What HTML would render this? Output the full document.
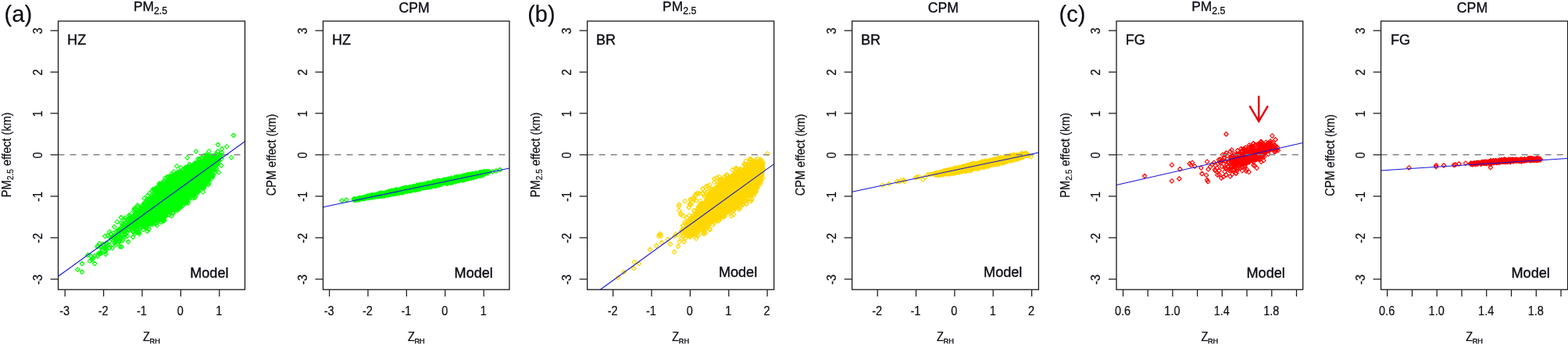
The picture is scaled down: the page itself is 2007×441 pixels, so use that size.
<!DOCTYPE html>
<html lang="en"><head><meta charset="utf-8"><title>Model effects</title>
<style>html,body{margin:0;padding:0;background:#fff}svg{display:block}text{font-family:'Liberation Sans',sans-serif;fill:#0c0c14;stroke:#0c0c14;stroke-width:.3px}.ax{font-size:15.8px;stroke-width:.18px}.tg{font-size:18.1px;stroke-width:.36px}.tt{font-size:17.4px}.lt{font-size:29px;stroke-width:.2px}.sb{font-size:9.7px;stroke-width:.4px}.bx{fill:none;stroke:#1a1a1a;stroke-width:1.3}.tk{stroke:#1a1a1a;stroke-width:1.25;fill:none}.dz{stroke:#848484;stroke-width:1.3;stroke-dasharray:8 7;fill:none}.rl{stroke:#1414d8;stroke-width:1.05;fill:none}.pt{fill:none;stroke:none}.m0{marker:url(#m0)}.m1{marker:url(#m1)}.m2{marker:url(#m2)}</style></head><body>
<svg width="2007" height="441" viewBox="0 0 2007 441">
<rect width="2007" height="441" fill="#fff"/>
<defs><marker id="m0" markerWidth="8" markerHeight="8" refX="4" refY="4" markerUnits="userSpaceOnUse"><path d="M4 1.25L6.75 4 4 6.75 1.25 4z" fill="none" stroke="#00ff00" stroke-width="1.1" stroke-linejoin="round"/></marker><marker id="m1" markerWidth="8" markerHeight="8" refX="4" refY="4" markerUnits="userSpaceOnUse"><path d="M4 1.25L6.75 4 4 6.75 1.25 4z" fill="none" stroke="#ffd700" stroke-width="1.1" stroke-linejoin="round"/></marker><marker id="m2" markerWidth="8" markerHeight="8" refX="4" refY="4" markerUnits="userSpaceOnUse"><path d="M4 1.25L6.75 4 4 6.75 1.25 4z" fill="none" stroke="#ff0000" stroke-width="1.1" stroke-linejoin="round"/></marker></defs>
<g>
<text class="lt" x="5.6" y="27.9">(a)</text>
<text class="tt" x="192.5" y="14.2" text-anchor="middle">PM<tspan font-size="12.3" dy="3.5">2.5</tspan></text>
<polyline class="pt m0" points="208.5,245 218.5,251.3 263.6,217.2 200.1,262.7 201.9,241.3 246.3,235.6 209.3,255 240.2,244 197.4,278.7 232.4,251.5 222.4,238.3 185.1,260.7 221.3,229.6 192.1,273.9 155.6,315.5 206.8,275.9 201.6,268 249,227.1 247.6,224.7 227,254.1 200.6,263.9 228.3,238.1 257.3,211.5 260.2,215.2 218.1,259.5 272.6,206.9 185.7,263.7 274.3,216.6 262.3,223.3 205.8,258.1 185.9,277.8 258.6,221.6 242.2,245 254.8,230.7 205.7,248.2 200.6,266.2 245.4,239.5 233.2,244.9 172.1,288 200.6,252.6 265.7,218.4 246.9,227.5 232.4,222.9 233.3,245 217.5,227.6 230.9,236.5 203.8,272.8 231.9,232.1 207.3,250.8 221.3,246.1 251,214.9 279,185 239.2,250.5 214.5,255 225.3,235.5 260.8,219.1 256.4,221.8 208.7,249.9 182.5,265.8 210.9,255 241.1,238.8 228,220.8 245.9,234.7 240.2,215.7 216.9,253.9 259.7,212.6 212.4,248.8 194.7,276.7 196.8,271.4 193.1,260.5 226.7,223.5 136,310.7 198.4,257.7 191,272.7 236.1,229.7 237.7,230.6 237.4,214.7 242.7,223.6 240.4,233.5 184.1,280.8 196.8,258.5 193.7,255.6 257.2,222.8 140,313.4 217.6,261.6 259.7,228.5 190.9,270.8 179.1,292.4 281.3,199 265.5,218.4 214,254.1 261.3,215.2 196,265.2 230.1,242.8 267.5,220.2 240.5,233.4 151,294.2 222.9,256.1 219.7,240.4 221.1,247.3 214.9,253.9 196.7,273.8 217.3,235.2 230.9,238.7 216.7,245.1 228.3,242.6 199.2,273.1 193.1,273.9 261.1,208.7 188.9,259.7 193.7,258.9 215.8,256.8 263.8,212.8 147,306.1 204.6,240 195.4,271.7 222.4,255.1 241.1,220.5 254.4,210.3 217.5,244.7 213.9,254.8 178.1,276.2 227,245.3 207,262.3 217.1,246.2 207.5,263.9 209.5,266 226.8,247.7 210.8,270.8 219.6,261.1 268.6,216.4 245.6,237.4 270.3,228.9 202.6,239.9 202.5,260.7 248.4,230.2 189,272.9 266.5,215.8 248.3,234.2 188.2,254.7 259.7,219.7 208.6,271 200.4,249.4 244.6,230.7 227.6,242.7 270.3,208.7 205,269.1 181.6,289.8 245.6,243.1 205.6,249.3 255.5,210.2 173.4,298.4 265.2,222.9 228.7,247.5 262.7,220.3 159.5,303.2 234.9,234.9 217.6,265.8 247.8,246.3 256.3,216.7 268.3,202.3 224.7,228.4 252.9,217.9 249.5,238 230.2,248.8 226.6,241 225.3,237.3 209.4,266.9 180.8,274.7 245.8,215.8 240.5,231.9 259.9,217.6 219.2,255.9 127.1,324.3 228.3,244.3 279,205.8 208.5,253.5 266.2,198.8 230.3,256.8 225.5,244.5 201.4,263.9 222.3,241.9 270.6,218.3 257.1,228.7 226.7,252.9 245.7,242 251.8,214 236.2,236 223.1,255.5 248.8,235.3 211.5,257.8 220.4,257.9 256.5,218.9 213.7,246.4 199.9,240 258.4,218.1 221.3,252.8 236.4,234.5 206.6,253.7 228,224.1 224.9,228.2 254.3,223.3 256.8,226.8 162.9,287.1 254,225 248.4,236.9 227.8,258.2 261.7,230.4 223.2,261.9 253,234.3 270.7,204.6 253.1,229.8 270.8,211.7 232.4,236.1 266.7,217.4 221.2,237.1 213.5,267.7 238.4,250.1 246.6,237.8 264.3,215.6 268.7,224 249.6,224.1 254,229.2 191.9,286 219.5,224.8 257.9,212.3 181.8,277.2 254,219 257.9,230.1 207.6,272.4 238.7,237.8 181.6,272.9 198.1,258.6 238,239.6 215.8,260.7 203.8,268 170.4,282.7 164.9,289.6 233.8,247.3 247,224.1 248.8,244.3 244.1,225.4 250.1,224.6 258.1,233.1 269.4,212.1 228.2,244 201.4,276.7 247.1,242.9 202.9,241.7 239.1,231.3 256.9,212.2 252.8,226.2 213.6,248.5 201.6,274.3 275.4,203.9 265.4,206.3 249,225.3 257.9,240 255,219.4 250.1,241 183.2,272.2 203.3,263 229.3,239.9 236.1,225.9 250.9,245 258.3,226.7 218.4,259.2 210.8,242 239.1,236.1 212,254.7 207.3,251.6 210.6,266 241.2,220.5 232,243 205,249.2 260.6,208.7 221.4,258.4 265.7,219.2 124.4,315.2 263.2,221 154.4,295.5 185.1,259.5 216.1,252.8 245.7,235.5 154.7,284.9 225.1,244.5 238.8,233.5 184.8,253.6 255.5,214.4 204.3,271.5 221,248.1 209.8,260.4 211.2,270.3 211.8,241.8 198.6,258.2 208.1,277.2 218.1,246.5 200.1,259.3 249.2,225.8 217.5,231.7 243.5,235.2 238.9,230.6 217.9,240.4 251.5,215.1 257,231.7 217.6,236.6 246,222.6 202.8,268.8 238.9,231.4 227.5,245.8 236.6,227.3 239.5,239.7 233.7,239.9 240,227.7 219.6,242.6 238,251.4 221,239.5 188.3,283.6 209.5,262.3 244,246.1 207.8,243.9 155.9,295.5 264.3,222.8 251.1,230.5 264.9,209.1 229.2,257.2 206.3,247.4 248.9,233.7 254,228.9 218.6,246.9 258.7,225.2 219.1,230.5 196.6,264.2 201.2,270 207.5,259 274,216.2 207.3,262.8 263.1,211.1 239.3,247.2 182.3,284.7 221.3,237.8 185.6,268.4 245.7,248.4 193.9,273.7 167.9,285.2 257,221.7 207.5,265.8 243.9,239.9 166.4,289.4 193.4,274.1 201.7,252.6 209.4,250.4 221.8,242.2 216.4,233.8 193.7,265.3 250.9,216.5 239.1,250.1 204.9,262.1 268.1,226.2 216.7,262.7 236.8,243.5 254.9,208.7 225.2,252.3 208.6,253.5 212.5,261.7 210,268.8 255.2,229.9 213,270.7 242.4,247.3 269.5,223.1 233.6,253.2 219.6,255 262.5,220.7 260.1,208.4 211.8,276 245.1,230.1 178.8,279.1 205.9,258 264,212.4 255.3,241.7 227.8,257.5 251.9,208 217.7,232.9 178.6,271.6 258,222.3 245.1,217.1 184,282.1 252.2,217.9 243.7,224 203.2,246.3 181.8,272.4 208.7,251 134.3,316.9 201.2,282.9 250.9,226.6 238.9,255.6 217.2,244.5 273.6,208.1 186.4,268.4 268.9,220.7 248.3,232.8 217.6,248.8 217.3,242.6 196.6,271.7 211.7,248.5 274.3,211.2 193.7,279.4 206,260 234.1,237.7 236.7,236.5 241.6,225.2 249.2,235.1 252.4,220.7 207.5,249.9 246.9,249 223.4,237.2 176.1,279.2 175.4,278.3 245.3,226.1 239.6,235 243.1,240.8 189.7,273.5 238.3,227.7 227,232.9 243.9,245.1 249.5,231.5 276.2,205.8 215.1,248.7 247.8,214.6 224.4,238.1 248.9,243.3 225,258.8 224.5,237.9 223.6,237.4 223.3,233.3 216,234.9 244,234.7 216.8,258.2 208,239.5 245.5,230.2 195,265.2 233.8,243.7 241.2,226.9 218.4,238.1 219.5,257.6 227.2,254.6 236.6,229.6 256,238.9 234.2,231.1 244.1,242.9 223,246.9 212.1,254.7 259.8,227.3 188,281.9 200.9,279.3 213.4,266.5 250.3,237.4 278.2,205.9 224.5,241.6 230.9,243.5 263.1,232.1 204.6,279.7 260,233 275.9,208 268.2,207.8 262.7,220 242.4,242.5 202.8,266.8 249.1,228.6 227.3,241.2 208.8,234 188.7,266.2 213.3,266.4 257,232.7 212.9,245.5 222.5,243.1 200,263.4 253.5,244.3 257.6,224 168,289.9 220.9,229.4 232.3,260.6 266.5,230.1 238.1,228.8 194.2,280.3 242.1,234 222.5,263.1 181.2,274.7 207.8,251.8 195.8,269.3 255.3,212.7 237.4,228.5 249.2,239.4 266.6,222.4 186.6,274 240.3,231.9 247,237.3 227.3,250 214.4,252.3 257.2,230.7 247.7,219.5 233.5,234.6 187.8,263.7 248.8,241.3 176,262.5 206.9,268.1 237,229.9 234.3,240.9 211.3,227.6 158.4,287.6 112.5,326 244,232.3 183.9,277.1 211.2,254.4 252.3,228.1 245.6,233.4 280,220.3 232.8,244.6 171.9,289.2 244.4,230.5 192.7,271.9 135,321.8 187.4,287.2 243.9,224.1 240.4,233.7 179.7,284.1 166.4,279.8 208.2,263.8 228.5,231.7 263.3,230.8 219.6,249.7 240.9,243.3 191.9,273 173.2,277.6 273.6,201.8 263,211.1 252.3,222.8 240.9,242.7 224.6,240.8 256,214.4 238.8,228.8 200.6,263.2 221.3,253.1 230.5,223.3 239,233.5 256,229.6 190.2,268.7 196.8,256.1 236.6,236.9 245.8,223.9 214,226.2 176.1,290.8 213,263.8 217.3,240.3 263.2,213.8 251,228.7 268.5,216.3 267.3,201.6 185.9,273.7 264.5,233.2 271.7,201.8 105,337 251.4,248.4 245.1,250.3 243.8,223.5 261.3,205.6 206.6,259.3 224.3,224.3 232.6,250.2 275.6,206.6 209.4,252.4 260.1,223.6 212.1,249.7 237.5,244.2 250,210.9 249.6,229.1 250.6,242.5 236.6,229 264.1,213.3 227.4,258.1 232.2,255.5 206.7,245.3 171.7,276.2 227.8,229.6 193.9,260.5 214,249.4 201,255.9 270,224.3 209.2,264.7 242.3,241.1 135.3,316.9 147.8,300.3 235.9,238.2 209.1,248.7 233.1,226.3 204.4,268.6 227.9,245.1 213,264.6 224.1,245.6 212.3,265.1 192.5,267.7 235.7,237.7 251.3,228.8 250.7,229.9 198.6,260.2 255.6,231 241.4,225.5 206.6,273.5 223.4,255.2 272.2,212.1 259.1,215.7 270.3,201.5 213.1,266.2 211.7,253.3 198.9,242.1 212,257.1 230.8,243.6 121.2,337 244.5,241.1 237.8,235.3 242,229.8 213.2,244.1 206.6,265.5 222.6,243.6 244.7,228.8 242.3,231.4 186.7,274.1 259.8,209 231.6,241.7 224.4,242.6 264,216.6 213,260.5 257.3,210.1 255.7,213.3 221.6,239.1 246.3,242.7 270.8,213.9 209.2,262.7 247,224.4 262.5,214.6 262.2,214.5 240.5,231.2 244.4,233.3 234.5,237.9 255.2,233.8 222.3,254.9 178.9,269.6 240.5,228.8 150,307.1 256.9,229.5 269.7,209.7 247.9,247.7 206.5,249.7 213.6,247.4 168.4,289.5 221,255.7 224.9,252.4 224.6,246.5 269.4,217.2 248.4,239.7 210,240.8 216.2,265.3 210.7,260.2 203.1,263.6 226.7,245.3 284.1,190.2 245.1,242.4 220,243.5 267.4,217 241.7,244.1 268.8,210.6 229.4,240.3 186.5,268.2 255,224.7 185.6,281.1 227.5,243.4 164.7,278.6 216.3,240.9 200.9,272.8 213.6,269.5 244,245.4 205.7,262.5 177.6,277 234,249.4 212.7,266.9 232,232.9 209.5,259.5 260.8,198.8 258.7,220.4 199.1,265.1 241.8,214.6 244.7,228.2 194.7,252.3 250.6,242.3 213.3,243.6 202.8,267.3 224.9,230.2 260.7,206.9 221.1,255.7 258.9,216.5 246.8,236.5 212.4,259.2 215.4,261.7 240.2,244.3 207.9,256.2 227.2,242.1 239.6,240.1 228.9,242.7 200.1,249.8 248.3,225.5 268.9,213.7 198.3,257.4 267.6,207.9 217.1,257.8 223.5,252.5 184.4,270.5 237.6,249.3 183.3,283.9 206,257.1 217.8,232.4 152.6,293.2 148.7,296.3 250.8,225.3 192,285.2 200,264.1 207.6,259.8 266.4,204.2 206.5,250.8 248.2,219.3 249.6,239.6 198.4,249.9 180.3,268.4 224.9,264.2 244.5,231.2 203.2,257.1 249,237 210.2,265.5 185.1,270.1 211,249.7 216.8,258 258,230.4 255.3,213.2 211.9,256.1 219.4,250.7 222.4,251.8 178.3,299.1 197.3,279.6 236,233.9 204,248 271.8,214.2 254.7,218.8 218.9,248 213.3,270.1 262.7,225.8 253.2,220.5 237.5,221.3 198.1,275.1 198,266.7 223,250.4 193.5,264.1 219.8,238.6 233.5,225.9 204.8,256.6 178.5,284.4 259.6,228.1 244.4,235.3 200.9,242.8 229.1,243.3 170.8,296.9 206.3,261.3 250.8,235.5 185.2,269.8 276,198.6 216.8,265.8 251.3,221.2 264.1,197.6 260.6,227.9 206.4,246.5 230.2,231.1 259.7,225.1 280.5,201.7 116.2,327.5 243.5,232.8 222.9,237.8 189.6,266.1 240.4,228 259.5,219.1 260.4,229.2 152.5,309.6 236.4,237.1 269.1,207.6 220,259.5 205.2,266.6 203.5,274.7 214.7,252.8 249.6,236.8 216.3,261.4 238,251.6 191.9,257.4 265.5,226.7 162.2,284.6 245.1,238.4 232,244.8 187.7,257.6 188.3,275.4 196.6,274.1 230,254.9 245.8,236.4 253,217.1 254.8,240.8 228.1,253.4 221.9,256.3 242.7,218.2 236.3,230 231.8,246.5 272.4,211.2 232,249.8 159.4,281 245.3,217.1 193.6,266.2 212.5,241.5 216.8,237.7 259.9,223.1 218.6,247.5 209.6,266.8 192.6,261 247.6,251 193.6,273.1 248,227.8 216.7,258.5 166.1,284.1 236.7,230.5 229.8,229.1 196,254.8 274.8,204.9 180.3,277.3 247.6,225.3 256.1,233.4 219.6,240.7 204,234.6 225.3,265.5 266.2,218.3 279.1,208.9 205.1,257.6 221.4,271.3 230.3,230.4 193.3,268.5 254.6,229.3 201,245.3 218.6,264 142,298.8 278.1,203.9 192.2,276.8 296.2,201.3 228.4,231.7 240.7,221.8 230.3,221.1 194.2,284.6 230.9,264.8 248.1,232.2 207.8,254.4 268.8,206.6 224,241.6 259.4,229.7 248.3,226.7 225.8,236.4 176.9,282.8 225.8,242.4 259.6,218.4 181.4,274.1 270,215.7 231.6,239.3 192.8,270.4 246.4,226 241,241 197,265.1 209.8,250.2 226.4,249.3 193.9,269.9 187.9,286.1 240.9,233.3 245.2,238 187.3,267.4 223,245 209.9,248.1 222.7,242.5 249.4,225.6 242.7,225.7 267.5,223.7 257.5,236.4 189.8,269.5 190.8,269 176.2,296.5 231.3,245.3 250.8,222.8 189.8,262.7 203.4,265.7 222.1,236 217.6,259.8 215.4,250.7 266.5,223.8 209.1,264.3 217,248.2 263.3,211.4 129.2,316 213.6,266.1 214.9,250.9 200.2,248.8 238.4,252.7 226.2,248.9 261.4,212.8 210.4,246.2 244.6,238 186.9,283.2 195.8,270.1 204.2,270.9 196.6,274.9 190,286 164.2,309 201.3,262.9 251.4,231.4 235.2,236.4 198.7,276.7 249.8,231.9 247.3,220.2 276.3,202 226,233.7 188.7,274.5 191.4,262.6 239.6,225.8 238.2,254.4 245.4,227.6 214.3,249.9 204.9,254.4 229.4,251.1 263.1,215.7 198.3,266.4 260.3,211.6 228.3,244.8 201.2,253.5 145.6,301.3 250.4,234.1 229.1,239.3 256.1,221.4 233.5,255.1 261.6,231.5 275.7,206.3 219.7,269.2 218.8,236 202.1,266.4 212.6,264.7 232.4,234.6 227.9,251.7 217.7,252.2 245.8,234.2 201.2,267.5 214.5,236.1 255.9,230.8 226.2,236 237.6,218.8 230.5,236.7 142.3,305.4 231.4,252.4 224.4,255.7 202.9,262.7 265.5,223.1 240.2,245.6 213.9,241.6 210.4,256.6 199.2,275.4 223.9,240.3 179.2,280.5 211.5,261.3 211.4,268.9 204.8,261.4 261.7,216.6 262.9,214.3 236.8,220.1 268.7,206.7 163.9,293.2 180.1,272.8 210.7,267.2 212.4,260.2 210.2,240 259.4,213 203.7,259.3 244.1,229.2 200,279.2 195.9,275.4 234.1,245.1 231.3,248.2 210.1,280.7 218.8,266.8 197.1,264.4 190,271.2 228.1,259.1 219.8,233.9 202,252.3 229.1,253.4 244.3,226.1 193.6,281.4 275.5,199.3 206.1,262.3 199.1,254.6 234.3,244.6 153.9,295.6 244.8,216.8 262.8,211.6 184.7,273.5 252.4,232.4 224.1,239 240.9,224.8 246.3,220.9 239.3,236.2 186.8,276 243.7,222.2 229.1,238.6 253.2,220 206.3,251.4 275.4,208.5 261.2,232.7 240.8,249.7 202.7,245.6 189.4,265.3 255.2,207.8 218.8,248.1 225.4,224.7 191.9,260.3 182.2,262.7 277.7,202.2 255.6,213.5 265.3,213.9 224.9,256.9 175.2,273.8 244.7,218.3 247.8,227.7 238.8,225.8 232.1,238.2 220.1,251.9 212.5,236.7 269.8,215.6 217.1,265.5 270.2,223.4 222.8,240.6 217.2,248 234.9,230.8 235.6,230.6 219.3,250.1 246.2,230.4 214.8,268.2 217.7,262.6 257,233.4 235.3,234.1 251.7,233.2 208.5,259.2 259.8,210.7 214,268.7 269.3,216.8 256.1,206.8 247.1,236 205.7,269.8 256.7,210.6 237.3,238.7 237.4,239.8 234.8,237.1 265.3,233.9 239.1,220.6 227.3,230.3 256,212.8 176,275 220.7,249.8 230.5,260.3 257.8,223.2 267.4,223.5 211.5,250.3 266.9,201.2 248.9,235.3 199.2,286 173.4,268.2 221.4,241.8 258.7,224.7 227.5,226.5 253.3,238.9 270.2,217 178.4,271.3 247.6,244.1 243.9,225.3 275,209.5 251.7,210.9 243.1,231.8 196.5,243.1 240.6,229.9 229.9,245.5 263.1,227.5 202.7,253.2 283.9,195.2 262,215.9 210.2,239.6 222.8,258.7 201,250.4 233.7,248.3 193.5,257.1 247.9,217.3 228.3,239.9 181.2,277.2 216.8,241.7 241.2,235.7 217,266.5 266.1,224.4 188,272.3 227.9,257.5 270.2,219.4 205.9,260.2 254.9,208.1 260.7,232.4 231.5,230.1 227.5,241.9 186.2,280.8 217.9,232.9 218.8,236.6 273.5,211.6 219.2,247.6 253.1,227.6 204.2,251.5 234.5,228.9 234.3,229.3 243.1,237.9 219.3,242.6 193,268.3 248.9,241.9 199.9,273.9 168.2,278.6 218,257 217.3,259.7 232,232.6 202.4,273.1 252.6,229.3 243.7,233.5 211.5,259.3 175.6,288.5 239.9,237.2 249.2,239.9 230.4,264.2 199.8,270.5 260.6,238.9 222.8,242.3 209.5,247.8 173.7,290.9 210.2,261.1 261.9,215.8 156.4,307.8 191.2,267.2 241.3,245 278.5,201.1 266.4,215.9 258.7,231.2 251.8,235.9 197.8,282.2 216.1,246.4 245.8,234.6 178.1,285.4 207.6,237 258.7,222.7 224.6,251.5 195.3,273.7 245.4,232.7 228.8,238.3 201.6,267.2 190.2,293 211.7,251.1 179.9,285.4 199.1,277 258,234.4 233.3,238.1 253.6,234.1 216.6,236.2 223.8,239.3 261.1,225.8 258.1,225.8 263,221.1 211.7,251.7 202.8,270.1 224.6,238 235.5,230.9 199.8,264.8 266.9,229.9 202.7,263 247.1,227.6 208.9,250.2 208,271 207.6,256 219.5,250.2 235.2,239.1 264.7,217.6 246.8,236.5 232.5,239.2 168.4,272.9 193,266.1 255,227 241.4,234.4 164.3,281.5 266.5,230 200.7,248.7 252.4,239.5 202.8,274.7 256.5,214.2 207.4,269.6 266,212.6 232.3,246.2 206.9,259.7 201.6,266.7 224.8,245.7 244.8,244 236.8,243.1 207.1,258.3 243.6,249.4 170,278.9 237.4,259.5 254.1,215.4 172.4,289.4 205.2,261 217.4,271.6 240.9,213 210.2,240.6 202.6,252.3 209.1,260.7 232.7,237.6 241.7,242.6 214.3,256 227.7,234.6 175,282.9 173.9,274.1 213.1,256.9 206.2,256.9 264.4,215.1 262.4,210.9 259.9,245.4 201.7,273.1 252.8,220.4 154,296.8 263.6,204 127.3,311.5 170,295.6 125,327.5 194.8,272.1 188.6,280.7 237.6,225.7 267.1,227.5 187.8,268.7 135.4,318 225.1,247.8 261.3,205.9 223,246.6 198.1,265.2 218.2,270.8 200.2,263.2 263.5,218.5 225.6,238.3 204.1,276.2 215.9,265.5 204,235.9 198,243.6 184.1,270.7 215.1,266.2 191.4,257.3 234.8,227.7 251.4,228.2 212.9,272.8 251.9,224.2 191.7,280.6 238.5,224.8 246.2,212.2 236.3,231.8 258.2,221.1 196.2,262.1 260.2,226.2 229.9,255.9 222.6,234.9 263.3,208.6 234.8,234.3 275.9,211.2 182.6,282 247.6,233.7 169.9,281.2 216.2,236.5 257.1,235.9 223.5,256 238.8,237.8 270.9,215.1 254.5,235.5 253.8,233.4 226.3,238.7 233.6,227.5 217,259.4 269.9,219.1 226.6,239.2 268.5,214 235.3,254.6 255.3,239.8 230.9,223.2 227.7,240.9 241.4,219.8 210.3,257.9 244.1,230.4 245.7,225.9 256.4,233.8 243.4,217 216.7,260.1 204.2,271.6 261.4,232.6 239.7,244.8 167.9,286 192.8,265.5 143.7,303.1 213.8,248.5 180,273.1 161.2,285.9 202.5,266.6 207.8,259.7 229.4,232.1 207.5,259.3 262.1,216.6 274.9,211.9 163,301.9 189.2,274.5 222.6,257.9 254.4,237 235.2,229.6 245.6,239.2 250.3,251.6 265.6,206.6 247.7,240.4 242.6,240.6 260.5,218.8 247.9,232 213.9,243.6 219.5,245.3 212.1,259.2 166.9,287 248.6,235.8 266.2,213.4 188,281.6 244.5,244.4 206.7,253.3 141.5,303.3 208.4,270.6 210.1,250.5 220.2,246.3 226.9,255.8 255.6,225.8 228.4,252.1 221.2,253.8 205.5,257.3 237,258.2 239.4,221.8 203.1,272.9 259,211.6 274.2,214.6 194.1,264 207.7,255.3 242.9,237.8 283.5,202.9 272.7,210.5 185.8,273.7 230.4,237.2 221.6,227.9 226.6,244.7 250.1,224.6 246.4,219.3 260,213.4 260.7,238.9 246.6,227.2 237.8,259.4 201.5,261.4 230.8,239.1 251.5,233.6 243.9,226.4 150.1,294.4 260.2,222.9 256.5,224.9 278.7,193.7 223.9,254.7 241.4,242.5 192.4,272.5 176.8,283.4 161.1,299 197.8,269.4 211.5,256.4 218.1,247.9 249.9,234 165.6,283.6 204.2,271.9 244.6,240 270,214.7 248.5,231 210.2,282.2 240.2,228.4 207.2,266.8 223.7,253.7 220.3,265.5 201.1,257.7 232.7,224.9 191.9,264.3 226.8,250.5 254.6,224.2 230.8,249.1 233.6,260.2 196,256.5 191.6,263.3 226.6,241.7 275.9,212.5 207.3,259.5 246.4,226.1 224.9,241.9 200.4,269.5 214.4,256.6 229.1,267.2 217.6,261.1 238.3,228.4 243.9,221.8 232.8,247.5 238.2,220.4 237.1,230.2 212.9,243.3 272.4,225.8 257.8,220.7 233.4,251.6 252.1,228.3 208.8,262.7 201,255.3 241.9,221.3 265.1,211.5 237.1,227.9 180.1,290.1 264.4,224.4 254.7,214.7 251.7,238.9 243,236.4 126.2,323.9 232.2,247.8 235.5,225.1 240.7,239.1 224.2,257.6 263.8,210.2 269.5,218.6 228.7,253.1 238.2,233.6 199.5,271.1 191.5,280.9 205.1,235.2 237.3,241.7 203.6,279.9 237.8,218.5 276.5,216.1 207.8,246.1 240.2,224.9 210.2,260.7 187.7,284.2 248.8,231.6 203.1,263.9 243.4,228.2 178.1,282.3 234.5,243.9 247,225.2 197.3,276 155.3,300.7 216.5,267.1 205.1,254.8 230.6,263 234.5,241.4 222.2,247.8 247.1,215.1 235.1,236.5 269.3,221.8 200.8,249.7 237.1,242.8 218.1,258.6 229,238.3 260.3,214.4 208.9,264.2 264.5,221.6 196.8,264.1 177.5,297 251,193.7 190.5,273.4 232.6,260.5 244.6,243.1 195.1,256.3 213,254.5 210,259.8 241.7,242 218.1,244 230.7,242.4 243.1,242.7 202.9,276.2 184.3,260 227.1,239.6 253,230.1 244.6,241 213.6,267.6 199.6,246.1 198.5,282.3 232.4,232.9 252.1,226.8 190.2,292.7 186,284.2 195.1,251.9 234.3,234.2 216.9,247.8 176.4,270.2 212.3,259.7 219.5,222.4 184.7,278.2 280.6,201.4 264.9,224.2 232.8,248.8 231.2,232.3 224.4,230 188.4,273.4 200.3,260.2 265.9,221 257.1,211.3 246.6,231.2 234.1,232.7 236.1,230.4 258.5,216.8 222.4,247.8 262.8,229.1 214.8,264.5 271.2,203.8 260.5,230.4 220.8,244.9 224.3,249.1 269.5,218.4 211.2,270.1 207.7,250.6 215.9,258.1 193.6,267.8 186.1,267.1 186.6,265.1 224.5,250.9 145.3,297.9 222.9,240.6 206.1,248.6 210.2,261.5 186.9,290.7 166,285.7 221,261.6 231.6,234.1 228.6,246.3 197.8,266.6 228.1,241.5 270.6,217.1 224.6,241.6 256.4,224.4 262.3,225.9 186,264.2 221.8,247.2 258.8,210.4 225.8,244.8 262.5,213.7 146.7,311 223.8,244.7 199.2,267.8 270,220 221.7,272.5 213.5,239.9 205.6,263.8 269.6,211.6 241,225.3 201.2,258.3 205.3,260.8 261.2,220.5 253.3,216.2 211.3,251 170.2,303 228.9,245 207.1,253.8 222.5,248.2 234.2,243.3 202.4,264 229.9,238.8 246.7,236.7 227.3,242.9 258.6,220.7 261.9,220.2 205.8,255.4 206.8,269.7 257.1,232.8 211.2,257.9 230.9,254.8 222.6,248.4 226.2,237.2 197.2,259.7 254.2,220.7 222.9,237.4 187.8,279.1 239.9,234.5 135.8,319.2 226.6,243.5 222.5,252.8 244,233.3 241.7,228.9 199.4,269.9 230.1,243.7 180.2,278.3 205.3,274.6 255.3,219.3 209.3,261.3 204.5,266.9 209.6,250.3 243.8,241.6 212.7,261.1 257,233 253.5,229.4 224,240.1 239.6,253.7 265.5,207.3 236,259 243.8,217.9 244.7,246.2 231.6,236.7 187.3,275.4 239.2,235.7 222.5,258.1 259.1,237.9 199.1,251.6 259.1,223.1 248.6,219.3 277.2,206.3 193.8,278.8 250.4,240.4 249.6,238.2 256,232.8 263.8,224.1 207.3,233.9 283.4,198 205.4,237.4 197.2,260.9 230.6,242.8 230.5,246.2 189.3,268.1 177.6,286.1 202.5,282.4 222.9,237.5 261.9,219.9 269.8,210.1 267.1,215.1 216.1,258.4 267.5,201.6 255.5,216.9 159.3,292.1 254.5,222.6 188.8,250 245.2,218 252.8,232.8 164.8,294 199.4,259.4 250.5,217.6 135.3,325 216.6,242.1 264.4,199.2 214.9,262.1 220.5,254.9 208.9,253.5 259,212.3 162.7,297.2 259,219.8 247.4,239.4 171,282.9 179.9,283.4 235.3,225.5 200.5,284.8 217.6,253.4 204.7,255.6 259.5,218.7 235.9,247.7 257.8,201.7 200.9,248.4 239.8,201.6 224.9,235.6 242.5,229.1 240.5,235.9 198.4,265.2 209.8,259.1 254.9,221.3 210,232.6 181.8,281.3 206.2,251.8 159.9,295.8 250.4,232.8 201.6,276.4 221.7,224.7 238.2,232.5 244.4,213.5 253,225.5 149.9,283.7 214.5,250.2 235.5,242 199.7,277.8 254,220.8 242.3,233.8 273.3,215.1 212.6,249.9 223.5,230 209.7,269.3 218,260.9 252.8,233.6 165.3,286.4 208.5,253.8 200.2,256.9 222.8,250.5 230,238 255.8,222.7 238.6,227.7 208,247.4 234.9,259.1 220.1,251 235.6,246.9 263.2,214.8 245,226.4 193.6,274.7 252,229.4 143.7,317.1 250.7,217.8 243.2,230.7 203.1,267.5 257.7,232.8 235.2,236.4 227.2,239.9 211.8,251.1 219.1,243.6 166,289 208,254.9 258.2,236.8 220.1,246.7 218.5,250.6 244.5,241.2 255.7,217.1 198.1,267.1 219.5,245.7 213.4,252.1 239.6,233.2 198.5,266.5 203.6,254.7 201,258.3 206.5,254.6 240.7,242.6 258.9,217.2 198.2,252.9 131.9,312.2 261.9,232.4 261.7,228.2 232.2,234 261.3,209.4 258.8,202.8 221.9,257.1 208.3,271.4 245.7,240.9 224.8,243.8 244.9,237.6 217.2,235.8 215.1,252.4 182,270.5 200.2,268.2 245.1,239 230.4,248.3 259,211.1 231.1,250.1 236.4,236.6 234.6,226.3 224.5,233.3 250.1,234.1 226.6,241 188,272.7 263.9,221.7 200.1,273.7 268.9,214.3 200.4,251.8 217.2,257.1 191.3,277.1 202.1,251.2 250.8,238.5 195.3,258.9 193.6,263.7 262.1,218.2 264,219.4 224.6,245.6 263.3,224.2 204.5,259.3 215.4,240.3 235.4,223.3 196.7,260.6 238.7,225.5 210.9,248.1 211.9,237 242.5,210 210.5,239.7 248.2,240.5 235.6,235.5 202.3,262.5 211.4,252 204.3,251.4 199.9,270 212.5,239.6 202.5,245.5 263.5,219.3 200.7,266.3 179.6,283.8 125.6,314.4 252.2,227.2 232,244.9 222.1,223.1 246.5,238.5 239.9,255 266.4,211 206.4,247.4 236.7,242.6 246.9,229.8 249.4,224.4 182.8,287.9 223.1,228.5 206.4,241 238.1,230.6 186,289.1 207.5,267.3 250.9,226.8 273.8,211.9 214.7,237.2 249.9,225.1 238.4,242.4 181.7,263.8 231.7,258.2 261.1,215.7 265.4,216.4 212.1,245.3 218.1,263.2 260.1,225.2 234.9,230.2 187.5,277.2 218.1,253.7 242.4,240.8 215.9,248.5 265.6,231 203.5,249.1 259.7,228.1 226.9,239.8 224.9,239 260,232.9 237.9,238 246.1,230.7 214.6,239 191.7,266.5 197.4,251.2 228.8,239 211.7,257.4 199,266.7 261.2,228.5 201.1,288.1 237.9,259.7 211.9,248.3 209.8,267.5 209.9,255.6 210.1,266.5 225.6,260.1 238.2,221.4 217.9,238.4 236.1,231.4 266.2,218.1 194.1,283.9 200.8,258.8 249.7,208.3 146.2,289.9 235.5,241.1 254.2,226.7 129.1,323.9 266,206.8 251.7,234.9 254.1,223.9 263.1,217.6 260.8,225.3 259.5,234.5 204.2,264.7 177.9,287.9 245.9,244.7 265.4,208.9 259.5,210.8 254.7,241.8 251.1,237.5 262.8,234.3 218.1,245.3 219.9,258.4 179.3,281.3 189.1,285.8 232.8,227.8 233.9,249.2 280.3,202.2 211,252.2 259.1,229.2 252.5,228.9 257.1,221.3 232,224.4 223,239 262.1,233.7 249.7,227.4 193.9,285.4 255,234.8 168.7,283.5 210.5,259.3 191.9,272.4 264.5,219 197.6,272.5 247.1,218.8 252.4,220 219.8,245.4 264,231.9 234.5,246.3 261,214.8 212.6,245.1 233,248.7 199.5,260.7 231.5,248.1 209.6,254.8 186.9,291.6 237.7,213.8 200.8,266.1 180.6,291.1 220.9,234.9 197.2,248.5 219.4,257.3 247.5,227.3 222.4,251.9 227.2,242 267.3,226.7 241.6,231.9 218.2,257.5 248.5,247.1 242.5,235.8 201.8,258.7 183.3,275.4 253.9,233.4 181.4,283.5 280.1,198.5 227.8,253.5 203.2,263.8 251.7,232.5 199.2,254.6 228.5,264 264.3,215.5 248.5,247.8 261.8,230.6 214.4,265.2 208.5,252.9 153.7,302.1 208.7,247.8 230.3,245.6 203.2,268 254.8,231.3 227.4,240.5 268.8,213.3 256.7,222.5 195.8,242 212.6,249.2 255.1,224.9 268.4,212.6 145.9,307.7 219.6,253.5 271,225.3 228.6,250.7 208.1,238.1 224,268 229.4,236 188.1,267.4 223.6,257 197.5,258.9 231,259.8 269.1,207.1 239.8,220.1 105,347.5 210.9,254.8 272.4,213.8 183.4,272.9 184.4,264.2 227,220.5 173.6,279 207.4,252.2 217,257.5 208.5,249.4 198.8,266.9 240.6,245 185.9,279.3 265.2,227.5 195,257.8 251.5,233.9 152.1,308.3 237,215.7 158.1,296.4 266.2,224.5 190.3,256.6 240.1,237.1 173.3,289.4 258.5,210.4 232.8,241.9 134.2,301.8 242.4,227.4 181,285 241.3,244.3 184.7,284.5 173.6,273.6 221,242 279.7,204.3 235.5,238.7 226.6,267.1 201.2,261.7 258.2,218 228.8,237.2 179.1,274.3 261.6,232.5 241.9,231.5 242.2,229.3 277,210.2 220.2,249.8 251.8,213.6 239.6,237.9 239.3,216.7 260.8,225.9 248.1,238.1 220.2,262.5 243.5,222.1 199.2,268.1 268.4,200.2 227.4,225.1 249.5,242.5 188.5,271.1 236.9,246.6 214.3,249.1 232.2,255.8 169.6,280 255.2,211.8 240.1,230.4 225.3,248.6 256.7,231 270.3,215 180.1,268.4 178,297.1 264,213 234,243.9 248.8,252.9 249.7,226.2 206.4,238.8 246.6,236.5 242.2,252.1 237.4,236.9 213.2,244.2 201.8,272.4 204.5,265 245.2,227.7 227.4,240.9 256.4,217.8 261.6,222.6 229.6,243.4 226.7,244.3 217.4,267.8 246.4,233.4 196.8,264.1 205.1,244.1 153,307.4 248,248.9 200.5,249.4 238.4,240 204.7,258.6 208.3,258.3 221.2,247.4 144.2,304 241.8,232.2 227.9,247.8 238.3,232.1 219.4,258.5 283.2,211.6 216.7,274.5 260.8,231.3 266.5,219.5 253.4,231.9 271.3,207.8 216,263.8 232.3,240.2 190.1,277.3 254,234.2 271.3,204.2 259.5,218.8 247.6,234.5 202,242.9 148.2,305.7 238.7,237.1 240.9,254 275.8,205 251.3,226.2 219.3,255.8 220,243.1 268.9,225 187.3,276.7 222.9,253.2 266.8,220.1 203.8,247.3 215.9,250.6 220.3,244.3 247,222.1 243.1,212.7 218.9,255.7 166.4,275.9 252.6,239.3 254.4,234 207.6,276.3 199.8,256.8 232.4,224.2 191.5,260.3 268.6,205 192.7,281.9 115,333.7 210.1,259.1 241.3,232 220.1,251.6 215.2,251.8 201.3,255.8 214.8,267.2 130.5,316.1 212,253 214.8,245.9 257.9,213.6 258.3,218 209.2,277.7 217.1,250 254.2,225.1 257.6,227.8 176.2,288.9 215.5,243.8 228.9,241.6 153.5,293.9 261,218.7 218.9,253.5 239.3,214.2 225.8,256.6 275.9,209.1 190.1,285.9 198.8,271.9 249.3,235.2 210.5,270 207.7,245.1 204.4,234.8 242.1,228.9 243.7,230.8 244.3,239.2 220,237.2 217.3,250.3 191,265.6 210.4,230.8 261.8,213.8 249.3,208.3 217.1,242.8 189.7,256.1 250.2,225.9 225.3,236.1 218.7,242.4 226.6,256.3 242.5,225.4 243.6,223.5 222.3,247.3 229.7,248.7 233.8,233.6 213.3,251 260.2,205.8 243.1,238.6 221.7,253.1 243.7,217.7 248.9,227.1 266.6,218.7 257.8,225.1 247.2,226.2 253,232 245,223.6 184.8,284.2 251.6,224.5 226.7,246.6 236.4,222.7 265.2,222 235.8,247.9 241.3,231 245.3,235.1 197.8,262 196.3,265.3 209.6,249.6 226.9,248.9 228.5,240.2 229.4,244 226.4,248.3 223.8,249 259,223 241.6,239.9 197.2,272.4 181.8,284.7 205.2,268.8 270.8,214 222,250.3 261.9,224.2 227.8,263.2 202.8,265.7 259.4,227 225.1,249.1 189.5,266.2 205.5,256.8 257.3,215.9 267.5,211.8 216.1,241.8 271.7,209.1 213.5,261.3 176.8,287 274.2,207 196.8,266.1 238.4,238.8 236.3,215.2 207.9,275.2 170.2,286.4 230.7,227 206.4,281.2 257.3,215.9 99.5,344.5 179,281.9 220.7,247.6 199.5,258.4 189,264.6 253.2,210.9 234.2,229.5 240.4,228.6 204.9,269.8 242.3,235.2 176.3,282 228.4,246.2 202.8,259.7 225.5,256.9 186.8,285.6 229.6,241.3 235.6,233.8 258.3,226 166.9,291.2 240.3,251.7 194.8,259.7 238.8,242.4 234.7,216.3 234.9,240 192.1,274.1 203.3,246.3 273.1,211.2 209,260.1 242.6,235.1 254.4,223.5 259.4,207.8 260.2,228.4 260.3,205.5 219.5,245.8 213.1,263.9 228.1,242.5 228.7,262.9 238.2,237.6 229.5,265.9 231.4,244.2 263.2,222.3 186,271.3 255.4,225.4 259.3,217.9 168.6,289.2 237.9,230.8 223.1,242.6 233.7,232.2 233.2,242.7 206.9,265 231.3,235.1 193.6,267.9 183.2,269.8 244.9,220.3 224.4,250.7 207.6,259.2 213.4,257.6 197.7,276.1 191.9,263.9 249.3,239.8 201.3,269.9 192.4,280.2 217.4,235 229.2,232.3 240.6,243.3 264,223.2 120.9,327.1 247.9,230.4 169.1,289.1 236.6,248.6 186.9,286.3 232.7,232 252.6,230.5 173.7,280.7 223.3,248.3 254.3,222.1 240.3,241.7 211.4,236.4 208.3,262.1 190.7,273.3 234.2,230.8 198.1,274 218.6,260.4 246.7,243.4 227.9,243.6 216.4,233.7 267.4,211.3 151.3,304.1 209.8,242.5 263.4,213.7 249.7,225 239.3,235.4 256.9,221.1 243.7,230.5 179.5,279.6 129.1,322.9 177.1,274.5 217.7,235.2 263.9,222.7 258.8,223 183.9,272.7 251.4,217.1 253.5,238.8 218.3,245.5 224.5,241.6 235,238 276.6,196.7 258.7,225.8 237.5,230.3 247.4,232.6 252.4,235 187.2,273.1 168.4,286.9 249.2,224.2 233.3,244.2 242.6,234.9 204.4,279.8 216.8,263.5 194.2,274.6 261.9,208.1 192.7,274.8 264.3,211.2 237.8,230.5 228.3,250.7 210.7,259.7 243.9,235.7 199.5,259.5 230.8,235.4 225.7,245.3 217.4,251.2 268.7,208.2 222,254.9 238.3,253.2 237.3,219 258.2,218.5 225.2,242.7 220.7,258.8 158.8,291 191.6,267.2 236.2,219.1 242.3,238.1 256.7,225 265.1,217.3 273.1,223.8 254.5,232.5 199.9,270.5 265.5,215.6 200.4,256.8 140.3,317.1 230.2,232.6 245.8,226 223.5,240 246.7,212.7 153.5,315 248.2,210.7 195.2,286.4 217.9,250.9 179.9,274.8 245.3,235.1 267.6,227.1 255.7,239.2 257.9,234 273.1,213.2 261.2,223.4 238.4,250.2 225.8,234.9 224.4,232 225.6,244.8 255,238 165.9,278.4 213.8,239.8 179.1,272.9 228,244.3 254,244.8 298.9,173 216.7,265 238.2,228.9 212.4,251.7 259,220.4 178.8,286.2 196.9,276.1 198.8,274.2 222.2,235.8 167.5,280.3 165.8,289.1 204.6,249 251.1,236.6 255.4,218.4 239.5,228 186.8,286.7 257.3,228.9 155.4,295.5 199,266.2 233.8,250.8 248.1,214.9 153.1,294.3 250.4,235.6 267.6,209.3 213.6,262.3 202.8,259.8 263.3,206.8 203.2,252.5 202.1,262.9 223.2,250.1 194.9,244.5 266.7,221.8 246.1,223.3 222.8,246.3 205.7,243.4 205.6,248.6 140.2,296.3 205,262.3 224.5,233.3 200.9,262.6 241.5,241.5 228.5,248.9 232.9,258.7 250.1,219.3 198.3,276.8 253.9,224.4 257.9,226 266.1,220 269.6,208.9 242,229.8 215.9,231.4 233.9,249.7 210.7,236.1 214.3,265.6 219,240.7 219.8,246.5 193.5,262 271.8,225.7 228.8,254.6 206.8,244.7 225.2,246.4 226,252.4 253.4,236.3 200.5,264.9 219,263.6 195.7,264.7 271.9,211.5 256.9,222.3 253.5,240.5 210.6,260.8 205.9,263 185.4,269.3 218.5,229.7 235.1,245.6 256.3,209.2 242.6,235.4 253.1,224 256.2,213.3 217.8,248.4 247,234.2 253,213.8 229.6,256.4 221.7,249.3 215.7,264.3 272.7,210.9 277.3,214.9 223.9,239.1 263.3,217.8 228.6,248.6 198.5,263.3 229.2,232 205.6,280.6 268.1,226.6 253.3,232.3 191.5,272.2 225.9,229.4 177.2,271.8 206.6,257.4 276,203.1 185.4,283.7 266.8,217.3 256.6,236.7 210.6,268.8 225.8,244.4 208.4,245.9 256.5,219.3 257.9,222.5 230.3,229.6 249.5,226.1 206.2,265.5 216.8,227.6 218.1,263.9 210.9,263.4 223.2,247.7 255.7,221.1 198.9,279.9 260.8,213.9 253.4,235.3 267.1,218.5 189.6,269.2 216.1,257.9 211.1,248 242.1,243.2 247.1,232.1 179,286.3 241.6,234.7 220.2,243.1 254.6,236.8 221.6,240.5 218.6,251.7 195.4,251.7 203.8,237.4 239.4,227.6 275.8,208.9 224,246.2 215.2,245.7 188,282.5 239.3,243.9 255.5,221 268.7,212.5 231.5,241.5 214.7,259.2 257.6,215.7 195.7,284.7 245.6,227.5 238.5,241.9 275.1,204.2 263.9,219.9 210.3,252.1 184,279.8 168.5,287.1 213.6,262.1 252.5,231.6 134,316.5 235.3,243.5 269.9,198.8 245.4,240.6 240.8,259.5 234.7,255.9 245.9,218.4 200.7,268.4 209.1,262.5 265.1,215.5 241.8,232.7 244.3,241.1 217.8,234.8 261.5,212.3 263.7,223.7 247,234.9 194.3,249.5 203.5,256.3 228.1,235.9 201.2,256.9 205.7,266.2 137.7,314 230.5,229.4 239.8,233 260,223.1 266.5,221.3 250.6,221.3 199.4,270.3 236.7,240.1 268.7,226.7 267.2,214 255.5,232.4 255,241.1 223.6,260.2 253.8,210.4 249.2,235 184.6,274.7 249.4,230.6 190.9,280.7 228.5,249.3 231.1,225.9 233.1,263.6 249.9,232.7 207.3,249.8 238.8,257.7 171.1,276.9 214.5,264.3 240.6,235.7 239.3,235 252.3,230.2 178.1,270.2 256,208.8 172.1,266.5 250.6,219.4 290.3,187.3 179.4,267.3 234,239.2 257.2,211.3 210,276.8 195.5,251.6 256.4,226.8 252.7,222.4 173.2,275.1 248.6,234.9 221.5,263.3 239,247 230.1,253 207.1,265.7 214.5,265.3 262.9,215.2 245,239.1 208.1,246.4 210,261.4 187.2,275.2 252.6,224.8 222.2,219.6 238.3,243.4 209.8,244.8 192.2,271.2 211.3,253.9 240.8,245.2 184.7,263.6 253,238.7 258.4,225.2 192.1,278.9 186.7,260.4 263.5,221.4 222.6,243 224.5,244.1 262.8,223 198.1,280.5 190.5,259.9 186.8,274.3 234.7,237 229.6,245.3 219.7,243.5 256.6,224.3 224.2,260.7 224.6,235.4 149,302.9 147.8,313.2 232.8,244.6 208.1,267.4 266,220.7 238.2,229 152.2,298 257.1,226.8 249.2,235.1 242.5,229.6 229.2,228.8 265.1,230.1 238.3,232.5 214.2,264.7 191.8,255.4 263,229.8 218.9,255.1 253.7,227.3 244.3,246.6 229.7,256.9 205.4,241.5 173.8,274.1 260.6,220.3 229.4,252.5 243.1,233.1 216.1,253.9 260.9,226.1 214,243.4 182.1,263.7 230.7,229.7 194.4,281.1 235.8,236.4 248.7,222.2 249.1,230.2 269.9,215 118.7,330 174,272.1 216.6,245.4 234.2,232.2 217.9,257.5 214.7,240.4 275.4,206.4 242,247.7 225.7,232.6 251,240.1 189.9,261.8 227.3,249.2 249.7,221.5 157.4,305.9 241.3,228.6 252.8,225.6 231.7,224.5 213.3,257 260.3,220.5 148.3,304.7 275.1,203.6 244.8,230.5 191,264.6 214.7,246.6 202.7,260.4 218.8,247.2 240.1,220.7 227.1,263.2 234.2,262.7 170.8,281.9 232.2,221.8 219.3,255.8 203.3,277.8 203.6,254.6 170.4,289 199.4,262.1 220.6,228.5 259.1,223.6 211.7,262 241.5,234.6 208.7,280.5 228.5,245 192.5,270.2 154.2,302.8 241.8,224.8 254.8,222.8 193.4,257.7 261.6,226.3 246.4,231.8 224,250.7 269.7,214.5 259.7,208.2 215.6,246.7 235.1,236.9 189.9,264.7 201.7,264.8 259.8,217.6 218.6,262.9 199.9,263.4 253,229.8 239.6,246.7 226.7,246.6 251.4,221.3 233.3,241 204.9,255.2 248.8,221.6 236.3,236.2 230.8,219.4 214.2,263.6 217.4,252.6 247.4,233.4 263.7,203.1 135.4,312.1 255.4,224.2 228.8,252.5 200.7,273.3 263.3,227.4 204.4,266.6 243.6,236.3 265.7,222.4 202.1,277.3 248.5,218.9 231.9,239.1 206.3,284 222.9,251.2 249.1,221.2 230.8,229.7 254.7,237.9 246.4,240.2 193.1,265.4 173.3,286.1 267.2,226.9 252.7,224.4 221,253.1 185.7,276.5 215.4,252.8 236.5,258 222.1,242 261.4,230.9 231.6,236.4 226.9,252.7 217.4,258.4 224,247.3 212.5,257.7 275.7,209.5 199.6,248.2 195.4,252.5 183.5,276.2 193.6,272.1 253.5,233.4 236.4,224 235.8,232.3 223.7,250.9 248.2,235.1 253.3,225.4 240.5,238.7 225.7,250.4 225.3,246.6 262,223.4 251,215.9 202.6,250.4 257.9,218 235.1,221.6 222.1,247.1 226.1,238.4 264.2,230.4 186.6,274.8 216,247.1 238.7,258.8 233.1,243.8 263.8,216.4 236.3,243.9 155,278 207.2,262 229.1,238.2 179.3,276.3 244.3,223.3 271.3,212.9 239.3,233 237.6,235 229.7,226.1 198.5,254.3 211.7,244 243.4,241.7 160.5,300.1 236.5,234 220.9,233.7 249.9,231.2 233.3,225.6 248.7,238.4 258,212.3 169.1,293.4 220.1,247.3 200.4,276.6 232.5,236.9 207,245.9 215.5,233.9 188.4,274.5 162.9,290.2 246.3,231.6 260.1,222.6 195.7,286.2 249.3,235.3 235.5,237.6 266.9,212.5 230.5,242 130.5,318.6 209.4,246.5 255.8,232.7 247.8,226.8 194.2,264.8 238.3,240.5 214.3,247.7 220.9,251.8 258.1,232.8 262.3,218.2 253.5,203.1 184.7,273.7 184.8,286.3 240.7,238 263.4,217.9 223.2,260.4 222,245.7 247.3,229.8 225.9,245.1 254.1,236.3 261.6,223.4 232.1,233.7 171.8,284.9 157,289.5 261.5,208.5 224.7,252.2 221,233.8 225.9,256 217.9,258.1 277.3,210.2 234.5,227.3 222.9,244.5 202.3,279 253.3,237 219.4,245.4 262.6,237.3 226.1,238.2 240.8,229.3 241.8,235.5 205.3,260.3 243,233 238.7,248.4 221.1,246.4 171.9,291.2 238.9,243.7 213.9,238.4 196.7,271.5 205.3,277.8 258.1,235.1 208.6,252.9 155.3,303.8 263.1,221.2 179.2,287.2 212.7,239 188.5,263.4 257.6,220.1 261,221.3 218.9,249.2 236.4,243.8 187,280.3 223.1,251.2 140.2,308.8 179.7,279.1 212.4,268.7 231.8,234.9 260.7,232.8 175.3,273.1 245.9,248.5 165.2,275.2 171.6,268.3 183.8,277.6 266.5,201.9 265.8,213.3 226.6,263.8 239.2,247.1 241.9,234.1 253.4,218.1 229.2,260.1 234.3,225.5 218.4,257.6 199.2,264.3 225,248.6 265.6,210 193.8,253.6 224.9,253.2 251.4,243 210.5,268.3 261.3,230.3 236.4,241.7 217.5,247.9 254.3,227.8 244.9,219.8 215.4,247.1 190.5,262.7 252.4,217.3 164.7,289 231.6,233.4 207.5,251 232.9,239.1 266,230.6 254,235 228.4,246.9 217.9,261.3 200.8,273 236.6,220.9 202,253.1 250.5,223.8 196.1,254.4 204.6,277.4 258.4,233.4 220.7,245.6 220.1,260.3 190.7,285 261.2,228.8 202.4,279.9 237,230.8 251.4,225.7 202.5,270.8 230.2,244.2 250.7,225.2 198.9,259.7 205.5,258.4 262.4,225.9 203.9,265.6 208.9,256.9 252.9,214.5 238.3,224.7 239.9,232.9 167.8,284.6 250.1,230.6 261.1,237.5 265.7,218 261,224.6 240.1,237.1 226.4,255 197.5,252.6 268.6,208.4 207.8,259.9 211.7,276.8 204.9,264.6 262.4,231.9 259,228.5 207.7,267.8 227.2,243.1 254.1,222 160.4,298.9 205.5,261.2 243.3,248.3 246.7,233.9 242,231.7 267.4,221.5 243.1,245.1 175.2,277.8 242.1,214.5 232.8,248.9 163.6,293.1 206.1,245.2 265.5,223.9 250.1,239.4 198.8,267.8 206.7,256.6 248.3,247.3 237.5,234.5 206.2,249.1 229,243.4 235.8,224.7 216.4,257.2 238.4,226.5 184,289.7 248.3,210.2 261.1,226.9 216.4,231.5 214.1,249.7 245.4,249.1 199.6,269.4 262.8,200.3 215.8,258.6 228,246.4 201.6,271.6 194.7,277.9 220.5,241.6 243.6,239.7 197.6,275.9 236.9,225.8 219.2,230.1 220.7,250.6 224.5,248.4 229.1,244.3 246.9,227.7 176.1,284.9 164.3,286.4 249.4,224.9 174.8,278.1 263.2,226.6 213.8,270 203.6,250.2 201.1,265.1 223,241.2 211.3,267.8 254.6,230 274.5,205.3 177.7,282.2 231.1,220.4 216.7,243.2 256.6,219.5 192.4,270.1 196.6,274.9 206.2,257.7 242.2,221 204,258.8 221.2,253.2 175.9,270.7 224.7,247.1 184.4,280.4 239.4,234 192.5,271.8 207.9,266.7 163.4,290.4 224.2,258 221.1,254.3 246.9,223.1 255.8,221.9 275.8,212.3 230.9,219 243.9,248.6 212,242 228.8,255.3 231.9,239.6 198.2,244.6 194.8,276.6 210.2,249.5 205.4,273.1 226.8,269 223,264.5 241.8,216.7 213.7,258.4 259.4,209.4 201.2,258.9 193.6,267.4 215.1,246.3 216.7,229.8 213.7,236 258.1,225.8 265.5,227.1 262.4,218 220.8,259.1 249.7,233.3 241.7,245.2 171.2,279.5 247.8,223.8 254,232.1 225.7,251.6 197,260.5 273.4,213.3 249.4,220.1 182.9,267.9 278.1,208.5 207.1,256.9 253.9,235.2 197.3,270.4 231.4,214.3 263.7,217.2 245.9,230.3 260.3,239.4 245.2,232.2 214.1,250.4 117.8,332 238.4,233.9 197.9,278.6 211.7,239.4 223.1,254.4 199.5,256.8 222.9,236.3 202.4,271.4 255.3,204.3 265,214.1 237.6,238.7 249.2,217.2 232.3,238.5 227,260 192.4,252.9 241,233.4 243.6,247.4 263.3,229.4 244.7,219.7 238.5,234.7 227.9,254.1 274.9,220.9 206.8,271.1 249.7,225.8 254,234.6 212.6,263.1 235.8,231.9 213.1,263.4 242.9,246.3 137.5,301.1 159.4,294.1 279.3,206.4 210.4,248.2 207.4,242 248.3,223.5 228.1,252.1 246.1,230.2 244.8,212.8 247.3,224.3 235.3,235.1 217.4,238 243.2,220.8 225.6,242.8 263.9,218.7 191.1,264.7 213.2,254.8 256.2,219.7 248.5,246.9 221.3,232.9 174.5,281.1 212.9,253.2 218.5,251.4 226.9,246.8 209.6,274.7 266.1,210.8 251.5,233.2 247.9,237 245.6,242.8 258.4,207.3 242,255.4 248.4,229.4 148.5,303.6 252.9,228.3 263.1,218.2 223.1,241.7 235.7,247.7 222.4,234 249.8,220.8 202.3,270.3 230.7,228.8 197.2,265.4 223.9,239.8 249.8,231.1 226.6,251.4 261.2,240.3 191.8,270.6 212.5,275.3 253.2,224 159.6,300.4 244.6,233.7 245.3,218.4 276.1,205.5 267.2,211.1 227.7,238.6 234.9,240.3 210.5,274.5 254.9,241.8 210.9,247 213.5,235.8 245.4,245.7 250,236.6 207.7,236.7 252.2,227.4 259.1,226.1 151.6,297.5 213.5,232.9 188.9,284.3 194,265.8 219.6,276.2 248.3,249.2 200.8,253.3 215.9,240.5 239.2,226.8 258,221.8 207.5,274.2 193.2,274.3 224.1,246.6 218.1,244.5 240.1,217.9 254.1,228.7 254.4,223.2 213.2,240.3 226.3,212.4 245,225.5 205.5,241.8 259.9,207.1 192.6,272.6 268.9,218.7 260.1,233.4 220.1,241.4 212.6,244.6 209.4,271.6 215.5,249.3 256.5,233.8 229.6,235.8 261.3,218.1 213.5,234.6 209.8,256.9 237.8,233.7 258.6,213 241.8,241.1 246.4,233.6 241.1,234 200.4,247.4 224.8,258.8 181.2,274.8 233,226.6 183.8,274.3 226.8,249.4 237.8,215.1 200.5,265 265.7,219.1 242.6,242.5 203.3,253.5 235.3,242.6 212.6,252.8 207.3,254 254.1,238 250.8,224.4 254.5,223.6 181.2,283.1 235.6,232.1 171.6,280.6 207.3,245.5 208.2,249.7 248.2,232 210.2,240.3 253.5,235.5 250.9,231.6 222.1,243.3 183.6,282.7 249.5,231.2 211,267.4 239.8,225.2 183.2,293.3 233,221.9 206.8,259.4 196.3,270.3 218.4,249.7 249.7,217 263.4,213.3 238.6,249.4 218.9,258.2 220,265.5 190,275.8 233.7,243.2 217.7,249.4 203.8,264 231.7,231.1 266.9,224.7 252.8,217.1 245.3,233.4 200.5,250.7 198.7,265.1 185.8,284.5 280.5,205.4 213.4,234.6 248,232.2 219.8,248.4 244.2,244.2 259.5,240.2 220,242.3 254.1,225.9 176.3,264.4 243.7,236.1 173.9,296.2 248.9,228.3 241.1,229.2 228.5,245.8 247.6,222.8 247.7,218.4 215.1,269.2 230.4,243 252.4,217.9 228.7,238.8 254.2,229.2 198.6,251.4 247.1,232.6 255.5,227.3 222,241.3 220,264.2 199.2,266.7 217.5,252.3 257.9,216.5 193.9,283.6 218.7,255.5 219.1,227.3 241,214.6 174.8,276.7 220.9,261.8 192.9,287.3 269.6,210.2 209.9,255.9 246.1,212.1 224.7,233 179,281.1 221.4,248.3 253.7,213.8 204,270.2 228.5,242.5 187.8,264.3 238.5,239.7 241.4,244.5 246.4,228.8 223.7,241.4 261.2,209.9 225.1,264.7 254.4,216.4 267.6,193.3 234.2,252.6 240.2,235.5 213,268.2 242.2,215.7 265.4,220.5 264.6,216.5 219.7,239.8 211,248.2 191.7,275.9 242.5,239.2 159.3,295.9 266.3,200.7 191.6,246.8 207,274.6 202.2,257.4 207,266.9 256.6,224.4 196.7,256.5 250.2,230.8 205.7,264 185.5,276.1 255.1,226.7 248.4,214.3 216.3,253.9 252.3,227.2 203.6,256.3 252.1,223.5 208.5,282.3 249.6,236.7 236.6,244.8 179,286.3 256.6,223.2 225.9,253.6 267.8,234.1 270.9,200.6 257.1,226 272.5,199.4 195.6,276 267.5,230 211.9,269.2 219,226.4 230.1,245.4 252.6,231.4 236.8,226.2 150.4,305.3 266.5,213.2 251,227.3 218.3,251.5 233.2,237.7 179,287 224.6,253.3 208,260.1 211.2,260.2 250.1,224.7 216.2,243.2 245.8,235 186.6,273.3 169.7,295.9 267.6,215.4 212.6,241.2 223.4,249.6 259.2,222.2 230.1,228.8 127.6,323.5 260.9,220.4 247.9,227.8 198.4,266.3 233.3,231.4 237.8,237.9 225,234.6 252,217.9 217.1,271.5 194.3,274.5 178.1,277 225.9,239.7 211.4,264.1 249.8,232.7 259.4,225.6 206.8,265.6 185.1,266.2 238.1,226.5 266.7,236 217,247 242.7,240.1 233.7,217 266.4,219.9 216.3,250.9 247.1,238.3 267.9,220.1 259.7,220.4 199.2,269.6 246.9,233.6 263.7,232.4 200.7,269.3 217.4,265.2 205.7,251.4 191.9,263.2 269.8,201.9 261.1,221.1 236.6,251.7 196.9,263.5 203.3,249.5 259.5,216.7 256,226.6 229,249.6 272.3,220.5 224.7,237.5 228.2,219.8 207.6,260.2 218.5,249.6 193,262.2 213.8,244.7 246.5,253.1 260.1,223.2 228.6,256.8 242.3,238.6 237.6,234.5 191.6,272.5 174,288.9 249.9,232.8 255.1,228.8 211.3,257.4 207.7,250.4 265.2,220.4 204.7,261.8 200.1,260.4 262.3,211.8 207.9,261.2 196,271.5 231.7,249.6 235.3,221.2 261.6,235.6 212.8,249.4 220.4,240.5 242.7,217.3 201.4,266.8 216.7,263.4 250.4,225.6 206.6,268.2 232.1,252.8 154.8,290.8 184.5,283.2 233.4,238 205.7,256.1 199.4,261.9 206.2,260.1 224.9,245.1 241.1,233.1 207.7,275.7 211.7,237.3 265.5,219.7 217.9,245 223.2,232.2 220.7,249.7 180.4,281.8 259.7,220 210,268 248.7,244.5 241,225 271.5,209.7 224.3,226.8 240.7,231.7 205.9,269.8 228.9,226.3 147.1,309.7 228.1,259.1 156.1,294 248.7,224.6 229.3,248.2 160.1,278.6 238.3,249.5 228,251.2 197.4,264.5 252.7,226.5 244.7,230.1 262.7,225.8 253,238.2 227.4,254.7 260.3,234.8 210.7,241.1 246.4,221.9 217.4,235.4 253.2,230.5 208.6,270.1 252.3,237.1 237.2,250.4 245.5,221.5 262.5,220.3 234.6,238 269.1,209.2 253.8,238.3 157,285.9 257.2,215.8 255.2,228.2 216.1,252.8 221.8,245.4 213.6,258.2 258.4,216.5 280.6,205.9 232.1,239.7 202.6,271.9 237.5,230.3 164.8,286.8 276.8,196.8 229.8,249.8 238.8,237.5 251.6,219.3 180.3,269.4 228.3,247.4 215.8,226.2 252.2,232.3 266.9,225.7 214.9,245.9 245.7,228.1 262.5,218 267.3,223.5 210.8,258.2 224.8,243.4 255.2,234.4 119.4,329.7 205.7,240.7 231.3,233.2 227.7,246.1 220.8,247.9 261.5,212.9 229.5,248.2 252.6,224.7 271.9,215.3 279,193.9 263.3,221.3 237.7,238.6 222.4,252.3 240.6,219.5 264.8,219.5 157.9,292.6 235.6,236.6 245.1,242.1 229.4,243.7 224.6,247.9 212.6,268.9 188.7,295.5 197.1,266.2 243.3,231.2 226.2,263.3 192.7,269.1 255.4,203.3 215.3,236 210.7,251.9 207,247 252.8,246 239.6,250.8 236.2,254.8 218.1,260.2 242.1,231.1 215.4,263.6 222.5,267 220.4,247.2 201.3,256.4 193.7,272.5 264.8,224.1 224,246.2 224.4,249.2 214,236.7 236.4,234.8"/>
<path class="dz" d="M74.5 197.75H313.5"/>
<path class="rl" d="M74.5 353.20L313.5 180.75"/>
<rect class="bx" x="74.5" y="27.0" width="239.0" height="343.2"/>
<path class="tk" d="M83.2 370.2v8.8M132.6 370.2v8.8M182.0 370.2v8.8M231.4 370.2v8.8M280.8 370.2v8.8M74.5 356.86h-10M74.5 303.89h-10M74.5 250.92h-10M74.5 197.95h-10M74.5 144.98h-10M74.5 92.01h-10M74.5 39.04h-10"/>
<text class="ax" transform="translate(82.7 403) scale(0.92 1)" text-anchor="middle">-3</text>
<text class="ax" transform="translate(132.1 403) scale(0.92 1)" text-anchor="middle">-2</text>
<text class="ax" transform="translate(181.5 403) scale(0.92 1)" text-anchor="middle">-1</text>
<text class="ax" transform="translate(230.9 403) scale(0.92 1)" text-anchor="middle">0</text>
<text class="ax" transform="translate(280.3 403) scale(0.92 1)" text-anchor="middle">1</text>
<text class="ax" transform="translate(53.7 357.26) rotate(-90) scale(0.92 1)" text-anchor="middle">-3</text>
<text class="ax" transform="translate(53.7 304.29) rotate(-90) scale(0.92 1)" text-anchor="middle">-2</text>
<text class="ax" transform="translate(53.7 251.32) rotate(-90) scale(0.92 1)" text-anchor="middle">-1</text>
<text class="ax" transform="translate(53.7 198.35) rotate(-90) scale(0.92 1)" text-anchor="middle">0</text>
<text class="ax" transform="translate(53.7 145.38) rotate(-90) scale(0.92 1)" text-anchor="middle">1</text>
<text class="ax" transform="translate(53.7 92.41) rotate(-90) scale(0.92 1)" text-anchor="middle">2</text>
<text class="ax" transform="translate(53.7 39.44) rotate(-90) scale(0.92 1)" text-anchor="middle">3</text>
<text class="ax" transform="translate(183.1 435.8) scale(0.92 1)">Z</text><text class="sb" transform="translate(191.6 439) scale(.95 1)">RH</text>
<text class="ax" transform="translate(13.8 197.9) rotate(-90) scale(0.92 1)" text-anchor="middle">PM<tspan font-size="11.2" dy="3">2.5</tspan><tspan dy="-3"> effect (km)</tspan></text>
<text class="tg" x="86.1" y="57.0">HZ</text>
<text class="tg" x="292.5" y="354.8" text-anchor="end">Model</text>
</g>
<g>
<text class="tt" style="font-size:17.7px" x="530.1" y="16.2" text-anchor="middle">CPM</text>
<polyline class="pt m0" points="575.1,232.7 524.5,241.5 558.6,236.7 569.9,230.8 478.6,250.8 507.7,242.3 607.3,225.2 558.9,234.9 489.1,250.7 577.6,230 521.2,241.7 489.1,249.8 582.3,228.3 537.7,236.4 606.2,224.1 516.7,244.4 527.8,239.9 592.7,226.9 538.2,239.1 529.1,240.5 559.8,236.1 526.9,240.3 455.3,254.7 503.3,245.7 598,225.3 593.4,228.7 549.6,235.1 522.2,243.4 523.4,242.1 590.3,226.7 474.3,250.1 509.7,243.3 484,248.3 460.1,253.2 524.2,240.6 472.8,251.8 536.5,236.4 573.5,232 587,230.2 507.5,245.2 573.4,231.9 542.3,239.6 599.8,225.3 500.1,247.6 609.6,223.7 566,231.2 473.2,251.3 567.8,232.7 536.1,238.1 484.3,249.2 492.2,247.4 594,227.2 492.4,249.9 564.7,234.2 480.7,249.4 491.1,248.3 571.4,230.6 503.1,244.1 540.9,238.1 519.9,242.3 538.9,240.4 614.7,224.8 624.9,220.6 571.9,233 569,231.4 582.9,228 489.6,250 600.6,223.5 513,241.9 513.4,245.7 607,222.4 496.2,247.8 568.3,233.6 586.5,227.4 474.1,251.1 552.9,236.9 492,248.6 596.6,228 573.5,231.3 502.9,248.2 595.9,225.5 498.9,248.3 567,233.2 481.9,250.1 536.9,238.1 587.1,226.3 521.8,239.8 533.6,241.8 521.4,242.8 554.1,234.2 508.4,245.7 572.4,233.6 512.8,245.3 573.9,229.8 499,246.1 524.2,240.9 611.5,223.2 530.1,241.2 537.9,238.8 591.4,229.7 550,235.7 532.3,239.3 527.6,241.3 577.6,231 499.2,246 602.8,226.2 573.4,230.9 616.1,222.4 540.9,237.5 475.2,251.4 550.3,238.2 555.8,235.4 509.8,245.4 500.2,248 453.3,255.3 482.2,250.1 612,222.3 624.7,219.8 611.2,223.3 607.4,225.7 541.9,237.6 539.9,238.4 473.2,252 594.7,227.4 541.2,238 495.6,247.4 530,240.9 610.5,222.8 608.4,224.7 590.6,226.2 544.2,235.1 489.4,247.8 537.8,239.4 592,229.8 512.6,242.9 585.6,229.5 491.3,248.4 577.2,230.3 522.6,242.9 618.4,222.2 601.1,225.2 535.7,240.5 494,246.5 499,247.2 619.8,222.3 516.7,243 513.2,243.8 563.7,233.2 463.5,253.1 611.7,224.9 587.8,227.4 614.8,222 591.5,226.8 522.7,243.2 481.2,249.8 493.4,248.1 529.7,242.8 529.6,242.1 569,232.5 561.7,232.6 555.3,235.1 523.6,242.5 581.8,230.3 503.4,244.3 586.4,226.6 564.8,232.1 588,228.7 517,244.6 485.2,247.2 608.8,222.2 544.4,236.8 465.9,253 612.6,221.6 552.8,234.2 545.6,237.7 607.8,224.2 478.7,250.3 531.2,240.9 598.4,224.8 482.8,250 595.1,227.2 588.6,226.3 555.5,235.5 474.3,251.5 531.3,242.3 478.3,250.5 623.1,220 601.9,223.5 601.1,225.5 576.9,230.5 502.4,245.4 460.2,254.7 517.3,242 527.1,242.1 585.9,229.2 526.7,242 573.7,233.2 511.7,244.7 559,237.3 554.7,234.3 586.1,229.1 608.6,223.8 558.2,234.1 506.3,245.1 484.7,250.7 546.6,234.5 551,235.6 537.3,238.6 618,220.8 540.7,237.1 545.5,236.7 524.7,241.3 455.5,255.1 572.7,234.5 598.5,227.3 535.8,238.4 520.6,241.8 559,234.2 600.6,225.3 579.9,229.6 569.1,233 555.2,234.8 610.8,224.2 502.3,244.1 534.1,241.3 548.9,236.6 538.7,239.1 603.6,227.4 553,236.9 519.7,242.7 562,232.7 542.6,235.8 599.4,225 571.2,231.6 589.8,227.3 505.8,246.7 563.1,232.6 598.9,227.3 539.3,237.1 508.5,243.6 616.5,222.4 518.9,242.3 613,221.5 598.9,226.8 597.5,225.7 512.5,243 459.8,253.9 562.4,231.5 526.1,244 494.6,248.2 497.3,247.9 593.7,228.2 497.5,245.5 533.5,240.6 575.9,232.6 525.2,242.1 530.6,238.3 522.5,244.1 583.8,226.6 565.1,233.7 485.6,250.6 583,228 527,242 547.7,239.4 617.1,220.1 594.3,228.5 569.2,229.6 613.4,221 612,223.6 586.6,227.9 543.3,237.3 510.7,244.6 558.5,235.6 603.6,224.8 480.3,249.3 559.5,233 547.3,238.1 536.5,238.5 493.2,248.3 485.7,249 513.9,242.5 498.1,246.2 587.2,228 635,218.5 546.1,238.3 469.4,252.7 471.3,252.1 594.2,230 503.4,247.6 564,234.2 619.9,219.1 579.9,230.6 555.1,234.7 562.5,233.3 501.7,243.8 607.7,223.5 490.9,247.4 466.8,253.7 598.2,227.2 560.8,236.8 558.8,234.6 516.4,243.4 617.8,221 595.5,225.5 486.7,250.6 577.2,233.4 617.4,221.2 453.8,254.9 585.4,227.4 589.7,227.8 498,244.9 530.2,241.2 522.9,243.1 530.4,241.8 477.4,251.4 598.2,228.1 560.9,235.3 593.4,227.4 598.2,227.1 542.9,238.4 479.3,250.1 482.7,250.5 491.9,250.2 553.1,235 545.9,236.7 523.5,243.4 565.3,232.5 552.1,238 523.9,241.4 609.1,221.1 521.5,243.6 510.5,246 597.9,226.3 556.5,235.6 558.3,233.6 512.8,244.9 463,253.1 547.3,234.4 512.9,242.5 595,228.4 506.1,245.2 505.7,243.9 491.2,248.3 619.1,221 604.2,225.4 470.3,252.5 464.9,254.1 576,230.5 466,254.1 507.7,243.1 472.4,252 553.1,232.9 495.4,247.1 515.9,246 556.6,233.2 600.2,225 534.3,237.3 567,233.7 503.9,246.2 576.1,231 620.5,222.4 484.6,251 574,231.2 599.8,226.9 583.3,232 562.3,233.3 588.5,228 590.2,227.7 555,232.1 561.1,231 505.6,242.6 595.1,225.7 603.8,224.7 585.1,225.9 617.5,224.3 598.4,226.4 615.8,222 640,217 530.2,241.2 515.9,242.7 558.4,234.8 544.5,237.4 577.1,233 487.9,246.8 559.1,232.4 543.3,236.5 525.3,238.8 460.1,253.2 479,251 474.2,250.5 471.2,252.3 520.5,242.5 594.3,228.3 588.6,227.8 519.5,239.4 624.5,220.6 530.8,240.4 493.3,248.6 583.4,229.8 532.7,237.9 565.1,234.4 613.5,223.6 537.7,239.3 459.5,254.6 462.7,253.9 465.6,253.4 579,231.5 535.3,238.4 550.2,236.2 523.1,239.8 553.8,237.8 568.7,233.3 580.5,230.5 476.1,251.3 541.7,239 597.2,225.7 551.3,236.5 551.3,234.5 496.8,248.6 499.2,246.6 486.8,250.2 535.8,236.7 485.8,248.5 561.3,234.7 484.9,247.8 586.8,227.5 507.3,243.6 454.2,255.7 588.6,227.3 484.4,249.2 600.8,223.5 531.2,240.1 542.4,239 572,233 495.3,247.7 574,230.4 571.9,232.2 562.3,236.5 530.9,239.4 590.3,228.1 525.3,244 495.2,248.9 558.1,234 606.5,224.9 459.2,254.7 616.5,221.6 574.5,230.3 481,249.6 576,230.3 526.7,240.3 511.9,245.6 619.5,220.9 560.4,231.4 610.4,225.8 496.7,247 588.3,225.9 532,239 512.6,243.7 567.6,229.7 466.3,253.7 484.5,249.4 532.5,238.7 534.3,238.6 509.2,244 577.5,227.5 528.9,241.7 565,233.6 557.2,233.4 484.7,250 474.4,251.5 591.1,227.8 555.2,232 502.9,246.9 491.9,250.1 564,233.5 550.2,239 487.9,249.6 558.4,236.2 576.6,232.2 493.8,246.1 559.7,232.4 553.9,235 595.4,229.5 508.5,244.1 623,219.7 468.3,252.1 531.1,242.2 547.9,236.4 547.7,236.9 501.8,245.4 547.6,238.6 537,238.8 545.4,235.6 562.3,234.3 569.6,232.5 538.3,239.1 516.5,241.1 466.8,253.9 552,237.9 542.7,236.7 597.9,227.1 479.8,249.8 605.3,226.5 565.9,233.9 590.5,229.9 490.8,248.3 606.8,225.2 591.6,229.6 548.3,236.3 599,227.3 534.5,239.9 484.8,248.5 607.2,225.7 574.1,231.4 478.2,251.1 622.3,219.6 617.9,220.2 605.6,223 554.9,235.1 542.8,239.9 630.5,219.5 569.1,232.1 583.5,232.4 500.7,244.1 509.1,246.1 480.5,248.8 544,239 557.7,234.4 477.9,250.9 516.5,245.5 495.2,246.8 502.3,244.9 579.5,230.4 583,228.2 482.7,248.9 562,232.6 562.7,233.6 586.2,229.5 518.2,242.7 514.5,244.4 476.7,251.1 525.5,240 537.9,237.7 566.4,235 596.7,225.8 484,248.9 552.7,234.7 513.5,245.1 551.6,236.1 563.7,233.3 501.6,244.9 547.5,235.7 546.4,237.3 590.6,227.6 528.7,240.5 593.4,227.7 513.5,242.1 456.4,255 547.4,236.2 595.1,226.8 551.7,237.3 498.1,246.5 519.2,240.7 479.2,250.2 565.8,232.6 589,226.8 617.3,223 538.9,235.7 553.5,234.8 557.2,235 556.9,232.6 520.5,244.1 458.2,254.2 615.5,221.3 601.1,227 603.1,224.2 620.7,221.8 517.9,243.2 498.7,247 598.1,227.2 528,242 484.5,250.4 537.2,239.3 596.4,228.6 511.8,243.7 531.9,242.1 556.7,234.1 487.1,249 597.2,225.5 566.8,230.9 590.4,226 600.4,226.7 528.2,241.2 577.5,230.7 601.2,226.8 607,223.2 494,247.8 503.1,246.9 621.2,220.2 507.5,242.6 578.7,231.6 486.5,250 598.6,224 620.2,221 612.9,220.9 481.8,249.3 469.9,252.3 599.1,227.8 510.3,244.4 517.2,245.7 584.1,229 618.4,222.3 561.3,231.7 498.1,249.1 548.7,236.7 506.2,247.1 547.3,235.2 619.1,219.7 505.9,244.4 546.3,236.6 578.1,229.9 583,231.8 535.1,242.3 531.5,240.8 570.8,232.4 525.7,240.9 538.9,237.4 479.8,251.9 623.3,221.2 592.4,230.8 524.1,240.5 487.6,246.7 545.4,237.5 542.5,238.8 586.1,228 526.6,242.5 601.1,226.6 515.7,242.4 600.3,227.3 600.1,225.3 598.8,226.5 548.3,238.7 588.3,226.2 503.3,247.1 491,248.8 590.8,227.9 455.7,255.4 538.8,240.5 526.4,240.1 616.8,222.1 596.8,226.3 500.5,244.8 476.4,252.4 510.4,243.9 519.9,243.8 558.1,234.6 543.9,238.1 520.6,241.4 577,229.5 504.5,246 534.2,240.8 565,235.6 570,230.7 572.8,231.3 532.7,240.1 556.9,234.5 463.6,253.1 543,236.7 575.3,232.4 484,250.2 542.8,237.6 495,246.5 529,238.1 549.5,238.2 594.1,227.5 523.9,242.4 509.4,247.2 518.3,244.5 538.1,237.3 554,236.2 546.9,239.2 539.1,237.9 516.3,243 518.4,242.9 520.9,244.9 493.2,246.6 599.7,227 595.5,226.2 602.5,224.8 507,247.5 474.7,252.1 539,238.9 538.3,240.7 499.8,244.9 570.4,232.2 617.7,222 573.1,233.3 607.8,223.4 594.1,227.9 575.3,231.2 561.3,233.9 467.3,251.8 596,227.5 463,253.5 476.8,251.4 570.7,231.8 504.1,247.9 499.3,246.9 594.6,227.1 581.4,231.3 617,221.3 481.3,248.8 579.1,229.4 460.4,253.8 560.2,233.4 548,236.6 604.1,222.2 584.9,230.6 608.2,222.3 536.7,239.2 614.3,222 454.6,255 557.1,237.8 556.1,235.9 605.7,225.3 575.9,231.8 551,236.6 557.4,232.1 593.6,224.6 608.4,224.6 559.4,231.4 518.6,240.3 486.7,249.9 561.4,233 502.4,244.1 594.4,226.7 615.9,222.2 598.2,226 604.1,225.3 547.4,235.7 563.7,231.2 608.1,224.1 514.9,242.6 502.6,244.6 459,253.6 513.7,241.8 488.2,249.1 516.3,243.3 540.8,238.7 599.6,223.3 503.7,244.8 562.4,234.9 530.8,238.6 615.2,221.8 486.4,248.9 591.2,228.2 514.5,243.5 487.6,247.6 486.2,250.6 599.1,225.2 493.3,247.7 601,227.3 528.1,242.5 510.6,247 461.6,253.9 589.8,228.3 512.3,243.6 538.4,241.2 586.7,228.8 604.8,225.5 588.5,228.7 586.5,229.1 500.2,246.5 585,229.4 567.8,233.1 604.1,224.1 557.6,233.9 613.2,224.1 582.8,228.7 609.5,224.3 601.1,226.8 581.6,228.3 550.5,238.8 546.1,239.1 536.7,239.2 473.7,249.9 549.3,234.3 462.6,254.1 504.1,246.6 591.6,226.3 577.5,230.7 540.3,239.7 601.7,225.6 580.7,232.3 613.6,221.5 572.3,232.6 477.9,251.1 592.5,225.5 516.5,243.1 469.3,251.6 571.6,231.6 574.3,233.6 595.8,224.4 501.3,246.1 612.2,223.4 571.3,230.5 527.2,242.6 524.3,240.1 619.2,220.5 485.2,248.5 506.3,244.2 575.5,230.6 534.5,238.7 573.2,233.2 545.7,239.5 599.5,225.2 515.1,243.6 498.8,248.9 511.2,243.9 615.5,223.3 614.8,224.3 574.7,232.2 525.7,240 619.7,221 576.7,233.6 552.4,237.6 579.2,229.7 472.8,252.6 579,233.5 486.5,247.2 522.6,242.8 500.1,247.3 515.3,245.9 494.5,247.1 572.6,232.6 464.5,253.7 601.4,226.8 567.2,232.2 471.3,251.8 552.3,236.8 501,245.1 591.9,227 585.3,226.1 487.1,247.9 560.6,234.4 589.4,227.7 516.2,243.4 601.9,225.5 531.1,239.6 554.4,237 555.4,232.9 511.5,244.7 560.8,234 561.5,235.1 587,226.1 528.2,241.7 551.9,236.2 527.4,240.2 587.7,227 534.7,239.2 609.2,223.3 476.8,252 547.1,237.5 533.2,238.6 530.1,241.1 541.3,237.7 495,246.8 512.7,243.2 594.7,224.5 532.2,240.5 523.3,241.5 437.5,256.5 566.6,234.1 568.4,232.4 601.8,226.3 565.4,233.7 598.4,228.3 600.3,224.3 618.7,222.5 562.8,231.2 571.9,232.4 525.6,239.5 556.7,234.2 559.6,234.9 515.2,240.9 500.2,246.8 494.1,247 463.9,252.8 508.1,244.4 574.5,232.8 558.8,234.7 527.2,241.4 520.2,242.7 552.4,238.9 602.1,225.9 477.3,250.8 514.4,242.7 485.4,248.3 502.7,247.3 617.9,221.4 478.2,250.6 571.8,233.6 621.8,221.4 608,223.4 597.5,226.7 517.2,244.1 623.8,219.8 537,237.7 564.1,233.4 585.8,230.2 579.9,230.3 575,229.7 548.4,233.7 475.6,250.7 488.4,248.5 553.7,236.1 599.5,228 491.5,248.3 477.2,249.9 510.4,244.4 558.3,231.6 462.2,253.4 547.6,238.3 560.7,233.1 561.9,233.6 532.2,238.6 516.6,240.3 584.1,229.5 580.7,229.8 526.5,240.7 599.5,224.5 590.8,229.2 607.1,224.5 518.3,242.8 620,222.3 509.9,243 497.2,246.2 443.5,255.5 509.7,244.8 483.7,248.9 585.6,228.6 598.7,223.6 549.2,236 599,227.9 599.9,225.1 502.7,244.7 481.5,250.6 599,228.7 520.7,243.6 490.6,248.8 521.9,241 612.6,222.6 460,255.2 533.7,238.9 609.3,225.2 583.5,228.5 537.2,241.7 515.2,243.8 523.3,241.9 522,243.3 525.3,240.4 593,228.2 494.1,246.2 582.1,226.7 598.4,226.6 471.6,253.1 537.6,238.3 507,244 594.4,224.6 588.8,226.9 468.1,252.1 516.9,243.6 511.1,242.9 576.6,228.7 488.6,249.4 581.3,231.7 559.4,235 504.4,244.7 547.1,235.3 526.4,242.3 573.9,228.5 528.9,241.6 622.5,219.5 542.3,239.9 548.3,238.2 573.1,231.2 457,255 526.7,241.8 552.3,236.5 494.5,249 492.1,248.7 564.2,233.9 538,237 596.5,225.8 574.1,231.1 479.8,249.9 561.9,234 551.7,236.8 566.7,234.6 476,251.4 586.5,229.5 596.2,228.7 615.1,222.1 580.6,231.7 530.2,241.3 504.4,244.8 534.1,241.2 489.8,250.1 543.9,237.4 486,248.6 538.7,239.3 542.4,237.8 596.6,227.4 560.1,234.1 595.5,228.9 562.7,234 532.4,242.9 563.2,233.6 591.2,229 614.4,222.2 596.1,227.9 595.5,225.8 582.9,230.8 544.5,237.7 594.1,227.6 519.1,242.2 549.5,239.5 586.6,230.4 535.9,237.9 586.4,228.3 476.5,251.6 520.6,241.9 528.4,238.8 532.4,239.2 597.5,225.4 597.7,225 518.3,244.1 553.1,235.1 606.1,224.9 602.6,226.9 546.3,238.9 551,235.5 564.4,235.3 511.6,242.4 505,247.8 611.6,222.2 479.7,250 598.3,223.8 472,252 513.1,243 540.7,237.6 575.1,232.1 585.7,229.3 542,235.7 619.7,221.3 515.1,245.4 599.7,225.1 488.6,248.5 609.4,225.2 503.2,246 536.4,238.7 603.4,223.5 582.5,230.6 497.8,248.7 465,253.5 572.1,233 586.3,229.7 616.4,220 515.3,245.4 487.6,248.1 478.7,250.3 533.2,240.7 475.2,250.7 588.2,228.3 515.5,244.7 486.5,248.2 515.1,245.1 553.4,234.4 523.2,243 562.9,233.5 472.8,250 547.4,235.6 614.6,224.5 494,247.7 592.2,226 587.9,227.7 458.9,255.2 525.7,242.8 572.4,230.4 564.2,234.4 593.9,227.9 530.3,241.4 527.5,243.1 476.6,249.2 519.4,241.6 572.9,231.7 524.7,239.1 511.7,242.7 497,247.6 602.6,226 531.4,242 581.1,231 534.5,238.6 484.4,250.3 624.8,219.4 563.2,233.5 512.1,244.8 513.5,242.5 466.3,252.1 478.6,249.8 531.1,239.6 484,251.2 542.9,237.7 565.7,234.9 599.5,226.6 550.8,236.2 497.2,248.6 576.9,232.4 526.2,241.8 494.1,248.7 594.4,227.3 554.3,236.7 523.7,240.1 513.8,244.7 528.1,239 482.9,248.4 573,229.8 475.5,249.2 594.8,225.6 504.3,246.9 624.7,221.4 511.4,243 529.6,239.4 568,230.7 585.3,228.5 488.1,246.6 507.2,245.8 575.3,231.5 561.1,232.7 524.5,240.1 485.1,250.5 470.8,251.6 585,230 563.7,233.5 462.6,253.5 511.4,243.2 562.6,234.8 553.5,235.5 587.3,231.2 568.6,230.9 610.7,222.3 543.4,235.5 593.5,227.2 546.5,239 581.6,231.4 578.8,231.5 474.2,251.9 590.1,225.8 541.7,236.6 533.3,236.6 583.2,229.7 487.8,247.2 584.3,226.6 520.6,242.3 487,248.5 500.4,247.1 520,243 550.7,235.5 588.7,228.2 505,246.1 500.2,247.8 572.8,231.9 566.3,232.3 601.8,228 597.1,223.3 484.1,249.9 596.6,226.7 492.4,248.9 564.9,233 455.6,255.6 537.7,236.3 537,239.3 601.1,226.2 583.6,228.6 560.8,233.6 522.3,243.9 464.2,254 571.2,232 514.8,244.8 509.1,245.4 478.4,251.6 587.5,227.5 626.4,219.5 534.8,242.2 495.1,245.7 570.7,233.2 555.7,233.9 582.2,230.1 563.3,232.8 495.9,249.8 614,223.1 479.5,251 615.5,221 453.8,256.2 501.7,247.2 495.1,249.2 582.6,231 562.9,233 491.8,250.2 558.1,235.2 598.6,226.3 591.4,226.2 592.8,226.7 604.8,226.2 579.3,229.7 497.3,247.8 500.3,244.7 545,235.9 512.4,244.9 614.6,220 533,239.2 573.3,229.7 453,254 524.5,243.9 498.2,245.4 497,247.5 462,254.2 534.1,239.4 579.2,231.1 581,228.9 581.2,229.1 507.1,245 555.8,235.2 568.3,232.6 571.4,234.8 591.2,226.5 567.4,231.1 522,242.2 493.5,246.8 617.7,222.6 498.9,244.9 519.3,242 543.8,239.5 506.1,246.6 603.8,225.5 515.3,244.1 492.6,247.9 524,241.4 514.1,246.1 579.5,230.5 518.7,243.6 502.8,245.5 515.8,244.7 508.1,243.4 608.4,225.4 537,240.9 525.7,242.2 564.4,232.3 614.3,222 516.2,243.3 566.2,232.1 608.5,224 593.5,228.1 561.3,233.3 581.4,230.8 481.6,250.6 574.4,229.3 511.3,245.2 533.3,237.8 548.3,234 574.9,231.7 568.6,231.5 585.9,229.8 504,245.6 594,227 504.6,243.1 592.4,228.6 515.3,243.4 494.8,249.1 531.8,240.6 529.2,241.2 586.9,226.5 496.6,247.5 532.2,237.8 487.2,248.8 582,231.2 526.3,243 561.7,231.3 533.3,238.3 519.4,243.9 572.1,233 616.2,220.7 600.5,223.7 583.9,228.2 482.1,249.6 612.1,222.6 504.8,246.7 573.3,229.4 488.6,248.6 603,226.7 549.8,235.8 578.8,230.1 552,236.9 584.4,227.8 601,225.7 617.7,221.1 548.3,236.6 605.8,222.7 573.3,229.4 554.6,235 608.1,223.5 600.7,225.3 521.2,240.6 596.3,226.3 538.9,239.4 497.5,247.3 487.9,250.4 568,230.8 523.6,241.2 499.1,245.6 592.7,227.9 571.4,232.1 528.3,242.3 543.1,240 611.1,222.2 614.2,222.8 581.8,228.9 523.7,241 612.7,223.2 498.3,246.2 491,247.6 488.3,248.6 459.9,252.9 570.6,230.4 610.1,224.8 601,224.7 602.3,225.2 551.8,235.1 610.8,224.1 592.3,227.9 569.3,232.5 516.2,245.4 560.4,233.2 514.9,244.1 613.9,223.5 556.1,237.3 549.8,237.4 484,249.8 503.7,247.1 487.9,249.8 586,229.9 474.3,251.2 600.9,222.9 570.6,230 487.9,247.7 587.8,229.4 509.3,245.9 546.2,235.4 592.8,224.7 548.8,236.2 501.4,243.6 472,251.6 559.9,235.8 537.3,238.2 581.6,231.5 525.4,240.7 464.3,253.2 515.1,241 515.8,242.4 580.3,230.4 496,248.2 511.8,245.1 549.5,236.6 531.5,240.2 538.4,237.6 577.5,231 570.9,229.6 468.9,251.5 602.5,226.6 475.2,251.1 606.3,226 615.7,223.8 550.5,237 609.5,225.4 479.9,251.1 516,243 574.4,233 522.4,241.3 468.4,252.5 601,223.2 588.2,230.5 478.8,249.6 465.5,253.1 546.4,237.4 566.8,232.7 534.9,240 612.5,224.2 527.6,241.8 569,232 602.1,223.6 461.3,253.2 610.6,224 551.3,235.8 599.5,227.3 543.6,237.6 606.2,224.3 547.5,238.9 543.3,236.9 601,227.4 563.9,233.8 606.5,227.2 613.4,223.5 565.3,233 582.1,228.9 465.3,252.2 520.8,242.8 624.7,219.4 605.7,222.2 530.5,242.1 546.3,239.2 552.4,236.7 562.5,235.3 493.2,249.2 585.1,227.8 506.6,244.6 609.6,223.5 572.3,230.1 610.6,223.9 475.8,251.4 538.7,236.5 547.2,236.6 577.1,228.5 544.7,236.1 600.6,225.3 469.1,253.3 542.6,237.6 492,247.1 584.4,231.1 505.8,246.3 556.3,235.1 557.4,233.3 473.2,251.2 556.4,234.5 516.1,245.4 588.2,228.1 594.8,228.6 534.6,238.9 485.9,248.4 552.9,236.4 618,220.5 491.9,248.7 602.7,224.4 597.4,226 459.1,254.3 556.6,235.5 596,226.4 603.6,225 523.3,242.9 609.6,225 524.7,239.6 609,222.6 597,225.2 508,242.3 531.6,240.5 543.5,236 595.9,227.8 577.8,230 556.4,235.1 594.9,228.2 505.6,244.3 542.8,237.5 491.4,247.4 517.6,243.2 531,239.4 618.3,221.7 532.7,240.1 474.4,251.9 532,241.8 577.6,228.5 519.5,243.3 514.6,244.5 604.7,224.7 457.1,254.8 511.2,245.7 514.3,246.4 543,236.8 479,250.8 533.3,241.1 527.5,239.2 457.5,253.9 513.3,243.1 587,227.2 604.6,223.4 608.2,224.6 489.5,248.1 497.9,244.4 578.1,229.6 609.8,222.2 503.8,246.9 546.2,237.7 571.9,231.1 492.6,248.1 556.3,234.4 550.9,233.9 495.1,247.3 470.1,250.4"/>
<path class="dz" d="M413.5 197.75H652.0"/>
<path class="rl" d="M413.5 264.70L652.0 215.00"/>
<rect class="bx" x="413.5" y="27.0" width="238.5" height="343.2"/>
<path class="tk" d="M421.6 370.2v8.8M471.0 370.2v8.8M520.4 370.2v8.8M569.8 370.2v8.8M619.2 370.2v8.8M413.5 356.86h-10M413.5 303.89h-10M413.5 250.92h-10M413.5 197.95h-10M413.5 144.98h-10M413.5 92.01h-10M413.5 39.04h-10"/>
<text class="ax" transform="translate(421.1 403) scale(0.92 1)" text-anchor="middle">-3</text>
<text class="ax" transform="translate(470.5 403) scale(0.92 1)" text-anchor="middle">-2</text>
<text class="ax" transform="translate(519.9 403) scale(0.92 1)" text-anchor="middle">-1</text>
<text class="ax" transform="translate(569.3 403) scale(0.92 1)" text-anchor="middle">0</text>
<text class="ax" transform="translate(618.7 403) scale(0.92 1)" text-anchor="middle">1</text>
<text class="ax" transform="translate(392.7 357.26) rotate(-90) scale(0.92 1)" text-anchor="middle">-3</text>
<text class="ax" transform="translate(392.7 304.29) rotate(-90) scale(0.92 1)" text-anchor="middle">-2</text>
<text class="ax" transform="translate(392.7 251.32) rotate(-90) scale(0.92 1)" text-anchor="middle">-1</text>
<text class="ax" transform="translate(392.7 198.35) rotate(-90) scale(0.92 1)" text-anchor="middle">0</text>
<text class="ax" transform="translate(392.7 145.38) rotate(-90) scale(0.92 1)" text-anchor="middle">1</text>
<text class="ax" transform="translate(392.7 92.41) rotate(-90) scale(0.92 1)" text-anchor="middle">2</text>
<text class="ax" transform="translate(392.7 39.44) rotate(-90) scale(0.92 1)" text-anchor="middle">3</text>
<text class="ax" transform="translate(521.9 435.8) scale(0.92 1)">Z</text><text class="sb" transform="translate(530.4 439) scale(.95 1)">RH</text>
<text class="ax" transform="translate(352.8 197.9) rotate(-90) scale(0.92 1)" text-anchor="middle">CPM effect (km)</text>
<text class="tg" x="424.9" y="57.0">HZ</text>
<text class="tg" x="630.9" y="354.8" text-anchor="end">Model</text>
</g>
<g>
<text class="lt" x="675.2" y="27.9">(b)</text>
<text class="tt" x="869.7" y="14.2" text-anchor="middle">PM<tspan font-size="12.3" dy="3.5">2.5</tspan></text>
<polyline class="pt m1" points="938.5,248.7 919,258.9 910.6,242.2 934.1,251.6 937.4,251.6 923.2,245.9 949.2,250.4 967.3,221 964.7,235.8 961.3,218.9 963.3,233.2 907.1,272.1 968,234.3 952.6,229.9 934.2,246.7 924.6,250 962.3,242.7 953.4,234.8 927,237.2 968,230.3 918.5,252 901.2,275.1 945.4,254 925.4,257.2 955,238.7 884.2,297.7 909,269.4 948.1,234.4 912.5,287.1 909.2,268.1 903.8,273.4 939.3,231.6 899.5,285.3 907.7,279.1 948.1,225 917.5,262.8 912.5,264.5 956.3,238.4 963.9,227.7 938.2,249 911.2,259.1 969.7,213.5 916.2,247 934,254 909.8,265.2 925.6,266.5 907.7,252.1 885.8,297.2 912.7,257.2 943.2,236.2 889,296.6 893.2,267.4 920.8,262.7 934.1,263.7 973,221.4 957.9,248.2 939.6,223.9 906.4,283.4 976.1,214.3 969.7,212.2 903.4,248.9 904.4,267.1 950.4,244.8 945.6,252.9 893.1,274.8 967.5,209.9 914.3,281.4 938.5,263 930.6,251.9 961.1,222.1 946.2,225.6 950.6,246.4 964.6,221 965.3,229.5 972.3,206.8 925.6,244.7 883.1,260.4 961.6,229.5 921.5,251.7 951.9,233.6 968.8,228.4 903,274.9 947.7,247.8 895.7,275.1 927.9,252.8 964.7,222.1 954.6,242.8 935.4,252.5 947.8,239.4 905.9,264.4 922.3,254.2 942.1,240 928.5,250.4 941.1,230.1 902.2,267.6 972.6,217.8 953.6,241.1 923,242.2 943.6,256.3 930.7,232.7 959.8,243.7 937.6,245.2 937.4,233.7 905,262.5 961.1,257.1 939.5,249.8 910.1,253 928.6,259 967,232.6 914.2,259 904.8,272.8 929.3,242.2 918.5,244.3 943.5,248.6 929.3,254.2 957,231.1 920.4,252.6 916.2,251.7 911.6,279.1 917.7,251.1 964.8,218 899.5,247 884.3,292.5 946.8,219.9 954.8,238.3 962.3,233.3 900.7,272.3 970.2,224.5 939.1,262.8 958.4,234.6 957.6,236 912.8,266.9 910.8,253.3 936.8,259.3 915.8,256.7 890.9,287 928.4,258.7 966.2,223.6 888.3,294.7 975.9,212.3 905.5,275.9 956,218 947.9,247.7 955.7,241.4 933.9,254.4 966.5,236.1 909.9,274.1 963.9,237.2 900.8,262.6 894.8,282.6 952.9,226.3 953.4,226.6 911.3,262.8 938.1,234.7 943.2,239.2 913.3,256.1 906.8,281.6 905.8,268.8 933.9,253.6 927.3,263.2 969,217.7 947.6,231.9 922.2,266.3 964.7,231 927.3,252.4 950.4,239.1 929,238.1 928.8,273.9 947.4,236.8 895.1,279.4 922,270.1 909.4,269.4 968.4,220.1 941.3,227.4 912.4,281.2 911.9,272.1 956.7,229.9 843.2,302.2 902.5,266.1 938.7,237.6 955.7,230 921.1,255.9 922.6,245 933,257.3 959.5,220.5 963.4,218.3 946.2,229.9 943.5,236.8 968.3,209.7 889.9,292.8 956,219.4 921.6,257.1 937.5,253.2 938.5,248.9 936.8,244.5 953.1,230.1 915.4,247 950.5,237.2 935,256.7 959,248.3 969.3,219 962.5,241 919.4,234.5 972.4,215.9 902.5,265.2 942.3,243.8 944.8,240.9 948.3,242.3 949.9,245.6 938.7,240.4 921.8,266.8 908.3,258.9 939.6,229.3 935.7,229.9 931.1,245.7 974.6,215.2 932.9,237 974.2,216.3 944.4,253.2 922.5,247.2 908.6,282.3 899,271.7 962.6,213.2 897.3,278 919.1,261.2 916.3,251.4 948.3,252.3 924.5,258.2 913.4,253.7 912.4,265.5 898.6,289.6 953,242.7 906.9,287.7 918.3,263.4 972.3,212.4 917.4,252 880,293.8 944.4,240.6 964.2,209.4 907.7,270.2 952.9,240.1 934.3,250.2 968.3,229.1 955.7,246 906.8,259.9 921.5,243.5 932.8,248.4 897.9,265.8 896.3,279.1 903.1,275.6 936.8,242.1 960.5,204.5 956.5,236.7 904.5,276 958.3,214.6 926,257.5 923,259.8 936.6,252 919.4,271.9 889.4,273 926.4,255.5 933.9,255.8 937,243.5 947.7,245.4 909.2,271 899.5,247.9 864.8,299.3 919.8,258 898.7,268 930.8,248.8 975.4,223.4 938.8,237.9 953.8,210 855,306 949.8,235.4 917.9,264.4 926.9,253 950.3,225 880.8,300.1 959.9,220.4 947.9,250.5 964.8,226.2 935.2,245.3 901.2,267.5 954.7,219.4 959.4,224.8 930.1,251.3 968.2,218.1 968.1,218.5 957.8,233.8 954.2,241 945.6,242.2 967.3,233.5 912.5,265.1 962.6,230.4 938.9,236 926.9,238.8 910.4,271.6 964.7,242.6 911.8,261.5 968.6,218.7 968,228.8 944.7,252.3 901,280.8 967.2,234.7 938.1,265.3 969.7,224.7 950.9,241.2 918.2,270 951.8,237.9 922.8,250.4 956.3,224.6 918,249.8 932,235.4 946.1,242 940.2,229.6 909.1,262 946.3,220.1 900.8,263.9 959.8,232.6 891.6,279.5 893,267 951.2,228.4 943.4,246.3 957,246 953.7,233.2 966.7,217.4 974.4,215.7 901.2,299 957.8,216 940.1,241.3 966.6,208 945,264.6 925.4,235.2 925.7,244.5 858,312 939.8,239.9 918.5,256.5 954.1,223.7 951.4,252.5 929.5,243.4 923.8,260.8 947,239.9 888.1,293.6 959.5,219.6 967,227.9 944.8,230.8 923,255.3 911,265.2 902.4,276.9 921.5,264.8 955.8,227.2 971.6,232.3 948.4,244.3 955.5,260.9 912.5,261.2 964.9,221.4 942,227.1 925.3,256.8 921.8,250.5 951.3,245.4 919.5,261.9 940.5,258.5 939.9,246.3 898.2,268.8 948,238.6 920.5,252 883.4,286.6 893.6,275.6 894.7,287.6 895.8,272.7 906.9,259.1 925.7,244.7 954.7,257.2 879.7,284.7 965.4,239 968.6,228 967.6,221.5 972.7,222.8 931.4,233.7 972.3,208.9 966.9,225.8 910.2,264.4 913.3,279.2 952.9,257.2 883.1,282.1 952.9,225.2 927.5,269.5 949.4,221.9 940.9,252.2 970.9,218.2 963.6,224.5 880.6,289.8 904.3,269.4 947.9,227.7 954.4,232.9 935.2,240 959.6,235.3 974.1,218.2 953.8,226.5 929.2,244.8 938.2,242.3 960.6,245.1 958.5,210.8 966.9,240.2 937.6,239.6 964.6,239.2 908.7,283.2 879.9,284.6 894.9,263.4 928.2,251.4 941.9,234.6 934.3,252.7 920.1,241.7 911.9,272.7 962.3,224.5 911.8,276 923.2,274.1 893.7,271.8 933.1,243.7 928.5,239.1 916,274.1 951.8,241.7 950,251.4 945.7,231.9 916.3,256.3 918.6,237.3 927.5,254.3 917.3,252.3 936.4,244.9 903,268.6 944.4,227.8 918.6,255 945.5,244 933.2,248.7 894.1,279 962.1,249 922,253.5 914.3,273.4 938.6,222.6 903,297.7 908.6,267.3 933.6,239.7 874.9,276 933.2,244.7 959.1,235.7 907.7,271.1 960.7,219.2 969.9,225.9 950.1,234.9 899.7,290.3 909.7,268.8 943,240.5 945,238.5 903.1,286.4 963.1,220.5 904.9,284.9 891.7,277.7 884.3,256 950,231.4 975.4,216.9 933.5,253.4 972,214 974.8,212.8 922.7,264.3 933.7,254.6 937.6,238.6 900.3,270.5 917.2,265.6 904.2,278.2 888.1,255.3 905.7,278.5 896,265.7 937.8,238.1 818,337 907.3,275.6 924.6,256 893.5,288.9 918.5,256.7 927.6,247.5 925.5,246.7 923.6,260.9 891.1,277.1 933.7,243.9 954.5,229.5 907.5,272 925.1,276.2 917.4,248.5 943.4,230.1 923.3,254.5 914.1,233.2 917.9,251.6 920.8,259.7 917.3,281.2 940.3,237.8 958.8,228.6 942.2,263.6 939.4,227.8 905.4,255.7 964.6,228.6 973.7,218.4 897.8,283.1 966.9,222.2 950.5,245 939.6,246.7 925.6,264.7 972,223.6 927.7,258.3 899.3,282.5 950,223.4 965.6,219 954.1,239.6 927.5,270.8 916.7,251.7 925.1,248.5 970.3,222 934.8,262.6 963.3,227.2 956.7,218.9 975.1,213.3 932.5,258.7 925.9,256.7 964.5,242.9 974.4,222.7 911.2,261.2 944.5,256.9 893.3,276.6 954.8,251.6 973.7,232.1 956.2,237.3 914.2,259.5 950.8,235 961.6,226 930.8,247.1 909,250.2 840,314 937.2,259.5 921.5,236.8 950.6,237.7 923.9,255.3 916.1,271.4 900.3,287.7 891.5,276.3 934,251.4 959.7,234.1 966.6,233.5 883.9,254.7 953.2,230.9 958.9,225.2 926.6,255.3 949.6,227 927,258.7 935.2,254.9 930.3,248.1 900.6,273.4 939.1,233.7 956.4,230.9 966.5,232.8 966.5,229.8 898.8,278.6 934.2,247 952.2,240.3 969.9,227.4 918.4,262.2 910.4,251.9 929.7,245.2 911.6,279.4 950.8,260.7 957.7,225 938.4,247.1 931.3,260.1 922.2,266.4 914.7,254.3 888.5,269.2 965.5,206.1 939,237.7 949.5,237.8 941.6,259.4 909.7,276.4 962.8,223.5 913.3,263.7 969.7,230.9 959.4,215.3 907.1,266.3 966.7,225 945.3,233 901.7,272.5 911.7,247.6 948.9,244.4 933.6,232.4 956.1,238.3 933.8,234.9 939.3,226.4 962.9,216 961.2,216 930.2,270.8 927.7,272.8 939.1,254.1 950.2,247.9 906.6,255.3 926.7,258.4 975.7,209.1 924.5,258.1 909,264.6 905.2,285.9 970.3,236 974.2,210.8 916.8,273.1 906.8,265.8 924.3,259.2 917.7,241 966.1,221.6 955.6,227.5 942.4,253.2 941.5,242.9 904.9,285.3 924.3,252.3 956.6,220.3 906.7,272.1 950,246.7 901.5,272.1 876.3,294.8 954.8,221.6 922.1,255.4 914.7,262.5 929.3,254.4 941.1,254.6 965.2,240.3 921.9,255.4 971.7,219.7 965.8,246.5 974.3,222 973.5,226.2 940.9,261.3 899.2,279.6 886.7,253.4 951.3,221.5 881.5,301.3 907.2,279.7 915.6,263 916.2,275.6 897.9,274.6 953.1,231.1 936.2,236.5 903.4,289.5 924.3,255 927.5,241 968.5,222.7 952.5,240.7 911.2,266.3 954.5,236 934.6,257.5 909.1,255.1 957.6,227.9 909.4,253.6 898,293.4 924.7,259.1 904.8,277.6 955.7,232.9 951.2,239.7 975.6,220.3 957.1,246.8 932.5,244.1 943.1,238.2 934.3,237.1 933.8,243.5 943,247.1 884.6,279.6 928.7,243 921,246.3 936.9,256.2 911.9,244.1 914.1,255.3 932,237 939.4,236.8 960.9,203.1 896.7,273.3 886.9,283.6 973.1,214.8 948,215.9 903.7,246.3 798.5,348 911.8,257.1 932.2,236 925.3,245.2 971.6,217.7 934,265.9 952.7,254 964.1,234.9 907.1,261.5 931.7,258.5 917.8,267.4 962.4,226 944.5,244.1 918,261.5 948,237.2 938.1,231 951.3,244.4 911,272.5 903.5,269.8 969.3,212.7 953.9,229.1 880.3,292.5 954,237.4 967.8,227.5 968.7,218.8 896.7,284.4 892.7,271.2 906.7,271.9 908.9,271.6 916.7,251.2 891.7,284.9 929.2,254 968.3,225 960.4,230.7 905.4,272.2 966.4,226.3 940.7,247.6 964.5,208.8 899.7,288 913.9,246.8 957.5,220.8 952.2,245.7 946.7,217.7 897.6,279.9 944.1,247.6 967.4,244.6 940.8,249 941.4,255 944.7,233 952.4,239.4 965.9,214.4 942.7,238.8 973.4,235 955.2,224.6 936.1,239.1 929.3,262.3 902.3,268.3 914.1,257.5 937.4,245.1 954.9,226.6 921.8,250.2 898.8,260.6 928.7,243.4 961.3,234.5 899.2,278.8 953.2,215.7 952.3,233.1 832,319 932.3,249.2 901,272.1 930.6,233.7 931.2,264.8 879.2,278.1 922.1,257 912.2,257.2 907.8,274.4 916.5,258.2 919.6,248.4 965.2,223.5 951.4,242.8 895.3,281.1 947.8,239.9 959.7,217.4 927,250.5 921.6,229.8 949,234.1 962.6,217.2 964,223.9 963.9,222 927.7,239.7 923.8,247.6 925.4,247.1 927.9,245.6 915.3,253.1 962.6,237.7 962.6,238.8 937,239.9 954.2,230.4 940.1,238.7 954.3,246.3 933.7,255.7 879.4,300.1 927.2,268.7 921.8,266.2 927.6,252 938.9,231.7 958.8,226.7 912,274.5 919.5,267.2 971.9,215.1 967.3,225.2 964.5,223 973.4,230.4 957.4,246 966.8,240.8 960.5,226 962.6,216.3 906.4,274.3 954.8,213 890.2,289.6 915.1,253.7 927.2,256.4 911.1,278.1 959.5,217 933.4,248.1 915.5,259.5 928.3,267 920.4,259.3 974.9,219.7 917,260 953.8,238.7 971.6,220 947.7,242.4 888.4,283.8 901.9,265.9 954.6,205.8 914.6,260.4 919.4,259.7 868,315 967.5,221.8 922.5,272.3 893.7,276.8 922,275 911.9,264.5 955.9,223.8 923.7,254.3 914.7,258.5 882.6,261.6 947.6,215.8 950.1,239.1 910.8,252.6 961.1,222.5 968.2,218.9 945.3,229.1 927.8,245 951.3,232.4 905.2,263 969.7,232.3 906.5,262.1 897,278.9 953.5,234.9 914.5,279.5 939.7,249.7 970.5,227.3 916.3,255.8 883,302.8 961.2,241.8 932.4,257.7 928.7,242 958.6,248.5 917.7,227 955.5,218.8 915.8,250.3 899.4,241.5 947,243.8 935,251.9 897,275.3 921.8,251 912.5,277.4 925.5,241.6 935,248 928.7,248.8 952.5,238.9 928.2,255 952.1,240.1 875,295.9 909.7,256.3 963.4,222.8 965.3,225.9 929.3,256.6 908,260.5 911.9,258.3 949.1,245.3 951.6,239.7 918.2,272.6 956.9,230.9 964.2,217.6 953,231.4 926.6,249.6 911,273.6 949.9,239.6 944,229.5 949.2,232.1 953.6,234.5 965.2,221.6 938.9,258.8 917,260.9 949.5,225.8 953.3,233.9 915.7,253.2 930.5,233.4 923,259.3 928.2,263.3 939.9,256.8 943.6,237.9 912.1,269 954.7,234.8 932.5,234.4 971.8,209.7 913.9,274.1 928.4,237.5 969.6,240 967.6,209 939,245.9 933.2,239.3 912,268.5 956.7,221.2 912,252.9 948.1,240 919.8,261.1 926.7,273.5 948.6,233.2 924.1,236.6 912.9,263.8 925.1,237 967.3,227.4 902.8,276.9 925.5,245.2 902.2,271.8 882.5,296.2 954.7,218.8 917.2,272.6 944.5,253.2 905.7,274.9 938,227 908.8,277.2 923.2,254.2 977.1,216.3 944.4,240.8 928.2,268.8 900,266.9 902.3,266.1 953.3,245.3 941.6,242.4 886.4,278.4 935.7,249.1 948.6,220.2 969.1,225.6 935.3,255.1 943,236.3 929,240.6 930.8,239.3 937.7,235.5 952.4,247.4 905,260.6 921.7,259.3 968.5,223.3 972,219.4 948.1,226.7 903.9,270.3 909.6,272.7 932.4,261.9 961,224.6 900.6,282.4 927.3,269.4 898.9,274.6 916.6,255.6 910.3,277.8 876.7,257.2 917.9,258.7 874.5,288.6 902.2,272 921.9,253.9 964.6,232.1 959.3,234.5 949.7,221.9 962.3,235.9 942.4,242.2 910.9,271.4 973.2,224.7 921.2,251.5 937.4,240.1 905.4,268.4 962.3,223.9 963.4,221.6 939.4,234.6 910.9,264.4 942.5,242.4 897.2,279.1 906.5,267.6 904.1,286.2 897.4,289.6 931.1,252.9 946.1,221 966.9,233.7 930.4,258.6 953.9,210.1 936.7,248.6 892.7,280.3 917,267.8 955.7,243 917.2,259.6 963.3,229.3 947.5,244.1 915.6,263.1 958.3,240.1 931.2,245.3 946.6,245.4 943.4,244 947.1,234.1 930.6,251.1 906.4,260.4 961.9,238.4 921.1,237.9 932.1,266.1 930.7,258.6 973.6,218.2 968.5,216.2 923.3,264.1 905.4,271.2 956.5,224.9 919.5,273.8 916.5,249.8 919.3,258.3 928.5,241.9 869,263.8 938.3,245.8 903.4,266.2 909.1,275.3 946.7,241.6 954.4,230.2 895.4,272.3 926.5,252.3 973.7,218.9 958.9,210.3 915.7,264.1 936.1,266.2 921.5,242.1 922.5,255.1 960.6,219 924.1,262.1 933.2,245.4 945.5,234.4 946.3,226.7 966,225.5 925.7,251.2 942.4,232.9 963.1,227.6 958.5,235.4 922,256.7 967.1,223.5 920.4,265.2 972.8,211.1 943.8,247.3 948.1,236 959.6,229.5 973.5,228.6 965.3,225.8 902.2,252.2 963.1,225.5 952.2,238.8 952.9,239.2 920.8,258.9 932.9,255.8 896.4,256.9 925.8,235.4 969.8,227 951.4,227.3 937,239.9 945.2,245.7 923,253.4 962.4,227.9 903.9,279.7 917.5,249.1 908.2,273.3 958.3,229.6 933.9,262.5 937.2,241.9 961.2,223.6 881.4,297.4 938.9,260.2 924.3,273.9 891.6,278.3 928.6,251.5 900.9,296 931.8,242.6 961,227 917.5,252.5 943.2,262.2 886.8,298.8 933.8,252.4 881.9,265.2 956,226.3 894.4,290.5 949.4,256.6 890,285.4 941.8,240.4 940.9,241.6 944.8,226.5 933.5,259.6 961.9,219.6 932.9,245.9 946.1,222.5 918,257.7 927.7,246.7 954.9,236.5 925.2,265.9 904.1,286.1 898.6,288.1 971.7,221.4 906,278.6 900.1,272.8 922.5,259.7 931.9,247 941,246.4 871.5,272.6 939.9,255.5 960.4,213.3 969.4,220.7 923.7,258.2 883.8,300.7 915.9,253 953.6,219.8 918,263.6 930.9,230.6 928.3,248.8 956.2,226.2 904.9,272.1 921.1,255.6 913.7,282.2 914,267.5 948.1,254.6 896.9,264.9 899.6,265 966.9,234.1 918.2,240.1 968.9,233.4 937.6,217.1 954.4,245.8 934.4,229.9 912.6,276.7 966.7,219 970.8,218.3 975.7,208.1 907.6,285.3 913.4,270.9 905.5,278.7 917.8,264.2 966.9,222.9 915.8,280.2 969.3,237.5 966.4,225.2 963.3,223.1 896,283.3 963.8,235.2 965.5,223.6 914.9,263 924.6,251.5 904.1,284 960,229.3 930.2,249.2 897.9,271.3 964.1,219.4 924.2,247.9 963.8,220.5 965.7,227.3 967.3,224.8 922.7,260.9 954.6,219.7 915.9,256 973.4,222.3 965.8,218.6 946.1,226.7 954.4,250.9 954.1,231.1 956.7,225.9 967.5,245.5 966.5,231.6 919.6,243.2 941.1,241.5 963.4,232 954.8,256.9 942.3,249.2 947.7,222.6 959.6,232.7 905.6,281.8 923.6,259.8 913.9,272.7 969.5,228 940.5,260.2 964,221.8 942.1,242.1 971.1,214.6 950.1,217.8 910.6,266.7 904.6,276 965.4,240.8 965.9,225.5 961,250.9 935.3,251.7 917.1,264 969.1,219.1 876.8,283.4 970.2,212.7 945,240.3 905.1,275 906.7,273.9 927,246.9 938.9,262.9 920.8,225.9 949.8,236.6 962.1,229.6 901.9,266.9 914.1,254.8 958.8,224.6 948.3,230 923.1,257.9 937.4,255.2 907.9,267.7 943.1,259.7 943.9,242 964.1,221.6 912.2,259.7 887.7,299.2 960.9,228.4 909.2,281.5 940.8,257 930.8,249.3 955.5,260.4 956.2,241.8 901.1,263.8 914.2,274.4 973.5,203.8 920.5,249.8 928.3,236 915.9,254.8 811.3,343 968.1,224.5 967.5,214.3 964.7,227.3 896.9,274 936.1,261.7 939.6,243.3 916.5,270.4 905.4,269.2 896.4,277.3 917.2,260.7 937.9,238.9 962.7,240.8 972.7,231.6 910.2,245.6 961.2,230 923,241.1 955,239.2 968.8,231.2 948.2,243.4 896.7,277.8 952.1,241.6 918.3,262.1 951.2,239.2 900,275.1 908.1,251.3 974,207.1 974.6,217 967.2,225.9 933.4,230 939.3,232.1 919.1,262.2 938,257.2 961.6,216.9 901.3,268.9 972.2,209.6 914.9,257 910.1,265.4 942.3,232.8 935.5,263.2 949.4,229.3 904.9,270.2 974,210.8 915.9,271.3 963.8,227.7 955.1,232.9 951.8,234 949.2,235.9 949.1,247.2 936.1,276 949.6,240.7 938.2,237.3 925.1,258.7 930.9,229 942.8,257.4 869.1,269.2 964.1,214.6 911.9,262.4 938.4,253.3 933.2,242.3 958,241.3 954.3,242.4 888.9,281.9 911.8,263.5 937.2,244.5 938.8,251.2 931.5,255.7 903.7,282.9 920.6,269.7 910.2,259.9 971.2,211.9 907.1,266.8 961.8,217.2 903.1,293.3 972.5,217.9 954.8,240.8 959.5,239.5 941.9,257.6 904.6,268.2 930.2,253.4 909,257.3 972.9,213.5 934.7,251.5 938.2,233.6 897.2,278.1 951.1,234.5 930.7,239.7 954.2,237.2 969,227.3 951.8,234.7 872.2,295.3 925.3,262.5 905.2,259.9 946.1,225.5 904.4,258.1 934.3,250.3 925.5,264.3 960.3,221.5 917.3,251.4 910.1,263.4 908.6,270.9 946.6,239.1 918.4,240.1 926.3,267.5 941.5,237.3 944.8,231.6 902.7,269.3 918.2,272.8 908.8,266.6 911.7,273 973.3,217.7 893.8,264.3 933.7,234.4 900.4,281.1 929.6,259 937.3,259.8 951.6,246.9 953,219.6 957.2,229.8 953.4,240.6 925.5,251.8 938.4,245.2 970.8,228.8 912.2,247.3 935.5,251.9 945.7,247.9 919.1,244.3 893.5,287.3 933.3,262.3 945.4,219.9 944.9,222.4 942.6,229.6 916.1,257.6 954.6,222.8 913.5,266.1 901.4,277.5 916.8,271.5 941.9,236.3 923.4,247.9 944.1,259.4 948.1,236.3 945.3,225 921,264.1 951,242.2 971.5,230.4 905.5,237.6 967.6,211.5 915.9,266.8 922.3,233.9 932.8,238.9 965.6,223.7 907.9,254.2 949.6,230.8 920.6,260.7 960.5,239.7 891.5,289.4 873.1,295.4 941.2,256.8 970.4,215.5 916.7,254.2 944.2,244 914,264.7 964.4,209.9 954.1,234.9 925.7,255.3 902.3,258.8 956.2,221.8 921.3,273.2 919.6,270.1 904.4,272.9 922.1,273.7 929.3,245.9 914,275.5 961.4,239.9 933.4,271.1 933.7,245.4 932.6,259.4 916.9,260.1 957.9,213 952.5,245.8 936.1,256.2 910.6,273.3 886.4,280 957.1,232.4 927.2,252.4 963.6,230 950.5,238.9 902.2,265.1 910.5,266.6 883.6,289.9 926.6,226.7 942.9,235.4 912.8,259.6 900.2,282 932.6,250.5 957.1,233.2 929,258.9 900.9,267.9 890.3,248.2 935.6,263.5 952.7,236.1 845.3,298.8 936.8,241.8 936.6,240.9 964.9,223.2 967.8,219.1 897.6,283.7 950.9,233.7 963.1,229.4 874,288.4 898.5,260 962.1,234.6 911.7,272.7 924.2,255.3 933.4,254 976.1,211.4 945.9,249.4 903.3,279.7 955.1,245.4 954.4,222.3 908.6,265.4 945.2,256 881.8,265.2 944.7,232 937,258.4 957.5,226.3 902.1,269.6 921.3,254 961.1,220.9 958.7,226.4 942.4,246.7 931.3,246 946.8,250 926.5,243.8 903.2,272.4 960.4,225.7 917.7,239.9 959.1,222.9 900.1,274.1 963.3,239.6 933.6,239.4 945,229.3 966.9,219.8 919.7,276.1 929,263 914.1,259.9 950.3,242.5 964.5,214.3 927.5,236.3 924.2,245.1 946.5,236.6 910.5,276.6 908.2,254.7 932.6,261.3 924.9,251.2 907.1,272.2 940,222.7 923.5,266.1 947,248.1 951.3,246.9 972.9,213.5 918.4,260.7 875.8,294.3 963,246.9 949.6,240 928.9,249.1 954,241.4 922.8,275.9 948.8,259.6 939.7,267.2 956.6,218.5 918.8,256.3 906.8,251.1 944.7,234.6 950.1,232.6 939.6,256 957.5,239.9 969.4,218.9 877.6,301.3 927.9,259.4 944.1,249.9 897.3,277.3 910.7,269.4 887.6,279.7 916.2,279.5 961.3,211.5 932,241.5 970.6,223.1 939.3,238 879.4,285.2 922.2,251.3 909.5,265.9 968.9,237.5 927.4,260.4 943.1,241.5 918.2,274.3 955.1,233.9 947.1,251.2 927.1,242.9 915,261.1 929.8,241 938.8,229.3 958.5,237.7 929,264.3 901.2,286.6 956.7,256.3 964.3,226.9 948.4,256.5 919.8,266.8 949.8,235.6 881.2,289.9 967.1,211.2 965.6,217.6 938.1,237.9 969,229 915.5,278.2 968.7,231.5 935.8,250.6 873.1,297.8 915.5,255.7 933.6,243.7 926,235.3 967.9,218.2 914.2,285 923.4,266.5 940.9,243.3 957,225.9 933.8,238.4 909.2,271.7 910,274.4 912.2,280.4 968.5,220.1 936.5,248.4 952.3,243.2 919.8,255.9 957,227.8 969.9,218.4 903.8,269.6 908.4,271.4 928.5,239 906.7,273.1 963.8,231.6 924.3,266.2 933.9,247.6 903.9,257.6 956.8,231.3 924.8,255.5 952.2,234 931.1,224 909.7,269.7 946.4,267.5 958.5,242 925.4,255.9 923.9,259.1 911,268.4 917.9,280.1 955.8,229.5 946.6,242 930.8,242 917.3,260.6 914.2,246.7 903.4,260.7 969.5,231 967.8,229.6 953.7,251.2 965.7,219.8 906.1,278.6 941,231.4 923.4,260.6 893.4,291.8 917.8,244.4 960.7,236.7 966.5,224 942.3,259.6 901.4,281.4 944.8,238.9 932.1,250.3 900.6,273.3 936.5,227.3 934.4,245.2 903.4,238.6 962,226.4 964.9,228.5 952.8,247.4 950.4,242.6 927.3,261.4 975.9,215.1 960.1,218.2 971.3,222.7 948.3,237.3 915.1,255.2 904.6,262.3 948.6,245.5 941,242.6 904.9,265.5 940.5,219.7 948.8,227 909.2,276.5 926.2,258.3 914.8,255.2 953.6,229.8 964.5,234.2 952.8,233.7 969.8,213.9 964.4,243.4 960.6,222 946.9,227.7 963.5,235.9 941.7,221.1 938.6,236.3 946.9,239.9 892.1,279.8 908,268.5 942.5,252 969.9,219.6 951.6,229.7 967.9,209.9 937.9,246.5 942.3,242.6 969.6,214 921.7,254.2 944.2,256.4 921,265.7 954,237.7 930.5,248 935.1,240.3 873.8,297.7 928,236.8 899.5,275.5 941,256.2 960,239.3 970,221.2 955.6,231.3 900.8,274.7 954.7,225.9 946.3,231.6 907.2,259.8 971.2,223.1 916,267.7 960.2,233.5 886.6,258.2 927.5,276.9 934.4,236 922.1,271.2 945.9,253.1 893.6,289.2 919.7,259 918.7,253.3 927.1,251.4 946.4,230.3 913.7,274 937,253.8 908.8,273.6 950.7,231.2 973.9,226.1 972,219 960.7,213 968.7,216 957.7,221.2 956.2,240.7 956.5,230.8 967.6,226.8 941.3,228.5 902.6,280.7 898.9,286.6 964.9,223.4 915.6,261.6 946.2,249.7 951.1,245.9 934.9,233.5 917.3,271.4 931.8,256.3 904.8,252.6 953.6,244.5 900.7,264.5 950.3,253.8 926.2,242.5 955.4,227.7 933.1,246.5 935.7,233.6 940.4,232.9 907.8,266 940.8,248.3 963.7,225.1 967,210.7 963.1,223.4 923.6,242.8 956.7,224.2 896.6,278.1 954.3,239.7 904.1,273.5 899.3,265.5 947.3,234.3 909.3,264.6 903.8,257.7 905.6,265.9 946.9,247.1 929.3,248.6 946.4,236.8 913.9,246.5 924.9,265.2 953,237.4 921.3,252.4 919.8,249.5 955.2,224.3 812,335 933.1,261.2 948.9,240.9 953.2,238.8 916.8,249.5 881.8,295.9 945.7,244.5 925.2,246.8 962.3,237.8 902.3,273 961.9,240.8 956.9,225.1 948.9,230.6 920.2,260.4 933,254.2 928.8,252 954.3,233.5 937.6,248.2 904,272.9 948.8,219.8 904.3,283.2 918.8,245.4 939.6,240.2 955,230.8 915.6,272.6 973.9,217.3 918.9,261 907.9,280.8 888.5,269.9 909.6,255.9 904.4,276.6 931.2,247.2 960.6,234.7 970.8,212.1 941.9,251.1 916.2,267.8 911.1,269.2 962.8,242.5 968.5,239.6 947.7,220.7 897.2,284.8 967.2,229.9 896.8,286.8 932.8,241.8 946.5,230.1 941.9,251.3 954.1,227.5 936.4,247.9 917.9,263.8 918.2,254.9 887.9,291.9 905.6,265.4 937.4,265 844,300 907.4,270.9 927.6,262 923.1,273.1 943.6,229.7 946.8,230.3 967.4,235.2 970.1,213.8 922.3,250.1 930.6,262 912.1,272.2 970.4,202.8 899.2,270 931.8,244.9 900.1,272.6 952.4,229.7 917.9,247.8 948.8,251.2 901.1,271.7 875.2,292.6 908.4,274.5 961.6,228.4 928.7,255.5 970.8,214.9 919.8,264.5 937.7,240.8 969,220.8 966.7,230.3 937.7,232.8 952.9,216 917.8,265.1 969.2,230.3 949.2,227.8 948.1,239.5 958,232.2 923.9,265.2 975.2,222.6 926.4,253.1 892.6,297 957.1,228.8 968.3,210.7 955.6,255.9 944.1,226.6 930.2,247.8 943.4,251.4 918.2,268.4 927.3,244.3 940.2,249 967,218.7 927.3,259.8 925.2,256.3 962,234 933.4,249.7 972.6,223.4 925.6,234.5 930.7,240.4 944.3,239.7 974.2,215.9 893,287.6 957.5,229 929.7,248.2 958,250.2 919.9,254.7 912.9,267.5 959.3,239.5 922.5,241.1 934.1,254.2 944,226.4 935.5,241.6 913.4,243.3 944,230.5 911.1,263.8 926.6,252.7 917.1,258.3 940,236.1 962.9,225.7 939.2,257.8 933.5,242.5 972.5,215 935,240 927,253.4 902.8,267.8 938,254.5 969.4,215.4 917.4,264.3 937.9,227.5 914.1,228.6 934.9,241 929,253 863.5,301.8 963.7,218.1 941.2,263.1 964.1,235.1 970.3,209.6 886.3,292 957.2,249 924.5,230 932.1,241.1 899.9,241.6 954.5,212.2 915,250.2 965.5,230.6 904.6,275.3 906.9,282.4 973.6,221.7 943.4,247.9 927.2,260.2 908.3,255.2 951.9,242 941.7,256.2 940.1,241.9 943.1,232.3 905.5,263.8 955.1,243.5 916.7,264 973.7,224.6 976.1,215.2 907.7,262.6 916.3,248.3 905.7,260.9 970.8,220.4 906.7,278.4 965.5,233.3 953.3,232.2 920,270.9 960.6,230.9 939.2,262.6 909,266.9 947.5,253.2 909.6,272 953.7,237.3 970.1,234.8 944.5,230.7 952.4,228.1 915.9,260.9 958.8,235.5 915.1,257.1 947.9,255.8 937.1,260.5 903.9,272.7 930.5,262.2 951.1,239.4 959.5,223.6 949.1,219.7 974.1,219.9 887.6,283.8 902.2,277.3 945.4,242.1 916,247.4 974.1,227.1 951.7,245.4 926,263 947.2,233.3 960.7,213.2 934.8,252.6 939.6,249.1 929.5,258.9 893.5,276.4 927.9,261.4 946.9,239.5 943.1,233.8 927.9,252.6 930.5,224.4 882.3,297.5 924.5,248.6 940.4,245.1 908.6,268.8 942.7,248.2 976.8,208.3 938.6,245.4 945.1,249.3 939.3,224.6 941.4,242.3 959,222.5 938.9,236.1 941.7,247.2 920.8,246.8 937.9,234.8 950.7,225.8 933.9,237.9 935.1,263.4 938.3,261.2 898.8,281.2 949.9,240.2 948.7,244.9 889.8,286.8 931.4,244.7 968,220.6 884,290.6 960.1,235.6 934.7,226.3 878.9,288.1 940.5,236.1 914.6,263.7 961.4,228.9 944.6,225.4 954.2,247.2 915.7,272.7 919.8,265.5 889.1,302.6 951.9,244.5 927.3,260.7 936.5,227.2 967.5,218.3 905.8,260.5 929.1,226.8 921.2,270.8 896.1,278.7 913.2,254.8 918.7,261.4 930.2,223.5 892.5,247.3 945.6,249.1 895.6,265.2 955.7,233.3 949,238.2 937.7,250 950.9,247.5 966.6,221.7 939.9,234.1 934.8,257.4 933.6,254.8 936.3,261.4 951.7,250.8 941,238.6 917.4,258.8 974.1,219 929.9,242.4 954,228 929.3,253.9 967.2,212.6 948.2,248.1 958.6,226.9 894.4,280.3 936,233.2 918.9,257.6 952.9,235.1 967.4,224.6 950.6,244.6 901.8,281.7 946.1,241.3 948.5,250.1 939.8,235.8 947.5,224.9 962.3,255.6 970.1,216.5 982.5,196.3 927.8,238.6 950.5,243.9 938.7,237.4 917.5,275.5 938.4,241.4 919.6,275.7 969.9,226.8 944.1,222.9 917.1,257.8 948.5,256 955.4,217 922.8,259.3 901.6,291 937.3,261.4 904.8,274.9 909,241.4 942.5,240.1 912,261.3 952.1,230.9 967.7,230.4 899.1,268.7 895.3,268.8 885.1,282.3 962.7,226.4 960.8,226.9 931,253.4 963,227.6 943.3,247.2 960.7,216.9 917.1,245.3 914.2,267.2 970.5,222.9 920.3,259.3 917.2,265.1 898.6,267.3 919.7,242.6 942.9,234.9 959.2,246.5 943.2,241.6 968,229 918.4,262.3 949.1,240.7 946.1,237.1 925.1,259.8 914.4,262.9 924.9,252 974.1,213.9 911,265.2 918.2,269.3 949,241.7 961.6,241.1 967.1,234.6 937.5,250.7 932.9,244.8 969,218.1 936.4,248 943.1,250 939.2,244.4 937.5,257.1 919.3,279.2 961.2,232 957.8,220.1 944.4,237.1 916,273.6 944,229.9 896.9,287.4 937.8,233.8 914.1,255.2 965.9,225.6 943.8,218.9 967.4,223.2 921.3,254.8 936.5,244.1 893,284.8 974.4,213.5 917.7,247.6 922.8,251.5 964.7,222.2 920.9,253.6 884.2,294.2 934.6,245.9 957,229.7 942.2,236.9 871.5,274.6 967.1,223.8 963.4,232.9 940.1,249.3 917.7,256.6 917.9,266.9 893.4,294.6 948.2,231.9 961.4,227.7 969,229.1 963.6,232.8 957.9,240.8 901.8,277.9 922.5,264 927.2,233.2 948,244.6 955.1,254.8 888.6,285 936.1,255.4 878.8,284.7 967.8,236.1 959.4,242.8 963.3,219.3 930.8,255.1 942.9,237.5 963.8,234.6 961.7,224.8 933.9,241.5 930.5,259.8 924.1,256.8 927.5,262.5 938.1,241.7 952.5,230.6 907.7,264.5 970.1,220 963.1,216.4 938.1,233.9 928,257.2 958.4,234.6 893.1,296.9 921.7,237 963,234.4 902.2,273.8 889.9,290.4 976.6,227.6 924.5,266.8 947.3,230.1 936.8,233.7 947.7,250.4 947,232.7 905.6,273.8 929,247.5 948.9,244.4 968.6,217.8 951.1,238.2 950.9,261.6 939.2,233 964.8,209.7 900.8,284.1 917.3,252.4 949.9,240.2 973,227.3 942.3,231.5 941.9,249.7 904.7,274.7 928.4,257.3 918.3,246.2 923.6,263.3 882.3,275.3 950.4,227 906.7,274.3 962.8,232.3 902.4,273.2 971,220 924.3,258.3 935.3,247.4 952.6,226.2 943.7,237.8 884.5,262 944,255.8 968,219.5 927.1,260 944.3,237.7 892,288.2 897.8,267.6 898.8,288.2 927.6,260.7 967.4,227.5 904.9,276.5 912,260 877.5,304.3 907.3,255.7 909,271.1 889,279.9 915.8,259.8 963.7,244.7 914.3,255.3 935.9,232.8 936.6,246.4 924.4,252.9 846,301.5 928.6,251.5 956.2,235.3 932.4,260.7 952.2,210.1 949.4,235 960.9,233 970.9,225.2 958.6,250 963.1,229.7 918,263.8 938.5,250.3 931.9,231.2 906.8,257.3 943.7,230.2 958.9,250.2 898.6,267.1 933.7,244.1 931.2,244.2 958.7,232.3 968.7,215.1 969.7,219 872.2,304.3 952.5,229.6 932.1,262.1 961.9,232.8 966.7,204.3 932.9,251.2 964,218.5 873.7,292.6 950.6,243.3 931,266.6 966.2,231.9 891.1,304.9 922.3,270.2 947.8,250.9 902.2,263 941.3,215.8 906.8,272.9 925.2,259.4 964,211 888,299.4 920.6,281.9 968.1,213.7 910.6,273.9 935.9,235.2 908.1,262.7 922.9,229.6 967.8,224.6 942.3,243.1 905.3,270.9 921.9,265.5 956.2,238.7 917.6,272.6 955.5,245 963.2,224 967.3,220.7 915.3,246 940.9,249 940.5,236.6 926.7,258 927.1,239.9 908.5,281.1 914.2,244.8 943,252.4 937.8,240.5 941.6,265.8 912.8,273.4 961.7,213.9 937.3,249.4 914.8,273.2 893.3,289.4 968.2,231 949.1,249.3 905.9,275.4 969.1,208.5 941.4,233.6 911.9,279.8 911.4,266.3 968.9,224.9 892.5,284.3 968.6,222.1 949.7,242.6 945,259.2 963.5,227 947.6,242.5 974.2,216.3 928.6,238.8 957.3,239.2 953.5,242.8 890.1,281.3 928.6,249.2 964.6,228.3 945.2,255 938.2,246.1 915.1,263.4 938.1,241 950.3,221.9 963.4,222.9 913.9,252.4 967.7,218.6 973.6,219.1 915.9,257.1 950.1,235.6 974.8,223.6 917.2,264.7 972,220 946,239.5 941.3,259.4 955.5,237 949.2,227.9 922.2,251.9 907.2,255.2 920,253.1 950.6,248.5 924,251.8 919.7,237.2 928.5,259.8 930.8,256.8 964,228 941.3,245.9 905.5,277 932.5,259.9 914.5,271 933.6,253.6 901.2,274.4 894.2,300.8 912.4,258.6 927.9,252 938.9,274.4 956.1,225.2 896.2,277.5 928.9,262.2 941.3,243.5 923.4,251.7 930.4,263.2 951,251.1 946.8,246 929.6,237.2 939.9,256.6 934.1,252.9 952.8,242.2 969.1,215.8 923.1,249 915.2,266.2 944,237.3 918.8,258.2 929.8,270.1 891.4,256.5 945.2,246.1 935,254.1 907,279.7 951,245.5 922.4,260.6 910.4,274.4 941.2,262.6 932.8,230.7 912,260.3 971.6,221.8 953.2,241.5 968.3,233.5 893.5,275 939.9,263 905.2,281.4 902.6,278.3 888,286.2 959.4,239.4 951,242.3 967.4,227.5 968.1,216.3 915.7,272.8 946.3,243.2 934.2,248.3 964.3,220.6 969.3,214.6 923.7,260.4 914.6,269.9 967.2,222.2 916.9,270.6 889.6,287.1 962.1,254.6 896.2,286.1 903,279 963.4,240.6 895.8,292.2 945.8,254.3 906.7,273.8 924.4,247.4 890.1,275.3 966.8,219.8 900.7,268.1 924.4,245.5 918.5,260.9 970,221.6 951.5,235.5 902.4,266.3 947.9,218.1 971.6,234.1 952.9,247.4 912.3,274.9 901.3,293.8 931,235.2 949.5,225.8 915.1,240.7 945.9,237.9 939.3,244.2 947.9,242.7 929,258.9 942,237.2 946.3,244.8 958.9,245.1 925.9,243.4 941.9,248.5 947.4,246.6 957.9,248.5 927.2,260 947.7,240.9 925.3,261.1 939,235.8 899,274.9 957.9,229.4 953.4,222.5 935.7,242.7 908,284.8 925.8,245.9 934.9,262.7 922.9,264.6 954.1,243.8 920.3,255.8 931.4,248.5 941.2,234.5 942.1,243.4 918.8,278.2 918.2,250.5 960.2,217.1 916.3,269.8 891.1,285.1 961.4,214.2 964,207.5 911.2,263.2 929,242.8 913,278.3 948.6,244.3 941.2,242 920.7,268.8 911.8,274 934.5,239.6 891.4,283 940.7,233.9 906.7,270.2 961,219.8 933.6,246.7 909.8,266.5 957.8,239.6 922.4,248.6 956.7,230.7 919.8,253 919.5,249.6 910.9,247.2 906.3,275.8 944.8,248.7 952.1,247.1 963.8,230.9 904.7,258.5 900.1,289.6 958.2,227.1 949.8,256 911.3,241.9 943.7,240.9 958.9,232.4 894.8,284.4 934.5,243.9 917,250.7 905.8,268.9 907.2,261.9 967,216.7 911.7,255.5 899.2,261.2 907.4,275.1 954,220.5 955.9,236.8 943.5,230.8 947.4,245.4 914.9,277.2 950.8,223 970.9,222.7 957,227.9 883.7,288.2 946.5,233.1 914.1,256.9 904.4,279.1 925.5,249.2 923,253.7 933.1,237.9 954.3,243.7 918.7,276.2 935.4,247.4 922,241.7 931.3,259.8 921.9,265.8 909.3,254.9 968.5,225.7 888.1,282.3 969,210.5 939.2,234.5 969.2,211.8 935.5,243.5 911.1,268.6 959.8,241.2 912.6,270.2 945.5,229.2 962.8,237.9 963.4,226.3 899.4,280 943,249.3 903.3,275.8 923,250.5 908.4,268.3 901.3,280.9 921.6,266.7 953,236.1 946.4,256.6 896.4,293.1 970.1,223.6 911.1,269.9 947,231.9 933.7,264.4 914.2,266.8 937.5,254.9 905.6,270.6 915.4,273.8 908.9,273.3 911.6,263.4 893.1,246.8 912.2,278.9 940.8,245.5 948.6,232.4 944.9,252.2 902.5,272.3 891,276.1 898.8,268.5 959.4,230 937.6,253.9 915.5,281.1 928.4,239.9 928.8,229.6 964.4,215.6 950.4,235.8 960.2,241.6 924.1,254.4 933.2,238.1 972.1,225.4 915.8,263.9 884.8,286.3 908.7,274.6 959.5,230.4 901.1,281.3 973.9,215.1 961.6,216.9 932.9,270.8 906.1,280.7 952.1,241.6 937.5,244.1 953.2,244.9 950.9,243.1 918.8,265.1 946.4,238.6 943.1,215.5 971.4,208.6 917.6,260.5 887.4,280.8 917.2,269.6 913.8,256.6 937.7,242.4 941.6,254.9 948.6,235.3 913.2,269.5 908.8,252.1 869.6,309.2 941.7,239.4 878.3,293.1 951,241.6 943.1,246.8 930.1,248.4 947.9,228.8 940.1,225.5 949.5,257.7 923.8,254.7 949,245.4 902.1,287.3 921.3,231.9 920,250.7 904.3,257.3 902.4,271 932.9,247.4 944.7,231 893.1,269.4 902.2,283.7 951.3,252.6 972.3,227.9 959.9,215.2 898,280.8 895.2,267 958.1,220.8 926.9,261.1 951.2,228.4 910.7,248.6 931.9,257.1 919.3,262.5 887.6,292.9 893.5,273.5 970.4,233.9 880.5,292.4 881.4,283.3 922.9,256.5 963.5,228.2 943.8,244.1 942.1,214.9 912.2,278.2 904.4,261.1 950.1,236.7 965.5,234.5 959.4,219.8 972.2,226.4 938.4,254.3 964.3,238.3 940.4,250.5 966.3,224.4 924.2,261.6 916.1,249.4 958.1,210.9 918.3,254.1 915.6,278.8 915.7,279.1 945.2,259.4 944.8,252.6 939.6,237.5 969.9,224.8 913.1,270.8 929.5,262.4 940.6,250.6 898.1,280.2 950.1,261.4 971.3,230.9 916.7,261.5 948.3,236.7 918.6,272.2 909.6,271.1 954.2,240.1 939.2,269.2 949.4,234.9 917.4,240.7 890.7,291 910.7,261.7 921.2,263.5 907.5,279.3 906.9,260.2 910.5,266.6 970.7,224.8 886,276.3 959.1,225 926.7,268.1 930.7,266.4 940,248.6 907.6,255.8 907.5,283.6 896.7,278.8 952.2,230.3 962.1,223.9 930.4,241.6 930,242.8 883.3,285.1 910.5,265.2 946.2,231.2 959.4,203.3 925.9,253.5 922.7,245.3 932.7,244.9 962.9,238.4 913,260.9 933.4,262.8 935,256.1 969.8,218.2 942.2,229.3 924.2,266 935.5,253.3 944.1,243.6 940.9,244.3 936.1,234.8 922.7,251.3 894,282.8 941.1,243.3 906.7,254.7 974.4,204.8 914.7,254.5 879.4,290.8 962,219.1 942.4,234.4 946.5,254.3 925.1,251.4 927,245.8 921.9,246.4 951.5,243.6 942.1,265.4 910,274.2 896.5,260.6 960.2,237.1 920.9,245.6 910.9,261.4 952.2,228.9 926.9,240.4 942.8,243.9 898.2,261.8 937.9,232.1 967.7,226.9 970.9,218.4 941.9,261.4 944.3,248 910.5,264.7 938,246.1 947.1,263.7 915.3,268.6 936.1,259.2 971.1,230 937.3,268.4 913.3,252.4 934.6,250 932.7,237.8 929.5,242.1 891.5,282.2 877.5,294.8 937.1,248.7 901.8,278.2 956.7,242.7 917.1,265.1 945.2,249.4 962.9,241.1 969.7,213.7 944.4,236 959,224.5 968.4,234.4 966.9,227.2 935.9,230.1 957.5,220.9 908.2,247.5 960,225.6 950.4,248.1 965.4,240.5 914.1,275.8 928.2,246.3 963.9,230.8 912.8,278.1 914.5,255 935.1,261.5 937.4,263.9 907.7,270 947.1,231.6 955.8,221.2 935.4,240.8 945.7,242.1 960,232.7 893.4,278.4 945.1,255.8 962.3,228.7 939.5,231.4 885.4,288.9 928.8,251.1 960,222 960.3,220.2 892.8,294.5 952.8,230.2 968.9,213.8 961.1,217.6 972.7,211 926.1,265.7 889.4,280 900.5,275.1 949.2,238.4 964.5,220.9 790.9,354.9 959.4,229.6 969,224.1 921.7,241.7 923.8,246.8 942,243.9 907.2,260.6 940.3,233.5 898.9,266 966.7,222.5 932.6,251.7 952.5,232.9 901.7,269.3 927.1,247.1 890.5,274.1 913.1,264.9 891.6,300.5 906.1,271 909.7,262.4 964,225.7 965.7,226.3 933.2,248.7 920.6,256.4 965.4,232.4 928,267.3 956.3,245 947,240.4 914.3,254.1 895.6,286.9 943.7,259.3 943.9,226.6 910.8,250.9 943.2,239.9 961.2,232.5 908.7,293.5 968.1,242.2 901.7,276.9 934.5,264.6 890.5,250 917.8,273.1 949.2,246.7 963,246.1 899.9,289.2 938.1,255.3 889.9,282.6 920,248.6 910.2,254.1 965.8,242.2 920.9,256.5 928.9,251 945.3,229.2 918.8,256.6 895.2,247.3 943.5,248.2 945.8,232.1 971.1,212.8 913.3,271.2 937,247.5 941.5,252.2 918.5,269.9 886.2,298.3 952.4,237.2 913.4,254 904.1,256.4 921.7,249.6 883.7,302.3 925.7,231.5 969.6,223.8 928.3,250.7 934.5,243.3 941.3,251.4 921.3,252.5 925.5,277.7 941.1,261.9 907.8,277.7 920.5,254.6 933.4,243.8 958.3,220.3 930.9,252.1 966.7,220.7 953.6,245.6 927.9,259.7 912.7,270.8 965.9,206.6 965.1,249.6 918.9,282.3 920,241.5 919.5,250 956.1,228.9 927.1,246.8 954.2,219.1 943.5,252.1 930,247.5 891.1,288.7 953.4,229.4 932.5,245.8 975.6,219.8 949.6,235.5 896.2,274.9 943.9,237.5 974,205.3 926.5,265.4 959.1,228.6 958.7,234.3 939.7,232.9 909.5,267.5 946,225.3 951.7,253.8 966.8,216.2 897.3,283.4 927.7,245.9 918.2,269.8 905.9,258.8 958,226.2 954.5,229 932,251.9 885.4,282.6 898.8,261 893.5,276.8 908.5,280 942.3,249.4 975.5,212.6 953.9,234.1 909.6,272 957.2,227.9 956.7,237.4 941.3,257.3 869.4,261.5 873.6,302.1 947.4,229.8 968.1,217.6 971,222.6 928.6,238 936.2,241.6 941.4,242.2 955,243.7 904.8,266.7 930.4,244.2 901.3,272.7 915.6,273.3 934.3,241.4 961.2,223.5 968,226.3 931.4,250.9 972,227.2 895.2,268.9 914.3,258.2 917.6,252.6 925,268.9 915.7,256.8 902.6,277.7 955.8,232.2 965.4,230 935.6,271.9 847,310 966.5,215.3 974.2,230.7 948.2,264.4 928.7,247 911.7,265.5 905.3,245.2 968.2,225.3 952.1,233.8 940.2,261.4 927,255.9 952.2,222.5 955.9,237.9 954.5,242.1 953.9,224.7 937.5,236.5 957.2,245.2 916,262.2 940.9,254.8 907.6,268.9 919.2,254.7 936.8,242.6 936.9,225.6 904.7,272.5 960.3,210.1 912.6,269.6 904.5,274.7 906.1,277.9 967.4,220.3 932.8,259 924.7,254.7 945.1,252 939.9,243.2 961.7,215.6 924.4,262.3 926.9,245.9 922.2,245.8 945.9,247.5 926.9,251.4 957.1,249.3 912,268.7 919.3,250.5 962.6,219.1 929.8,255.1 946.8,232.3 927.1,242.4 962.7,221 895.7,281.6 954.2,252.1 943.8,252.8 913.8,263.2 926,267.4 938.6,235.1 946.3,230.3 926.4,274.1 956,227.2 929.5,271.1 922.1,254.8 971.3,216.8 973.1,215.1 921.2,236.2 970.5,215.9 938.1,250.8 938.5,244.4 952.1,217 944.7,243.9 928.8,236.8 962.9,220.2 889.7,284.1 893.4,286.8 967.2,227.3 950.6,229.9 937.5,257.1 966.8,225.6 931.3,257.1 965.9,226 969.4,237.4 965,243.9 964,238.2 951.5,237.1 922.7,252.8 917.5,246.5 947.7,227.2 919.8,254 948.2,247.4 933.3,265.1 961.6,220.2 927,262 925.8,234.3 901.4,283.5 939,237.6 936.9,237.4 955.4,231.8 957.9,235.7 917.6,267.9 945.3,266.1 957.4,231.5 906.9,249.5 921.5,278.5 945.9,241.8 971.7,215.2 921.8,253.5 920.5,254.8 974,214.9 907.4,287 901.8,272.4 924.9,255.3 907.4,276.3 968.5,239.7 896.5,269.8 966.9,224 917.5,266.6 953.6,229.3 945.8,247.2 944,232.3 900.7,280.8 966.4,232.9 901.1,289.3 938.6,244.3 964.1,239.9 963.6,224.8 953.1,225 883.2,292.6 945.5,246.3 944.4,243.4 961.7,214 938.7,248.8 940.2,255.6 904.2,278.2 961.8,215.3 912.3,261.2 951.3,239.6 899.6,286.2 908,270.2 936.7,246.9 973.7,214 950.4,234.6 935.9,266.3 964.5,227.2 972.8,218 904.1,267.4 963.2,219.5 934.6,253.1 912.9,248.6 923.8,253.3 918.5,240.1 965.2,211.1 923.7,261.5 924.8,269.9 923.7,249.9 907.5,260.8 916.5,269.3 891.2,281.1 931.1,255 971.8,215.8 963.3,248.3 921.6,252.4 942.8,239 961,217.4 941.4,253 922.9,239.3 936,257.3 937.4,238.3 903.9,274 969.2,227.9 941.4,241.5 902.7,283 900.8,271 961,213.6 889.9,275.4 963.6,221.2 929.1,232.2 932.7,239.5 929.4,262.2 915.3,229.4 910.4,272.7 908.2,236.7 943,240.7 934.4,260.7 970.2,209.3 948.7,221.5 962.5,239.7 946.7,241 958.7,239.9 955.4,235 941.7,244.4 888.1,253.6 960.7,207.9 915.9,265.9 898.5,265.3 920,249.8 922.6,239.2 966.7,229.5 969,227.4 918.2,257.7 880.3,296.8 969.3,225.9 891.1,280.3 912,265.2 971.4,232.1 924.5,263.4 928.3,259.7 956.2,210.6 958.4,237.1 962.9,234.2 944.9,222.9 969.1,222.3 926.6,235.9 958.2,233.4 927.1,266.1 915.3,257.1 938.3,239.6 926.8,244.8 910.1,259.6 958.7,232 916.4,262.8 924.7,246.6 965.1,242.1 914.8,241.5 916.7,251.1 913.7,275.4 932.4,249.4 962.7,230.4 905.6,252.5 954.3,243 922.6,248.3 968,221.7 928.8,257.3 895.7,263.9 942.8,232.4 962.2,220.9 947.6,237.4 957.3,214.7 953.6,222.7 965,229.3 908.8,292.4 964.6,228.6 943.9,247.8 940.6,252.1 935.2,244.4 908.7,267.8 964.7,232.7 967,215.7 867.5,300.3 971.8,213.4 921,253.4 965.3,233.5 898.4,272.8 923.8,261.3 959.2,234.6 941.7,252.5 960.3,224.2 923,260.1 920.1,281.7 968.5,226.5 956.5,242.4 960.1,238.4 914.5,256.9 904.4,259.6 916.6,250.9 958.3,229 957.2,217.5 909.1,248.9 906.6,253.8 924.9,256.8 907,261.5 911.4,281.3 905.2,288.9 935,238.2 971.8,226.9 949.5,240.7 931.5,240.2 933.2,254.5 961.3,221.9 923.5,243 926.1,245.7 929.6,246.6 965.9,215.8 974.1,222.2 941.6,234.7 934.1,257.1 916.9,279.5 903.7,277.5 905.1,276.6 896.2,282 959.8,213.5 935.4,233.9 938.6,258.5 948.7,234.7 925.7,264.6 915.5,279.2 915,260.2 942.5,249.2 945,259.5 907.2,271.6 920,241.9 915.7,259.3 935.8,248.7 912.9,246.8 975.8,211.4 946.8,238.1 962.3,230.4 935.8,247 908,275.7 908.8,263.6 954.7,217.6 944.1,255.1 878.1,286.9 956.6,246 959,235.4 901,274.1 962.2,226.3 936.4,252.6 943.2,227.9 955.1,226.9 903.3,277.9 912.8,273.9 965.9,231.5 924.5,255.1 914.8,260.2 920.9,263.9 954.9,226 945.6,258.8 947.4,240.5 913.9,258.3 913.7,259.7 929.5,258.2 892,290.9 961.2,218.7 970.9,210.3 959.3,228 958.3,230.6 934.8,238.2 943.2,248.8 938.8,245.2 930.4,246.9 961.9,232.6 929.6,250.7 915.5,261.9 937.3,251.8 899.6,260.1 919.5,260.8 958.6,224.9 898.4,275 888.3,294.6 932.5,243.2 974.2,210.2 917.3,261.9 939.9,243.9 939.7,231.3 947.2,260.2 926,260.3 878,296.8 942.7,245.8 913.7,277.2 863,322 949.1,233.6 963.9,236.8 922.4,270.5 889,283.4 933.6,253.7 898.3,276.4 972.1,213 970.1,207.7 947.2,242.1 908,253.2 916.9,250.2 954.9,221.4 934.5,268.2 953.1,238.5 950.5,237 889.4,298.9 904.9,270.5 932.6,241.9 969.7,224 875.5,309 919.4,238.1 886.3,284.6 927.3,253.2 901.6,292.2 971.6,227.1 938.5,260.5 907.9,259 933,235.1 920.3,248.4 897.8,279.6 953.6,246.2 954,244.2 929.5,248.7 963.4,227.4 959.3,238.8 935.6,227.1 909,260.7 922.4,277.7 899.8,298.1 963.9,231.4 960.9,229.4 948.3,234.7 899.6,270.2 937.2,258.3 940.7,235.7 938.1,249 935.4,242.2 913.6,261.9 888.1,292 972.6,220.4 967.4,214.7 897.4,287.2 903.1,279.9"/>
<path class="dz" d="M751.7 197.75H990.7"/>
<path class="rl" d="M768.3 370.20L990.7 209.60"/>
<rect class="bx" x="751.7" y="27.0" width="239.0" height="343.2"/>
<path class="tk" d="M784.7 370.2v8.8M834.0 370.2v8.8M883.4 370.2v8.8M932.8 370.2v8.8M982.1 370.2v8.8M751.7 356.86h-10M751.7 303.89h-10M751.7 250.92h-10M751.7 197.95h-10M751.7 144.98h-10M751.7 92.01h-10M751.7 39.04h-10"/>
<text class="ax" transform="translate(784.2 403) scale(0.92 1)" text-anchor="middle">-2</text>
<text class="ax" transform="translate(833.5 403) scale(0.92 1)" text-anchor="middle">-1</text>
<text class="ax" transform="translate(882.9 403) scale(0.92 1)" text-anchor="middle">0</text>
<text class="ax" transform="translate(932.2 403) scale(0.92 1)" text-anchor="middle">1</text>
<text class="ax" transform="translate(981.6 403) scale(0.92 1)" text-anchor="middle">2</text>
<text class="ax" transform="translate(730.9 357.26) rotate(-90) scale(0.92 1)" text-anchor="middle">-3</text>
<text class="ax" transform="translate(730.9 304.29) rotate(-90) scale(0.92 1)" text-anchor="middle">-2</text>
<text class="ax" transform="translate(730.9 251.32) rotate(-90) scale(0.92 1)" text-anchor="middle">-1</text>
<text class="ax" transform="translate(730.9 198.35) rotate(-90) scale(0.92 1)" text-anchor="middle">0</text>
<text class="ax" transform="translate(730.9 145.38) rotate(-90) scale(0.92 1)" text-anchor="middle">1</text>
<text class="ax" transform="translate(730.9 92.41) rotate(-90) scale(0.92 1)" text-anchor="middle">2</text>
<text class="ax" transform="translate(730.9 39.44) rotate(-90) scale(0.92 1)" text-anchor="middle">3</text>
<text class="ax" transform="translate(860.3 435.8) scale(0.92 1)">Z</text><text class="sb" transform="translate(868.8 439) scale(.95 1)">RH</text>
<text class="ax" transform="translate(691.0 197.9) rotate(-90) scale(0.92 1)" text-anchor="middle">PM<tspan font-size="11.2" dy="3">2.5</tspan><tspan dy="-3"> effect (km)</tspan></text>
<text class="tg" x="762.9" y="57.0">BR</text>
<text class="tg" x="969.2" y="354.3" text-anchor="end">Model</text>
</g>
<g>
<text class="tt" style="font-size:17.7px" x="1207.4" y="16.2" text-anchor="middle">CPM</text>
<polyline class="pt m1" points="1223.7,216.5 1253.1,211.5 1212.8,221.3 1300.4,200.4 1287.7,204 1238,215.6 1267.5,209.9 1292.7,202.5 1261.8,209.5 1243.3,214.3 1214.7,218.7 1284.4,204.2 1267.2,211 1252.2,213.6 1224.4,216.3 1225.9,216.7 1206.1,220.8 1302.6,200.7 1296.1,200.8 1231.2,216 1287.6,202.9 1281.2,203.8 1241.5,213.9 1239.4,214.2 1308.9,198.4 1240.3,213.3 1216.5,218.8 1290.4,204.1 1231,218.2 1285.6,204.3 1213.9,220.1 1265.1,208.6 1294.1,201.5 1237.7,216.2 1249.4,211 1274,207.7 1252.2,210.9 1245,216.2 1313.6,196.5 1304.7,201.8 1309.1,198.5 1296.9,203.4 1301,203.2 1301,202.4 1294.9,201.4 1211.2,221.3 1265.5,212.4 1271.6,204.2 1215,218.5 1224.1,219.4 1286.1,204 1261.8,209.2 1226.2,216.8 1281.7,202.7 1151,232.4 1282,205.7 1240.3,213.9 1263.6,207 1266.4,210.3 1253.5,215.1 1253.5,209.8 1255.5,208.3 1196,222 1262.1,211.9 1270.5,206 1222.6,218.9 1262.7,210.4 1285.5,204.1 1278.8,205 1243.2,211.3 1224.8,216.1 1279.9,203.9 1263.7,206 1233,214.4 1315.4,198.1 1246.1,211.8 1226.8,220.2 1200.3,223.2 1203,221 1277.9,204.5 1260.7,208.1 1292.1,203.3 1249,211 1303.1,199.1 1258.6,210.1 1244.7,213.6 1284.9,207.9 1267.4,208.5 1283.4,203.2 1213.8,220.9 1254.4,210.6 1270.6,208.5 1266.5,207.8 1272.3,205.9 1277.3,203.4 1237.3,213.5 1278,205.8 1289.2,202.9 1270.4,210.2 1228.3,217.2 1237.1,214.2 1271.2,208.9 1268.1,206.3 1271.2,207 1306.7,201.3 1269,208.5 1237,214.6 1227.6,215.7 1249,214.8 1237.1,214 1247.8,213.6 1266.3,207.4 1309.7,198.7 1260.2,209.5 1209.9,221.1 1308.3,196.6 1234.9,214.8 1243.9,211.1 1244.5,213.7 1300,199.8 1274.5,206.3 1263.3,209.6 1300.7,199.5 1200.6,222.6 1293.6,199.8 1291.1,203.6 1275.7,206.1 1274.4,205.6 1202.1,221.2 1298.4,201.4 1290.8,200.6 1258.1,210.4 1269.9,207.6 1313.2,198.5 1294.7,199.9 1251.4,212.3 1251.2,213.6 1240.3,214.3 1228.7,217.8 1272.5,209.4 1256.2,208.9 1308.1,198 1235.2,213.6 1291.6,200.6 1302.7,201.3 1256.9,208.6 1249.8,212.3 1241.2,213.5 1256.1,211.4 1254.2,212.4 1229.6,214.5 1232.5,216.4 1215.6,217.7 1209.3,222.1 1279.8,205.5 1291.7,202.8 1297.1,202 1278.7,207.4 1275.4,205.8 1319.7,200.3 1287.5,205.3 1264.1,212.5 1210.3,218 1234.6,215.2 1202,223.4 1262.5,210.3 1245.2,208.9 1235.1,215.8 1230.8,215.2 1261.1,208.7 1267.7,208.5 1314.4,197.2 1226.6,216.8 1250.1,214.5 1306,199.4 1251,210.2 1309.5,198.4 1252.6,210.6 1269.6,207.8 1201.2,223.1 1261.5,206.8 1236.6,215.3 1225,217.4 1203.2,223.3 1313.1,198.7 1225.8,217.3 1250.3,213.3 1212.7,221.3 1204.3,221.7 1274.4,205.7 1311.3,197.9 1203.5,220.2 1244.6,214.3 1263.2,210.2 1272.3,203.9 1302.7,203 1293.1,202.7 1271.8,207.5 1305.8,201 1238.6,216.6 1298.9,200 1270,209.6 1300.9,201.4 1242.8,215.1 1244.1,211.3 1294.8,203.7 1264.7,211.9 1302.7,202.7 1298.9,199.7 1248.2,210.4 1290.8,204.9 1250.2,214 1225.1,218.6 1279.8,207 1261,207.5 1217.7,219.6 1259.6,211.7 1269.2,208.5 1255.6,211.5 1236.5,215.2 1230.5,217.6 1301.4,199.3 1254.7,209.9 1207.8,219.6 1263.5,209.1 1271.6,207 1237.2,215.2 1253.1,213.1 1229.8,217.8 1251.3,210.5 1242.4,218 1311.2,196.7 1203.6,221.4 1307.5,201.4 1202.1,223.9 1245,214.2 1196.6,222.4 1252.8,208.4 1202.8,221.6 1250.2,209.3 1298.6,200.1 1248.1,211.8 1302.3,200.3 1307.7,199.3 1280.2,205.1 1284.5,204.7 1232.3,213.5 1236,214.2 1290.1,205 1262.1,209.5 1243.6,212.2 1225.5,217.2 1274.2,204.6 1266.2,210.6 1205,221.8 1240.8,215.6 1270.3,208.9 1272.5,207 1284.3,206.6 1268.2,205.4 1229,218.4 1240.1,215.1 1249.7,209.7 1223.3,220.6 1250.7,211 1297.8,198.8 1215.2,219.7 1245.6,212.3 1312.3,196.4 1237,214.9 1251.3,211.2 1232.5,215.7 1302.4,200.2 1233,215.2 1239.5,214 1288.1,204.7 1235.8,215.9 1269.5,208.2 1224.4,220.6 1250.4,212 1276.7,207.9 1220.4,217.5 1249.2,212.3 1273.5,210.3 1269.2,207.8 1220.1,217.8 1313.4,197.5 1229.2,218.3 1244.9,211.1 1255.6,211.1 1260.3,213.5 1294.1,200.2 1266.9,211.4 1224.5,216.5 1268.4,208.9 1292.3,200.9 1247.1,212.1 1238.8,214.3 1260.3,208.4 1269.3,205.8 1233.3,215.9 1137.9,235.1 1260.1,212.3 1302.5,200.2 1287,204.5 1214.4,222.4 1288.7,201.6 1277.5,203.3 1254.3,209.2 1219.6,221.3 1243.4,214.8 1276.8,208.5 1312.7,197.3 1218.2,217.5 1292.4,203.7 1286.1,203.1 1248.3,213.4 1223.5,218.2 1273.3,208.6 1252,210.8 1245,212.3 1284.5,201.9 1258.8,211 1230.4,219.3 1264.9,210.4 1249.8,212.8 1266.6,206.3 1245.1,215 1273.5,206.6 1214.3,218.1 1246.4,213.6 1264.9,208.9 1260.7,211 1227.6,214.3 1276.8,207.7 1242.1,216.1 1278.4,208.2 1293.9,200.8 1212.1,221.9 1231,216.2 1221,217.4 1217.1,217.2 1246.5,211.5 1240.7,212.7 1275,205.5 1234.2,215.9 1198.4,222.2 1296.7,201.2 1264.9,208.2 1283.3,205.1 1157,230.2 1299.4,203.4 1263,207.5 1258.3,211.2 1228.3,217.6 1248.8,213.7 1247.7,211.2 1217.6,219.6 1216,219.7 1233.8,215.4 1248,209.4 1287,200.6 1274.7,205.5 1224.6,218.1 1246.6,213.1 1241.4,210.8 1301.1,201.8 1219.1,218.1 1242.8,213.9 1230.2,217.5 1261,208.9 1229.4,215.9 1251,210.1 1208.5,220.7 1299,198.5 1254.7,210.6 1254.3,214.6 1212.4,219.4 1223.7,216.2 1202.5,223.6 1206.2,222 1268.7,205.3 1255.5,213.6 1257.3,207.6 1311.8,197.5 1250.9,213.8 1212.1,221.2 1262,211.5 1259,208.7 1264.5,211.2 1304,198.5 1243.6,214 1270.6,209.5 1299.7,203.8 1245.5,212.9 1253.7,212.6 1292.9,199.5 1216.6,219 1211.3,219.9 1258,210.2 1294.6,202.6 1305.1,200.2 1207.3,221.8 1290,200.2 1198.6,221.1 1229.9,214.6 1233.3,213 1282.9,205.2 1242.8,215.6 1294.2,203 1228.5,215.2 1223.5,218.9 1259.8,207.6 1264.7,206.4 1234.3,216 1307,200.9 1247.9,209.3 1315.1,198 1301.5,201 1307.5,197.9 1286.8,207.3 1272.8,205.9 1257.4,208.8 1261.5,209.8 1198.1,220.7 1239.9,213.5 1282.5,202.7 1280.8,206.4 1204.9,221.5 1228.1,217.3 1293.8,203.4 1288.9,203 1261.1,206.9 1316.4,197.8 1304.9,198.3 1263.4,209.5 1279.3,204.2 1227.8,215.9 1223.5,217.9 1244.2,211.9 1215.2,222.6 1274.7,204.1 1278.8,207.5 1270.9,209.4 1279.9,205.4 1253.2,210.7 1247.2,212.7 1280.3,205.7 1277.3,202.5 1280.5,204.6 1275.9,207 1236.7,217.5 1294,205.4 1214.4,220.4 1312.6,198.2 1236.3,219.2 1283.8,204.6 1233.8,214.4 1255,210.8 1281,204.7 1250.4,215 1232.7,215.5 1233.8,213.8 1214.5,218.6 1269.4,209.6 1272.7,204.1 1253,214.6 1279,205.3 1282.7,206.1 1292.8,203.5 1265.6,211.2 1254.1,214.3 1288.5,201.8 1283.1,204.5 1279,206.7 1281.9,202 1228.3,216.9 1214.2,216.8 1241.5,211.3 1272,206 1257,211.4 1267.4,207 1237.8,213.4 1225.4,216.3 1288.9,206.1 1253.2,208.4 1244.9,215.9 1276.6,210.1 1225.1,216.1 1301.6,199 1289.1,201.6 1220.8,215.9 1300.5,201.1 1236.2,217 1290.7,203.9 1262,205.7 1293.5,202 1207.8,221.6 1272,205.2 1292.5,201.8 1230.2,216.5 1306,199.2 1276.7,206 1299.3,200 1228,216.7 1307.6,197.7 1213.3,219.4 1243.2,215.7 1230.4,216.2 1290.2,203.7 1296.4,202.2 1287.3,205.1 1296.6,202.3 1236.1,214.5 1260.8,206 1300.9,201.2 1242.8,214.6 1201.7,221.9 1298.8,203.3 1262.7,209.6 1303.5,200.1 1239,215.5 1232.7,215 1241.4,212.2 1227.7,215.5 1223.8,219.1 1219.2,218.3 1217,218.2 1289,203.2 1267.6,206.9 1225.3,218.8 1269.8,210.9 1215.6,218.9 1275.5,206.6 1223.1,218 1239.5,215.4 1257.5,206.6 1200.9,221.4 1210.6,219.4 1300.9,202.5 1282.8,203.5 1263,211.6 1266.9,205.6 1258.4,213.9 1247.8,213 1271.7,209.4 1301.9,201.5 1302.4,199.5 1292.7,201.2 1276.5,203.9 1228.3,214.6 1198.2,221.8 1291.7,201.9 1215.1,219 1220.4,217.1 1286.3,204 1309.8,197.7 1221.7,218.9 1230.5,219.2 1223.3,216 1291.3,201.2 1268.4,206.8 1284.3,204.5 1235.6,216.3 1226.2,217.6 1268.6,208.2 1221.5,218.1 1227.4,215.3 1231,216.5 1234.5,214.9 1287.2,202.7 1296.8,198.9 1296.3,200 1274,204.8 1311,197.8 1244.9,212.2 1257.8,211.6 1250.1,209.5 1278.7,209.6 1206.6,221.9 1260.4,210 1288.5,203.9 1211.8,219.7 1304.9,199.2 1307,199.6 1251,211.8 1256.2,209.1 1199.2,221.2 1241.6,213.6 1234,216.5 1216.4,221.5 1295.3,202.2 1250.6,211.5 1277.7,207.7 1299.9,202.4 1305.8,200.4 1304.4,202.2 1229.1,216.5 1202.5,223.4 1252.2,211.6 1284.8,203.1 1303,200.6 1200.4,223.2 1259.2,209.8 1252.2,210.9 1213.7,221.8 1287.7,205.4 1285.7,201.8 1281.1,204.9 1232.9,216.8 1226.5,214.4 1278.2,207.7 1286.1,204.6 1276.8,207.5 1279.2,205.5 1306.5,200.4 1230.8,214.3 1254.5,208 1219.3,219.5 1214.9,220.2 1266.2,207.1 1292.2,203.8 1229.2,217.8 1292.7,199.8 1252.6,211.9 1235.2,215.6 1222.7,214.6 1258.8,212.4 1256.2,210.8 1273.9,207.8 1257.2,206.9 1222.7,216.3 1199.9,220.8 1248.6,212.9 1293.5,205.9 1295.5,202.4 1288.4,201.8 1205.1,220.9 1248.2,209.4 1219.4,218.3 1257.8,213.2 1240.2,213.2 1272.2,207.1 1285.7,204.6 1269.1,208.1 1256.8,211.9 1203.2,221.1 1247.7,211.7 1303,201.6 1281.3,205.6 1225.4,215.6 1266.5,209 1223.3,219.4 1199.4,222.4 1220.9,220 1294.6,200.2 1248.7,211.8 1232,215.7 1303,200.5 1279,206.1 1294.7,203.5 1267.4,209.7 1306.2,199.2 1263,210.5 1261.2,210.7 1295.8,199.5 1284.9,204.2 1297.8,202.5 1294.5,203.4 1269.7,207.5 1238.9,211.4 1279.5,205.5 1296.9,200.5 1283,202.5 1259.6,210.1 1289.6,205.4 1148,232 1301.9,200.9 1227.5,220.5 1249.2,212.1 1260.6,212.6 1274.7,205.9 1296.7,201.9 1303.8,200.7 1281.1,205.3 1235.3,213.9 1296.5,202.4 1244,216.1 1306.2,199.4 1246.3,215.3 1233.4,217.5 1289.5,203.4 1239.4,215.1 1174,226.5 1276.8,204.3 1268,205.2 1292.4,200.8 1255.1,212.4 1285.8,201.1 1253,208.8 1153.5,230.6 1279.3,207.8 1233.8,215.2 1292.9,204.4 1297.7,198.1 1247.6,214.6 1226.3,215.3 1270,205.6 1248.5,213.4 1251.7,213.1 1299,199.3 1309.7,200 1259,210.4 1216.5,217.4 1277.1,204.2 1253.3,208.7 1316.6,198.9 1243.1,213.3 1296.3,202.2 1213.3,220.8 1281.1,203.9 1251.3,210.4 1293,203.1 1231.1,217.2 1199.6,221.7 1265.9,209.8 1277.7,207.5 1288.6,204.1 1234.1,215.8 1311.7,199.1 1293.2,202.6 1273.2,207.1 1219.1,217.4 1312.7,197.5 1232.7,215.9 1260.1,208.6 1236.6,214.8 1295.3,202.3 1284.6,203 1268.8,206.7 1307.6,198.1 1248,214.2 1246.5,212.7 1307.8,197.8 1283.5,206.3 1289.5,203.4 1281.6,202.2 1235.2,216.2 1275.2,205.9 1257.4,211.9 1255.5,213.2 1291.4,202.4 1233.9,218 1241.1,213.7 1259,209.3 1207,223.4 1172,227.2 1190,223 1241.7,210.1 1265.8,207.7 1301.2,199.1 1225.7,217.2 1246.1,214.5 1223.7,216.7 1249,210.4 1247.3,212.4 1281.4,204.2 1289.3,204.2 1268.7,207.2 1252.4,213.9 1260.8,210.4 1276.7,207 1266.5,210.6 1273.2,206.8 1274.2,205.6 1261.1,209.9 1249.5,209.2 1288.6,201.2 1260.2,211.5 1224.5,218.2 1211.2,217.9 1293.3,200 1234.1,218.1 1208.3,221.2 1197.2,223.7 1272,205.5 1280.1,207 1208,220.7 1248.2,215.2 1302.4,199.3 1259.2,210.1 1217.8,219.5 1262.3,206 1307.4,197.8 1267.4,206.6 1314.6,197.9 1265.8,206.9 1207.7,222.7 1275.9,204.7 1245,212.7 1265.1,206.2 1263.7,210.7 1267.3,209.6 1253,208.9 1237.5,215.1 1248.2,212.7 1238.8,210.8 1276.5,204.6 1304.5,202.6 1230.8,217.4 1304,200.7 1299.2,201.7 1258.6,210.4 1278.8,205.4 1297.2,204.5 1265.3,209.5 1237.3,216.4 1291.6,204.6 1274.1,204.8 1227.5,217.2 1279.4,202.1 1234,214.7 1256.1,209.7 1242.4,214.2 1292.7,201.4 1250.7,212.4 1296.9,202.5 1294.3,203.3 1285.5,206.8 1243,214.8 1263.1,210.9 1221.7,218.8 1277.7,206.6 1224.3,217.3 1311.6,199.4 1176.7,225.8 1235.4,216.5 1274.9,205.7 1250.6,214.1 1210.8,219.5 1211.4,219.6 1282.9,205.1 1274.3,205.6 1270.7,204.5 1239.4,215.1 1301.7,201.6 1223.5,214.9 1284.6,204.6 1244.3,212.5 1184,226.5 1308.9,198.2 1210.9,222.1 1235,213.2 1288.9,203.5 1236.8,214.7 1304.3,198.7 1245.6,213.4 1232.8,214.7 1271.3,205.1 1265.6,210.6 1275.2,205.1 1306.9,199.3 1287,204.7 1249.8,213.7 1306.3,200.6 1232.5,214.5 1289.7,203.4 1300.2,200.3 1218.8,221.4 1297.3,200.8 1260.6,209.8 1248.4,211.5 1193,222.5 1295.9,203.5 1234.7,217.1 1210,220.4 1263.6,208.4 1260.6,210.8 1238.3,211.2 1308.6,197.1 1218,221 1256.9,210.8 1272.1,206.7 1285.8,203.8 1248.7,213.9 1274.4,209.2 1243.1,217.8 1279.3,208.4 1263.2,207.9 1308.3,197.6 1202,222 1233.5,217 1212.5,220.9 1287,204.5 1298.1,202.2 1290.1,200.4 1313.6,195.9 1271.9,205.9 1260.9,210.3 1274.2,203.8 1272.8,206.5 1270.6,204.3 1230.5,218 1272.5,206.3 1244,211.6 1246.6,211.3 1309.8,197.6 1240.8,215.1 1240.2,212.3 1264.8,205.9 1246.4,213 1227.3,216 1248.4,213.5 1296.5,199.9 1261.2,209.5 1219.8,215.9 1314.1,199 1260.4,208.2 1234.5,215.3 1278.2,206.5 1308.3,196.9 1289.4,203.3 1308.5,197.8 1270.6,208.6 1240.2,211.9 1253.1,213.4 1297.5,201.6 1240.4,216 1262.2,210 1264.7,208.8 1242.8,212.8 1286.9,205.1 1252.2,210.3 1270.1,206.7 1261.6,208.2 1234.5,215 1313.3,196 1239.5,212.7 1267,207.8 1268.9,207.1 1228.9,217.3 1205.7,222.3 1240.9,215 1260.9,206.4 1250.4,212.4 1237.7,215.4 1187,223.5 1203.3,222.3 1242.5,211.2 1129.7,236.7 1243.7,209.8 1220.5,217.2 1299.9,200.8 1285.3,203.1 1277,204.8 1261.7,210.7 1205,220 1226.8,219.9 1261.8,208.2 1240.2,214.8 1305.1,200.3 1279.2,206.4 1224.9,215.2 1267.4,204.4 1287.4,204 1227.1,219.3 1237.4,214.4 1291.6,200 1249.6,210.9 1249,210.9 1243.2,215.3 1279.5,207.3 1253.6,210.5 1245.3,211.8 1282.2,202.9 1267.4,207.3 1293.1,202.7 1243.4,211.9 1211.5,222.4 1259.4,208.6 1232.2,214.6 1307.3,197.7 1269.7,206.6 1255.2,212.3 1270.7,210.3 1272.8,209.7 1271.5,208.5 1247.6,212.6 1205.1,221.1 1202.6,223.7 1283.1,204.4 1292.6,202.9 1229,217.4 1289.4,206.4 1298.2,204.3 1285.8,206.3 1265.7,209.1 1242.3,213 1234.2,215.1 1233.3,218.6 1257.9,212.4 1198.6,222.8 1259.9,209.3 1308.6,196 1247.2,212.9 1276.2,206.7 1243,212.9 1267.5,208.7 1279,208.6 1211.1,218.5 1250.3,214.3 1254,212 1254.1,212.4 1296.4,200.3 1308.3,198.2 1308.8,197.1 1297,201 1277.6,206 1214.4,216.8 1282.8,206.6 1242.7,210.6 1295.1,200.4 1266.2,211.4 1222.2,216.6 1298.9,200.4 1216,218.2 1224.4,217.7 1265,207.9 1234,215.3 1223.1,219.7 1248.4,212.8 1302.9,200.2 1266.7,210.8 1309,197.8 1202.7,221.8 1281.1,206.8 1254.5,211.3 1198.3,222 1245.9,211.3 1213.3,219.1 1239,214.8 1299.4,201 1291.6,204.3 1288,203.2 1251.3,210.6 1251.8,212.5 1262.5,209.1 1284.4,204.9 1294.6,201.2 1242.7,214.3 1268.9,205.1 1261.4,211 1220,215.9 1267.1,209.2 1246.1,209.2 1292.1,199.4 1203.7,220.9 1236.7,211.7 1226.1,217.3 1277.8,205.9 1299.2,201.1 1261.5,208.8 1209.8,220 1293.7,201.3 1256.3,212.2 1236.1,216.8 1299.4,202.3 1247.8,210.3 1203.9,221.8 1293.1,203.5 1267.3,208.3 1289.4,204.2 1284.3,203 1265.9,209.8 1251.7,214.7 1262.7,206.9 1279.8,204.5 1298.4,203.3 1263,212.7 1270.5,208.3 1274.6,208.2 1220.8,220.6 1222.3,218.1 1285.6,205.3 1279.5,202.1 1253.1,210.9 1236.7,213.2 1209.3,220.2 1296.7,203.2 1286.9,201.6 1245,210.7 1199.8,223.6 1204.3,222.8 1254,210.3 1270.1,205.2 1220.4,220 1258.6,210.3 1235.7,215.3 1206.3,220.9 1287.6,205.6 1294,203 1264.6,208.3 1278.8,206.5 1259.6,208.2 1259,206.7 1256.8,213 1226.5,217.8 1292,202.8 1259.4,213.4 1235.5,218 1291.4,204.6 1208,218.1 1220,217.3 1287.8,202.7 1293.6,201.6 1303.6,200.2 1252.4,211.2 1256.8,212.8 1242.4,213.9 1157.6,232 1210.4,218.8 1235.7,214 1289.8,203.5 1257.3,210.7 1255.6,210.6 1244.1,213.6 1207.4,220.2 1290.8,203 1230,215 1226.7,218.3 1262,209.8 1295,200.9 1242,215.9 1273.5,207.8 1230.3,217.7 1291,202.5 1295.1,201.4 1212.2,220.3 1239,214.6 1304.3,200.7 1264.8,206.8 1231.3,217.3 1216,218.1 1265.3,210.8 1301.5,203.3 1204.1,221.7 1304.9,202.1 1243.9,211.4 1257.8,210.5 1266.6,206.9 1280.9,205.6 1229.7,216.5 1253.5,210 1228.9,217.7 1270.8,208.4 1262.7,208.4 1264.8,207.7 1241.6,214.2 1247.4,212.8 1297.3,203.1 1232.8,215.3 1282.4,204.7 1306.2,199.3 1282.4,204.8 1198.5,221.6 1206.8,222.7 1299.3,199.3 1250.4,213.6 1208.3,221.8 1304.7,198 1286.4,203 1262.8,209.6 1239.1,218.5 1307.2,198.5 1271.1,206.2 1289.9,199.9 1215.5,219.6 1231.2,219.1 1294.9,198.7 1268.8,210.4 1242.2,212.4 1200.5,223.2 1237.2,216.9 1262.8,210.9 1220.9,221.7 1275.4,204.8 1202.4,220.6 1289,204.3 1245.1,211.7 1262.5,206.1 1230.2,218 1308.7,199.3 1265,209.8 1277.9,205.7 1235.3,212.7 1224.4,216.6 1269.5,208.3 1292.2,200.9 1294.6,201.3 1251,212.8 1295.4,198.7 1222.9,218.9 1255.8,210.3 1278.7,203.7 1201.7,222 1312.4,196.8 1294.4,202.2 1223.7,217.1 1295.9,202.4 1265.4,209.4 1261.1,208.2 1306.7,196.6 1311.9,198.7 1241.4,213.6 1249.8,209.8 1239.2,211.5 1306.7,200.2 1299.8,198.6 1291.1,201.6 1226.3,218 1309.7,200 1233.1,212.3 1266.4,205.8 1244.6,212.3 1262.5,211.1 1265.8,206.2 1306.3,198.9 1278,207.5 1234.6,214.5 1266.6,211 1290,204.1 1266.8,206.3 1250.5,211.7 1265.8,207.7 1300.2,200.7 1282.2,203.4 1245.9,211.8 1271.7,205 1234.5,216.4 1212,219.2 1230.9,212.9 1230.4,216.6 1254.8,210 1218.9,218.3 1278.3,203.3 1232.5,216.2 1289.1,204.1 1250.9,213.5 1236.8,214.3 1217.5,218.4 1305.5,198.8 1283.1,203.8 1293.2,202.2 1249.9,209.8 1265,207 1304.8,200.5 1246.3,215 1283.4,204.5 1253.9,211.1 1294.6,203.4 1279.1,207.5 1293.4,203.7 1232.6,214.5 1287.1,206.2 1212.9,218.6 1248.9,211.9 1287.6,202.6 1231.8,213.9 1259.5,212.1 1227.7,217.7 1273.4,203.4 1272.5,208.2 1240,214.6 1252.5,213.8 1272.5,205.4 1260.4,210.3 1268.9,206.9 1283.9,205.6 1306.6,199.2 1251.1,216 1258.6,209.1 1252.6,210.2 1238.4,213.6 1291.9,201.4 1260.1,212 1228.3,217.5 1199.8,223.2 1248.2,214.7 1279.5,207.5 1242.2,215.7 1297.9,201.4 1234.4,216.4 1220.4,217.8 1223,218.7 1273.1,204.5 1240.8,212.1 1210,220.1 1257.2,208.5 1237.9,213.4 1263,208 1308,198.7 1199.6,222.9 1285.1,204.1 1277.2,204.8 1312,197 1297.9,199.6 1251.5,209.9 1292.7,201.3 1274.5,207.3 1247.2,213.8 1262.8,209.3 1290.9,201.6 1294.8,201.3 1289.6,202.9 1291.6,204.6 1283.8,201.6 1226.3,216.9 1239.9,213.2 1231.5,216.3 1220.2,217 1241.3,213.9 1206.2,221.3 1276.8,207.1 1287.7,204.7 1223.8,216.6 1302.8,202.7 1289.8,202.3 1240.6,211.9 1240.3,214.2 1290.3,203.9 1270.6,205 1263.1,212.2 1298.1,198.6 1276.2,202.9 1297.3,201.7 1291.6,204.3 1204.3,223 1285.2,202.3 1237.4,214.4 1233.7,217.2 1295.8,204.4 1236,211.8 1258,212.6 1259.9,211.2 1216,218.2 1266.6,208.9 1288.9,204.4 1197.7,223.7 1286.9,203.3 1213.6,217.5 1239.8,212.3 1294.5,202.8 1266.1,208.9 1226.8,216.3 1249.8,212.8 1270.4,207 1281.2,206.3 1238.8,211.5 1313.4,197.1 1211.4,221.6 1224.9,219.3 1262.9,210.8 1260.8,209.9 1238.4,212.9 1237.9,214.3 1299.7,200.2 1291.1,203.1 1255.7,207.2 1270.6,208.9 1309,201.4 1306.2,200.3 1285.4,202.5 1249.1,211.5 1313.8,196.9 1236.5,215.7 1255.1,208.7 1244.7,213.7 1293.1,202.7 1247,210.3 1279.9,206.8 1261,210.1 1252.6,210.5 1233,216 1310.6,197.1 1309.6,198.8 1285.3,205.8 1292.4,200 1300,199.1 1218,220.7 1246.3,212.1 1232.6,215.5 1227.7,213.9 1217.4,216.5 1260.6,209.7 1251.1,209.5 1295,200.1 1274.4,207.3 1273.4,205 1221.7,219.4 1227.2,217.3 1277.8,208.4 1282.1,204.4 1286.3,200.4 1300,201.7 1249.6,214.6 1250.7,215.4 1270.6,207.9 1293.3,203.2 1270.2,209.4 1248.5,215.3 1270.4,206 1214.9,218.5 1262.7,208.9 1239.2,213.6 1210.7,222.4 1236.8,214.3 1238.1,212.1 1221.3,218.2 1283.4,205.9 1294.8,200.9 1307,198.5 1241.2,214.5 1284.5,207.9 1296.6,204.4 1312.1,196.2 1310.4,198.1 1254,208.9 1217.6,221.1 1227.3,217.5 1303.3,199.9 1277.4,206.1 1289.1,205.6 1242.7,217.2 1281.2,207 1228.6,215.2 1273.9,207.5 1272,207.8 1217.8,218.7 1280.9,203.7 1242.7,213.3 1302.4,202.4 1249.9,212.5 1264.6,209.5 1239,217.6 1306.8,197.8 1264.6,210.6 1283.6,202.5 1278,206.3 1274.7,205.4 1279.9,204.6 1249.3,210.9 1299.5,202.5 1273.4,206.7 1312.3,196.8 1292.2,203.1 1291.8,203.3 1229.6,215.9 1257.1,208.2 1275.4,207.6 1295.2,200.9 1276.1,205 1264.5,209.3 1269.1,206 1303,201.7 1243.9,212.8 1201.4,221.5 1207.3,220.5 1234.6,217.7 1283.1,202.6 1256.1,208.5 1241.3,214.7 1216.7,221.4 1233.8,213.8 1294.1,202.7 1316.6,199.2 1235.3,215.9 1263.4,211.9 1254.4,209.5 1218,219.1 1301.8,197.9 1211.6,221.6 1222.5,220.9 1228.4,215.8 1274.3,209.1 1282.6,208.5 1209.8,219.6 1307.8,198.8 1181.4,229.3 1220.1,218.2 1270.2,205.3 1284.3,202.7 1280.6,201.4 1255.3,210.8 1293.6,202.1 1290.9,202.2 1243,214.7 1284.7,205.2 1297.6,200.8 1273.1,205.5 1302.8,201 1296.5,198.4 1244.6,210.2 1237.2,215.7 1264.5,210.3 1200,223 1231.5,217.8 1306.7,199.7 1232.3,215.4 1219.3,219.2 1274.1,209.2 1252.4,212.5 1243.9,215.1 1238.8,212.9 1295.7,201.9 1277.3,203.4 1264,206.5 1267.9,209.2"/>
<path class="dz" d="M1090.6 197.75H1329.4"/>
<path class="rl" d="M1090.6 245.30L1329.4 194.90"/>
<rect class="bx" x="1090.6" y="27.0" width="238.8" height="343.2"/>
<path class="tk" d="M1123.2 370.2v8.8M1172.5 370.2v8.8M1221.9 370.2v8.8M1271.2 370.2v8.8M1320.6 370.2v8.8M1090.6 356.86h-10M1090.6 303.89h-10M1090.6 250.92h-10M1090.6 197.95h-10M1090.6 144.98h-10M1090.6 92.01h-10M1090.6 39.04h-10"/>
<text class="ax" transform="translate(1122.7 403) scale(0.92 1)" text-anchor="middle">-2</text>
<text class="ax" transform="translate(1172.0 403) scale(0.92 1)" text-anchor="middle">-1</text>
<text class="ax" transform="translate(1221.4 403) scale(0.92 1)" text-anchor="middle">0</text>
<text class="ax" transform="translate(1270.8 403) scale(0.92 1)" text-anchor="middle">1</text>
<text class="ax" transform="translate(1320.1 403) scale(0.92 1)" text-anchor="middle">2</text>
<text class="ax" transform="translate(1069.8 357.26) rotate(-90) scale(0.92 1)" text-anchor="middle">-3</text>
<text class="ax" transform="translate(1069.8 304.29) rotate(-90) scale(0.92 1)" text-anchor="middle">-2</text>
<text class="ax" transform="translate(1069.8 251.32) rotate(-90) scale(0.92 1)" text-anchor="middle">-1</text>
<text class="ax" transform="translate(1069.8 198.35) rotate(-90) scale(0.92 1)" text-anchor="middle">0</text>
<text class="ax" transform="translate(1069.8 145.38) rotate(-90) scale(0.92 1)" text-anchor="middle">1</text>
<text class="ax" transform="translate(1069.8 92.41) rotate(-90) scale(0.92 1)" text-anchor="middle">2</text>
<text class="ax" transform="translate(1069.8 39.44) rotate(-90) scale(0.92 1)" text-anchor="middle">3</text>
<text class="ax" transform="translate(1199.1 435.8) scale(0.92 1)">Z</text><text class="sb" transform="translate(1207.6 439) scale(.95 1)">RH</text>
<text class="ax" transform="translate(1029.9 197.9) rotate(-90) scale(0.92 1)" text-anchor="middle">CPM effect (km)</text>
<text class="tg" x="1102.0" y="57.0">BR</text>
<text class="tg" x="1308.4" y="354.3" text-anchor="end">Model</text>
</g>
<g>
<text class="lt" x="1355.6" y="27.9">(c)</text>
<text class="tt" x="1546.8" y="14.2" text-anchor="middle">PM<tspan font-size="12.3" dy="3.5">2.5</tspan></text>
<polyline class="pt m2" points="1626.4,182.3 1619.2,196.1 1595.4,198.2 1580.8,211.3 1594.9,198.2 1632.7,193.6 1592.3,208 1582.1,221.5 1608.4,202.3 1613.5,200.7 1602.8,197.9 1596.8,200.5 1588,204 1602.1,194.7 1620.1,194.1 1606.6,201.9 1596.1,203.6 1581,209.2 1577.4,209.4 1622.6,192.5 1588.7,190.2 1628.8,182.5 1610.4,184.7 1615.2,188.4 1603.3,200.3 1602.6,191.5 1592.6,196.6 1588.1,202.3 1583.8,209.5 1593.8,199.8 1628.4,190.6 1564.8,197.8 1598.9,185.7 1594.1,193 1595.1,203.7 1553.9,207.8 1604.7,197.3 1588.9,208.6 1568.8,215.5 1577.5,199.3 1596.4,200.7 1593.5,195.8 1608.5,203.2 1604.6,202.5 1590.1,200.3 1598.6,219.9 1599.8,204 1595.1,198.6 1604.1,203.1 1616.3,194 1591.8,196.2 1581.8,206.6 1593.6,191.5 1585.4,198.2 1611.1,193.7 1587.5,203.4 1632.7,190.7 1604,204.7 1579.7,201.3 1597.1,199.5 1623,187.8 1605,191.6 1593.2,213.1 1590.7,204.1 1594.6,206.4 1610,184.4 1604.3,206.8 1465.1,225 1617.3,191.9 1566.8,202 1607,200.4 1563,205.8 1622.7,185.5 1623.3,197 1588.2,209.9 1583.2,201.8 1619.7,192 1608.8,199.3 1586.9,197.4 1522.7,209.1 1546.6,216.4 1598,203.8 1576.6,191.6 1567.8,212.9 1598.5,188.7 1615.9,200.5 1617.3,205.1 1618.9,189.7 1617,192 1581.5,204.3 1585.5,202 1592.4,209.9 1604.1,186.8 1589.4,198 1611.1,186.2 1590.8,203.4 1575.7,202.6 1605.9,193.9 1598.2,191.6 1598.6,195.7 1600,204.1 1544.1,223.8 1595,195.9 1576.9,203.6 1537.4,214.7 1570.9,199.2 1605.3,197.5 1605.5,189.7 1603.8,191.4 1578.7,217.5 1579.3,196.7 1613.4,186.7 1619.1,185.9 1584.4,204.5 1601.9,189.5 1600.3,203.6 1604.2,183.3 1562.5,208.3 1604.1,194.2 1575.6,201.8 1622.6,191.4 1583,206.7 1628.4,173.6 1605,196.6 1601.5,186.3 1595.4,201.4 1626.1,180.3 1575.4,205 1586.8,196.2 1620.5,187.2 1571.5,213.1 1576.6,205.5 1596,216.7 1624.4,182.5 1584.1,192.5 1569.5,171.5 1600.7,193.4 1526.2,207.8 1584.1,204.8 1609.8,199.2 1577,222.9 1590.4,209.3 1584.6,211.1 1596.6,207.6 1604.7,198.9 1618.9,186.9 1560.1,204.1 1594,202.4 1582.1,207.4 1574.6,193.7 1590.1,199.1 1611.1,188.8 1578.1,204.5 1577.3,205.7 1618.5,189.7 1579.8,202.4 1593.4,211.7 1598.4,207 1590,200.6 1616.4,189.6 1593.8,200.2 1509.4,228.5 1613.9,181 1596.3,193 1617.5,196.8 1634.8,188.3 1596.8,207.7 1595.9,199.1 1579.6,209.3 1609.9,186.8 1604.4,183.6 1587.5,198.5 1609.7,192.7 1605.8,193.6 1618.8,194.5 1565.6,204.8 1580.8,203.1 1618,192.7 1580,216.2 1622.2,183.4 1598.4,198 1586.1,196.5 1615.2,181.9 1582.5,208.3 1610.8,203.5 1599.9,201.3 1601.4,201.8 1576.7,212.6 1612.2,194.4 1560.5,223.1 1585.1,202.7 1510.4,216.1 1607,196.7 1576.2,206 1568.1,197.9 1583.3,215 1546.1,232.2 1595,200.4 1610.8,195 1625.5,191.4 1614.2,189.7 1606.8,185 1585.7,205.4 1606.2,202.4 1617,188.5 1555.1,217 1593.4,195.7 1572.3,206.9 1579.9,205.8 1594.2,206.7 1589,200.7 1575.9,217.5 1583.9,209.5 1561.9,203.6 1590.3,204.3 1602.4,202.7 1610.4,198.9 1602.8,205.2 1578.7,209.5 1608.6,214.9 1592.3,196.7 1633.1,191.8 1584.1,208 1605.2,204.2 1587.3,214.9 1588.8,206.2 1572.8,216.4 1588.1,202.5 1626.1,184.3 1569.5,223.5 1603.2,188.1 1597.1,200.3 1626.4,187.2 1577.9,209.6 1608.2,198.3 1577.5,203.7 1551.8,210.2 1568.8,206.9 1631.4,194.2 1594.6,196.9 1591.2,201.2 1594.7,199.7 1608.2,197.1 1591.7,190.8 1623.9,191.1 1568.1,205.7 1588.6,207.2 1586.9,212 1633.3,186.9 1584.8,200.4 1555.8,211.4 1609.7,193.5 1602.9,188.5 1614.3,206.9 1612.3,192.8 1583,218.3 1593.1,199.1 1578.5,205.4 1584.7,207.6 1625.4,185.7 1635.9,192.2 1594.5,198.2 1622,192 1590.9,191.1 1626.6,184.7 1560.5,218 1595.1,198.3 1603.1,196.5 1611.1,197.8 1590.6,210.5 1593.2,201.1 1581.6,198.1 1591.1,204.2 1614.9,187.4 1604,193.8 1584.6,215.7 1618.3,200.3 1595.1,218.6 1593.6,205.1 1613.3,190.3 1600.1,204.1 1597.9,199.8 1615.9,200.2 1575.8,208.3 1581,204.3 1557.9,214.8 1599,203.5 1558.9,209.1 1625.5,192 1529.3,212.6 1600.4,193.5 1615,199.2 1620.5,181.8 1583.8,197.9 1606.1,211.9 1595.7,197.1 1582.4,197.4 1567.6,219.7 1626.3,190.8 1565.9,226.2 1587.2,207.5 1580.4,213.3 1588.9,203.6 1623.7,186.9 1603.7,197 1588.5,196.8 1586.5,202.6 1594.3,192.1 1615.1,184.6 1621.3,185.6 1591.5,207.1 1601.4,187.4 1631.8,185.8 1596.7,202.1 1606.3,191.9 1592.3,196.8 1604.4,192.8 1595,208.6 1587,203.4 1499.9,210.8 1600.2,197.9 1616.5,193 1595.7,194.8 1619.2,188.3 1580.3,208.5 1632.2,185.9 1595.8,201.9 1595.9,199.8 1596.8,202 1569.5,195.5 1613.7,184.2 1604.4,211.1 1578.9,213.2 1558.3,223.7 1581.1,201.1 1582.3,199.1 1612.5,200.3 1604.3,193.6 1611.8,186.7 1594.2,188.7 1622.3,191.9 1601.4,201.5 1603.6,200.1 1594,204.4 1614.9,191.1 1628.6,185.8 1595.6,194.4 1587.8,206.9 1594.1,197 1545.1,230.2 1607.4,202.6 1586.2,203.9 1622.8,189.1 1632.5,178.5 1583.3,197.1 1600.1,205.1 1615.7,183.7 1588,208.7 1596,192.5 1612.1,193.7 1590.8,199.7 1603.2,197.4 1561.2,207.2 1590,218.2 1614.7,199.3 1577.9,208 1549.2,213.1 1598.1,201.1 1599.9,197.8 1538.5,222 1599.1,206.7 1605.5,198.1 1598.9,207.4 1634.4,191.1 1589.2,207.8 1563.4,227.7 1628.7,187.4 1568.5,214.6 1621.1,187.9 1611.1,196.2 1579.2,210.1 1577.6,209.7 1580.7,200.6 1574.7,225.3 1605.1,194.2 1588.1,206.2 1573.7,218.2 1524.2,210.8 1576.4,212.6 1579.3,210.5 1575.5,200.4 1620.9,186.9 1614.5,185.9 1590.4,193 1577.9,199 1632.2,189.1 1582.3,221.3 1563.9,212.9 1614,192.8 1613,203.9 1598.2,204.8 1611.4,185.7 1589.5,193.9 1582.4,197.6 1572.5,208.3 1580.8,206.5 1611.3,191 1591.7,199.7 1590.2,213.8 1614.4,194.5 1610.1,194.1 1605,202.3 1545.1,206.7 1608.1,203.3 1555.8,218.3 1607.9,204 1594.9,205.5 1579.4,201 1620.3,188.4 1572.5,213 1580,206.3 1592.5,190.2 1610.9,196.1 1592.6,196 1499.9,231.4 1616.7,195.1 1586.7,201.5 1604.8,198.3 1590,209.7 1586.8,201.1 1600.6,201.4 1587.7,196.2 1609.1,194.5 1588,201.8"/>
<path class="dz" d="M1429.0 197.75H1667.7"/>
<path class="rl" d="M1429.0 236.50L1667.7 182.40"/>
<rect class="bx" x="1429.0" y="27.0" width="238.7" height="343.2"/>
<path class="tk" d="M1437.5 370.2v8.8M1469.2 370.2v8.8M1500.9 370.2v8.8M1532.6 370.2v8.8M1564.3 370.2v8.8M1596.0 370.2v8.8M1627.8 370.2v8.8M1659.5 370.2v8.8M1429.0 356.86h-10M1429.0 303.89h-10M1429.0 250.92h-10M1429.0 197.95h-10M1429.0 144.98h-10M1429.0 92.01h-10M1429.0 39.04h-10"/>
<text class="ax" transform="translate(1437.0 403) scale(0.92 1)" text-anchor="middle">0.6</text>
<text class="ax" transform="translate(1500.4 403) scale(0.92 1)" text-anchor="middle">1.0</text>
<text class="ax" transform="translate(1563.8 403) scale(0.92 1)" text-anchor="middle">1.4</text>
<text class="ax" transform="translate(1627.3 403) scale(0.92 1)" text-anchor="middle">1.8</text>
<text class="ax" transform="translate(1408.2 357.26) rotate(-90) scale(0.92 1)" text-anchor="middle">-3</text>
<text class="ax" transform="translate(1408.2 304.29) rotate(-90) scale(0.92 1)" text-anchor="middle">-2</text>
<text class="ax" transform="translate(1408.2 251.32) rotate(-90) scale(0.92 1)" text-anchor="middle">-1</text>
<text class="ax" transform="translate(1408.2 198.35) rotate(-90) scale(0.92 1)" text-anchor="middle">0</text>
<text class="ax" transform="translate(1408.2 145.38) rotate(-90) scale(0.92 1)" text-anchor="middle">1</text>
<text class="ax" transform="translate(1408.2 92.41) rotate(-90) scale(0.92 1)" text-anchor="middle">2</text>
<text class="ax" transform="translate(1408.2 39.44) rotate(-90) scale(0.92 1)" text-anchor="middle">3</text>
<text class="ax" transform="translate(1537.4 435.8) scale(0.92 1)">Z</text><text class="sb" transform="translate(1545.9 439) scale(.95 1)">RH</text>
<text class="ax" transform="translate(1369.1 198.4) rotate(-90) scale(0.92 1)" text-anchor="middle">PM<tspan font-size="11.2" dy="3">2.5</tspan><tspan dy="-3"> effect (km)</tspan></text>
<text class="tg" x="1440.8" y="57.0">FG</text>
<text class="tg" x="1644.8" y="354.5" text-anchor="end">Model</text>
<path d="M1611.2 122.5V154M1599.5 135.4L1611.2 155.1L1622.9 135.4" fill="none" stroke="#e60012" stroke-width="2.5" stroke-linejoin="miter"/>
</g>
<g>
<text class="tt" style="font-size:17.7px" x="1884.5" y="16.2" text-anchor="middle">CPM</text>
<polyline class="pt m2" points="1912.2,206.9 1935.6,204.7 1923.7,205.1 1890.2,208.1 1942.9,204.3 1918.9,207.1 1906.5,208 1915.1,206.8 1921.1,206.6 1933.3,205.5 1923.7,206.9 1955.5,204.2 1903.5,207 1904.3,207.2 1956.2,203.6 1803.5,214.4 1960.2,202.7 1905.3,207.7 1892.2,207.8 1970.7,203.3 1898.8,208.3 1951.7,204.6 1946.8,204.1 1947.3,206.6 1965.3,204.1 1929,206.8 1935.5,205.6 1888.9,209.7 1922.3,206.6 1964.8,204.6 1867.5,209.5 1932.4,205.4 1926.6,207.2 1933.2,207.3 1948,203.4 1887.9,208.7 1919.6,206.1 1956.4,202.5 1899.5,207.3 1956.5,204.2 1899.4,207.1 1910.2,207.2 1939.6,204.8 1925.6,206.1 1956,203.3 1911.6,206.8 1946.2,205.3 1931.9,205.4 1928.6,205.3 1957.1,204 1920,206.9 1916.9,206 1960.1,202.5 1957.6,204.8 1947.5,204.8 1966.5,203.2 1912.2,205.8 1890.1,208.8 1929.9,206.2 1971.1,202.8 1968.5,204.6 1901.4,208.5 1906.4,208 1900.7,206.6 1964.4,203.2 1937.1,205.8 1922.6,206 1930.4,206.6 1925.7,204.5 1899.5,207.5 1949,205.5 1924.7,205.5 1917.6,206 1906.2,207.5 1920.7,205.7 1876,208.6 1943.6,205.7 1937.1,206.4 1914,207.3 1932.1,205.6 1931.8,205.2 1898.5,208.2 1930.3,206.1 1906.2,207.1 1920.6,206.7 1896.7,207.2 1915.1,206.3 1911.4,207.6 1960.1,204.5 1921.5,206 1969.2,204.3 1924,205.3 1909.8,208.4 1926.9,205.5 1898.8,208.8 1917.1,206.4 1949.4,205.6 1910.8,205.3 1902.9,207.9 1940.4,203.9 1915.6,206.4 1904.5,207.4 1894.2,207.9 1895.7,209.9 1968.9,202.3 1928.4,206.8 1882.5,208.6 1923.9,205.8 1933.5,203.7 1926.4,205.9 1907.8,214 1961.9,202.9 1885,210.4 1918.8,205.3 1908.4,205.4 1941.7,205.2 1908,205.3 1886.6,208.3 1962.5,203.8 1897.8,208 1931.7,204.1 1916,208.2 1940.4,205.4 1936.4,205 1891.8,208.1 1908.5,207 1940.6,204.4 1967.7,202 1967.6,203.9 1914.6,205.4 1955.7,202.8 1964.8,204.5 1883.7,210.1 1946.9,205.7 1954,205.1 1926.7,205.6 1954,204.3 1971.5,204 1940.8,203.6 1945.4,204.2 1919.4,207.7 1947.5,204.2 1932.6,205.8 1935.9,203.7 1913.8,205.7 1959.9,203.3 1931.1,205.1 1925.2,205.4 1883.7,208.9 1941.1,205.7 1911.4,207.9 1886.9,209.6 1903,209.1 1925.1,204.1 1924.8,205.4 1920.1,205 1939.4,204.6 1936.6,205 1919.2,204.5 1928.6,205 1951.3,205.6 1918.6,206.8 1895,208.3 1939.9,205.6 1895.8,209.2 1960.9,202.3 1863,210.5 1924.8,206.9 1926.7,205.5 1941.5,205.3 1944.5,206 1909.4,207.7 1966.8,204.1 1899.4,207.6 1970.1,204.1 1889.7,209.6 1882.3,209.6 1906.4,206.7 1947.5,204.1 1888.1,208.6 1924.7,205.9 1889.9,209.1 1925.3,203.7 1907.8,207 1916.9,207.4 1938.2,204.7 1888.6,209.7 1922.6,205.8 1963.6,203.7 1952.1,204.5 1944.7,205.9 1901.1,207.8 1958.6,204 1914.4,206.4 1947.1,204.7 1967.1,204.8 1916.9,206.2 1918.1,207.1 1946.9,204.3 1956.9,203.5 1962.6,204.7 1905.3,207 1900.7,209 1944.8,204.8 1883.3,209.4 1891.3,209.6 1912.3,208.2 1838.2,211.4 1926.6,203.9 1937.7,204.8 1890.6,207.9 1897.7,206.9 1941,204.8 1908.1,206.6 1958.2,202.2 1924.1,206.2 1935.5,204.9 1915.7,206.5 1929.4,205.5 1910.4,207.4 1951.2,203.2 1936.2,205.9 1953.8,204.9 1960.6,204.5 1944,204.8 1919.3,207.9 1963.2,204.7 1915.2,205.8 1935,205.7 1900,208.3 1909.7,206.7 1910.8,206.9 1929.8,206.2 1885.4,209.4 1909,208.5 1930.9,203.8 1838.2,213.2 1961.5,204.3 1909,207.2 1953.1,204.5 1962.2,204.3 1905.5,206.8 1944.7,205.1 1916.7,206.8 1901.8,206.8 1958.9,203.7 1910.8,208.1 1891.3,209 1946.1,203.7 1911.4,205.4 1909.1,206.9 1922.1,204.1 1964,203.6 1906.7,207 1923.9,205 1913.3,206.4 1966.1,202.8 1891.7,208.2 1889.9,209 1927.3,206.4 1915.4,206.6 1885.6,209.6 1921.7,205.1 1926.3,204.5 1958.8,205.1 1945.7,205.1 1943.4,205 1861,211 1908.4,208.2 1884.4,209 1891.3,208.4 1900.8,207.4 1971.4,204.2 1919.8,205.4 1906.1,209.1 1848,211.5 1961.1,204.8 1953.4,205 1966.9,204.8 1919,205.8 1938.6,205.2 1920,206.5 1934.1,204.8 1959.1,205.2 1915.3,205.5 1887.5,208.9 1937.4,204.1 1925.8,205.7 1927,204.8"/>
<path class="dz" d="M1767.6 197.75H2006.6"/>
<path class="rl" d="M1767.6 218.00L2006.6 202.40"/>
<rect class="bx" x="1767.6" y="27.0" width="239.0" height="343.2"/>
<path class="tk" d="M1775.7 370.2v8.8M1807.5 370.2v8.8M1839.2 370.2v8.8M1871.0 370.2v8.8M1902.7 370.2v8.8M1934.5 370.2v8.8M1966.3 370.2v8.8M1998.0 370.2v8.8M1767.6 356.86h-10M1767.6 303.89h-10M1767.6 250.92h-10M1767.6 197.95h-10M1767.6 144.98h-10M1767.6 92.01h-10M1767.6 39.04h-10"/>
<text class="ax" transform="translate(1775.2 403) scale(0.92 1)" text-anchor="middle">0.6</text>
<text class="ax" transform="translate(1838.7 403) scale(0.92 1)" text-anchor="middle">1.0</text>
<text class="ax" transform="translate(1902.2 403) scale(0.92 1)" text-anchor="middle">1.4</text>
<text class="ax" transform="translate(1965.8 403) scale(0.92 1)" text-anchor="middle">1.8</text>
<text class="ax" transform="translate(1746.8 357.26) rotate(-90) scale(0.92 1)" text-anchor="middle">-3</text>
<text class="ax" transform="translate(1746.8 304.29) rotate(-90) scale(0.92 1)" text-anchor="middle">-2</text>
<text class="ax" transform="translate(1746.8 251.32) rotate(-90) scale(0.92 1)" text-anchor="middle">-1</text>
<text class="ax" transform="translate(1746.8 198.35) rotate(-90) scale(0.92 1)" text-anchor="middle">0</text>
<text class="ax" transform="translate(1746.8 145.38) rotate(-90) scale(0.92 1)" text-anchor="middle">1</text>
<text class="ax" transform="translate(1746.8 92.41) rotate(-90) scale(0.92 1)" text-anchor="middle">2</text>
<text class="ax" transform="translate(1746.8 39.44) rotate(-90) scale(0.92 1)" text-anchor="middle">3</text>
<text class="ax" transform="translate(1876.2 435.8) scale(0.92 1)">Z</text><text class="sb" transform="translate(1884.7 439) scale(.95 1)">RH</text>
<text class="ax" transform="translate(1707.7 198.4) rotate(-90) scale(0.92 1)" text-anchor="middle">CPM effect (km)</text>
<text class="tg" x="1780.0" y="57.4">FG</text>
<text class="tg" x="1983.8" y="354.6" text-anchor="end">Model</text>
</g>
</svg></body></html>
